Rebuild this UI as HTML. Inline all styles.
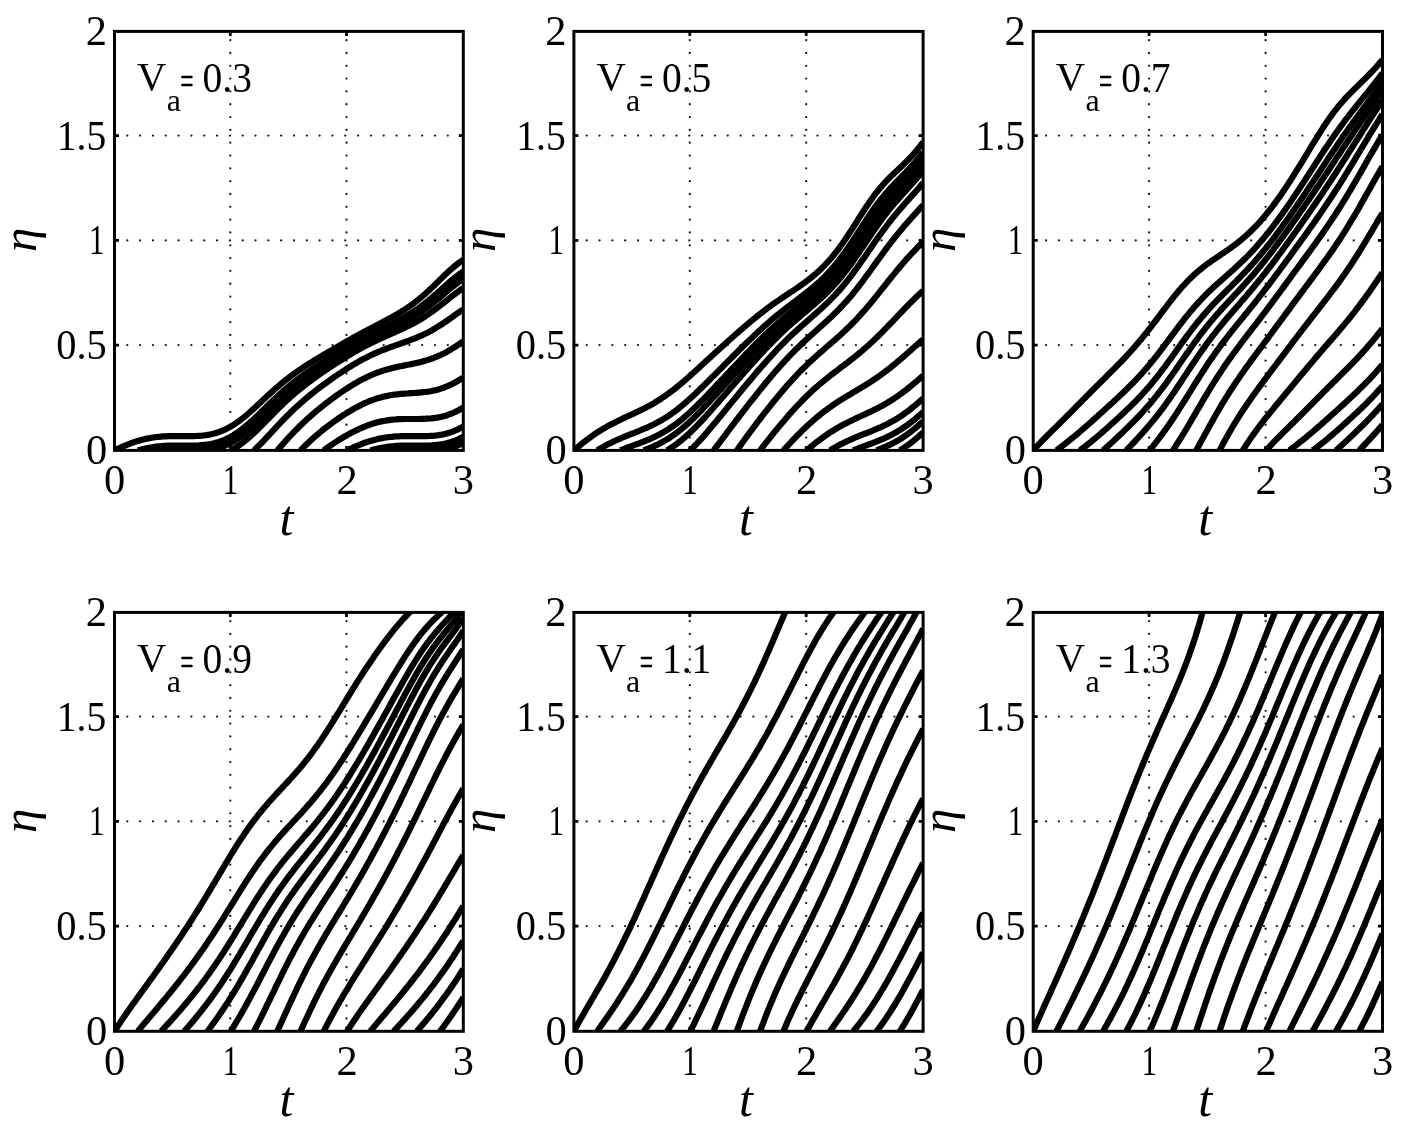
<!DOCTYPE html><html><head><meta charset="utf-8"><style>html,body{margin:0;padding:0;background:#fff;}svg{display:block;filter:grayscale(1)}text{font-family:"Liberation Serif",serif;fill:#000}</style></head><body>
<svg width="1402" height="1131" viewBox="0 0 1402 1131">
<rect width="1402" height="1131" fill="#fff"/>
<g stroke="#1a1a1a" stroke-width="2.3" stroke-linecap="round" stroke-dasharray="0 12.82"><line x1="230.3" y1="450.4" x2="230.3" y2="31.4"/><line x1="346.5" y1="450.4" x2="346.5" y2="31.4"/><line x1="114.5" y1="345.1" x2="463.3" y2="345.1"/><line x1="114.5" y1="240.4" x2="463.3" y2="240.4"/><line x1="114.5" y1="135.6" x2="463.3" y2="135.6"/></g>
<clipPath id="cp0"><rect x="114.5" y="31.4" width="348.8" height="419"/></clipPath>
<g clip-path="url(#cp0)" fill="none" stroke="#000" stroke-width="6.2" stroke-linejoin="round" stroke-linecap="butt"><path d="M114.5,450.4 L116.4,449.5 L118.2,448.6 L120.1,447.8 L121.9,446.9 L123.8,446.1 L125.7,445.4 L127.5,444.6 L129.4,443.9 L131.2,443.2 L133.1,442.5 L135,441.9 L136.8,441.3 L138.7,440.8 L140.5,440.2 L142.4,439.7 L144.3,439.3 L146.1,438.8 L148,438.4 L149.8,438.1 L151.7,437.7 L153.6,437.5 L155.4,437.2 L157.3,437 L159.1,436.8 L161,436.6 L162.9,436.4 L164.7,436.3 L166.6,436.3 L168.4,436.2 L170.3,436.1 L172.2,436.1 L174,436.1 L175.9,436.1 L177.7,436.1 L179.6,436.1 L181.5,436.1 L183.3,436.2 L185.2,436.2 L187.1,436.2 L188.9,436.2 L190.8,436.2 L192.6,436.2 L194.5,436.1 L196.4,436 L198.2,435.9 L200.1,435.8 L201.9,435.7 L203.8,435.5 L205.7,435.2 L207.5,434.9 L209.4,434.6 L211.2,434.2 L213.1,433.8 L215,433.3 L216.8,432.7 L218.7,432.1 L220.5,431.4 L222.4,430.7 L224.3,429.9 L226.1,429 L228,428 L229.8,427 L231.7,426 L233.6,424.8 L235.4,423.6 L237.3,422.3 L239.1,421 L241,419.6 L242.9,418.1 L244.7,416.6 L246.6,415.1 L248.4,413.5 L250.3,411.8 L252.2,410.2 L254,408.5 L255.9,406.8 L257.7,405 L259.6,403.3 L261.5,401.5 L263.3,399.8 L265.2,398.1 L267,396.3 L268.9,394.6 L270.8,392.9 L272.6,391.2 L274.5,389.5 L276.3,387.9 L278.2,386.3 L280.1,384.7 L281.9,383.2 L283.8,381.6 L285.6,380.1 L287.5,378.7 L289.4,377.2 L291.2,375.8 L293.1,374.5 L294.9,373.1 L296.8,371.8 L298.7,370.5 L300.5,369.3 L302.4,368 L304.2,366.8 L306.1,365.6 L308,364.4 L309.8,363.2 L311.7,362.1 L313.5,360.9 L315.4,359.8 L317.3,358.7 L319.1,357.5 L321,356.4 L322.8,355.3 L324.7,354.2 L326.6,353.1 L328.4,352 L330.3,350.9 L332.2,349.9 L334,348.8 L335.9,347.7 L337.7,346.6 L339.6,345.5 L341.5,344.5 L343.3,343.4 L345.2,342.3 L347,341.3 L348.9,340.2 L350.8,339.2 L352.6,338.1 L354.5,337.1 L356.3,336.1 L358.2,335.1 L360.1,334 L361.9,333 L363.8,332.1 L365.6,331 L367.5,330.1 L369.4,329.1 L371.2,328.1 L373.1,327.2 L374.9,326.2 L376.8,325.2 L378.7,324.2 L380.5,323.3 L382.4,322.3 L384.2,321.3 L386.1,320.3 L388,319.3 L389.8,318.3 L391.7,317.3 L393.5,316.3 L395.4,315.2 L397.3,314.1 L399.1,313 L401,311.9 L402.8,310.7 L404.7,309.6 L406.6,308.3 L408.4,307.1 L410.3,305.8 L412.1,304.4 L414,303 L415.9,301.6 L417.7,300.1 L419.6,298.6 L421.4,297.1 L423.3,295.5 L425.2,293.9 L427,292.2 L428.9,290.5 L430.7,288.7 L432.6,287 L434.5,285.2 L436.3,283.4 L438.2,281.6 L440,279.7 L441.9,277.9 L443.8,276.1 L445.6,274.3 L447.5,272.6 L449.3,270.8 L451.2,269.2 L453.1,267.5 L454.9,266 L456.8,264.5 L458.6,263 L460.5,261.7 L462.4,260.4 L463.3,259.9"/><path d="M137.8,450.4 L139.6,449.9 L141.5,449.4 L143.3,449 L145.2,448.6 L147.1,448.2 L148.9,447.8 L150.8,447.5 L152.6,447.2 L154.5,446.9 L156.4,446.6 L158.2,446.4 L160.1,446.3 L161.9,446.1 L163.8,445.9 L165.7,445.8 L167.5,445.7 L169.4,445.7 L171.2,445.6 L173.1,445.6 L175,445.6 L176.8,445.6 L178.7,445.6 L180.5,445.6 L182.4,445.6 L184.3,445.6 L186.1,445.6 L188,445.6 L189.8,445.6 L191.7,445.6 L193.6,445.6 L195.4,445.5 L197.3,445.5 L199.1,445.4 L201,445.2 L202.9,445.1 L204.7,444.9 L206.6,444.7 L208.4,444.4 L210.3,444.1 L212.2,443.7 L214,443.3 L215.9,442.8 L217.7,442.3 L219.6,441.7 L221.5,441 L223.3,440.3 L225.2,439.5 L227,438.6 L228.9,437.7 L230.8,436.7 L232.6,435.6 L234.5,434.5 L236.3,433.2 L238.2,432 L240.1,430.6 L241.9,429.2 L243.8,427.7 L245.6,426.2 L247.5,424.7 L249.4,423 L251.2,421.4 L253.1,419.7 L255,417.9 L256.8,416.2 L258.7,414.4 L260.5,412.6 L262.4,410.8 L264.3,409 L266.1,407.1 L268,405.3 L269.8,403.5 L271.7,401.8 L273.6,400 L275.4,398.2 L277.3,396.5 L279.1,394.8 L281,393.1 L282.9,391.4 L284.7,389.8 L286.6,388.2 L288.4,386.7 L290.3,385.1 L292.2,383.7 L294,382.2 L295.9,380.7 L297.7,379.3 L299.6,377.9 L301.5,376.6 L303.3,375.2 L305.2,373.9 L307,372.6 L308.9,371.3 L310.8,370.1 L312.6,368.8 L314.5,367.6 L316.3,366.4 L318.2,365.2 L320.1,364 L321.9,362.8 L323.8,361.6 L325.6,360.4 L327.5,359.3 L329.4,358.1 L331.2,357 L333.1,355.8 L334.9,354.7 L336.8,353.5 L338.7,352.4 L340.5,351.3 L342.4,350.2 L344.2,349.1 L346.1,348 L348,346.9 L349.8,345.8 L351.7,344.7 L353.5,343.7 L355.4,342.6 L357.3,341.6 L359.1,340.5 L361,339.5 L362.8,338.5 L364.7,337.5 L366.6,336.5 L368.4,335.6 L370.3,334.6 L372.1,333.6 L374,332.7 L375.9,331.8 L377.7,330.8 L379.6,329.9 L381.4,329 L383.3,328.1 L385.2,327.2 L387,326.2 L388.9,325.3 L390.7,324.4 L392.6,323.4 L394.5,322.5 L396.3,321.5 L398.2,320.5 L400.1,319.5 L401.9,318.5 L403.8,317.5 L405.6,316.4 L407.5,315.3 L409.4,314.2 L411.2,313 L413.1,311.8 L414.9,310.6 L416.8,309.3 L418.7,308 L420.5,306.7 L422.4,305.3 L424.2,303.9 L426.1,302.4 L428,300.9 L429.8,299.4 L431.7,297.8 L433.5,296.2 L435.4,294.6 L437.3,293 L439.1,291.3 L441,289.7 L442.8,288 L444.7,286.3 L446.6,284.7 L448.4,283.1 L450.3,281.4 L452.1,279.9 L454,278.3 L455.9,276.9 L457.7,275.4 L459.6,274 L461.4,272.7 L463.3,271.5"/><path d="M161,450.4 L162.9,450.3 L164.7,450.1 L166.6,450 L168.4,449.9 L170.3,449.8 L172.2,449.8 L174,449.8 L175.9,449.7 L177.7,449.7 L179.6,449.7 L181.5,449.7 L183.3,449.7 L185.2,449.7 L187.1,449.7 L188.9,449.7 L190.8,449.7 L192.6,449.7 L194.5,449.6 L196.4,449.6 L198.2,449.5 L200.1,449.4 L201.9,449.3 L203.8,449.1 L205.7,448.9 L207.5,448.7 L209.4,448.4 L211.2,448.1 L213.1,447.7 L215,447.3 L216.8,446.8 L218.7,446.2 L220.5,445.6 L222.4,445 L224.3,444.2 L226.1,443.4 L228,442.5 L229.8,441.6 L231.7,440.6 L233.6,439.5 L235.4,438.3 L237.3,437.1 L239.1,435.8 L241,434.4 L242.9,433 L244.7,431.5 L246.6,430 L248.4,428.4 L250.3,426.7 L252.2,425 L254,423.3 L255.9,421.5 L257.7,419.8 L259.6,417.9 L261.5,416.1 L263.3,414.3 L265.2,412.4 L267,410.6 L268.9,408.8 L270.8,406.9 L272.6,405.1 L274.5,403.3 L276.3,401.5 L278.2,399.7 L280.1,398 L281.9,396.3 L283.8,394.6 L285.6,393 L287.5,391.3 L289.4,389.7 L291.2,388.2 L293.1,386.6 L294.9,385.1 L296.8,383.7 L298.7,382.2 L300.5,380.8 L302.4,379.4 L304.2,378 L306.1,376.7 L308,375.4 L309.8,374.1 L311.7,372.8 L313.5,371.5 L315.4,370.2 L317.3,369 L319.1,367.7 L321,366.5 L322.8,365.3 L324.7,364.1 L326.6,362.9 L328.4,361.7 L330.3,360.5 L332.2,359.4 L334,358.2 L335.9,357 L337.7,355.9 L339.6,354.7 L341.5,353.6 L343.3,352.4 L345.2,351.3 L347,350.2 L348.9,349.1 L350.8,348 L352.6,346.9 L354.5,345.9 L356.3,344.8 L358.2,343.8 L360.1,342.7 L361.9,341.7 L363.8,340.7 L365.6,339.7 L367.5,338.8 L369.4,337.8 L371.2,336.9 L373.1,335.9 L374.9,335 L376.8,334.1 L378.7,333.2 L380.5,332.3 L382.4,331.4 L384.2,330.5 L386.1,329.6 L388,328.7 L389.8,327.8 L391.7,326.9 L393.5,326 L395.4,325.1 L397.3,324.2 L399.1,323.2 L401,322.2 L402.8,321.3 L404.7,320.3 L406.6,319.3 L408.4,318.2 L410.3,317.1 L412.1,316 L414,314.9 L415.9,313.7 L417.7,312.5 L419.6,311.3 L421.4,310 L423.3,308.6 L425.2,307.3 L427,305.9 L428.9,304.4 L430.7,303 L432.6,301.5 L434.5,300 L436.3,298.4 L438.2,296.8 L440,295.3 L441.9,293.7 L443.8,292.1 L445.6,290.5 L447.5,288.9 L449.3,287.3 L451.2,285.8 L453.1,284.2 L454.9,282.8 L456.8,281.3 L458.6,279.9 L460.5,278.6 L462.4,277.3 L463.3,276.7"/><path d="M184.3,450.4 L186.1,450.4 L188,450.4 L189.8,450.4 L191.7,450.4 L193.6,450.4 L195.4,450.3 L197.3,450.2 L199.1,450.1 L201,450 L202.9,449.9 L204.7,449.7 L206.6,449.5 L208.4,449.2 L210.3,448.9 L212.2,448.6 L214,448.2 L215.9,447.7 L217.7,447.2 L219.6,446.6 L221.5,446 L223.3,445.3 L225.2,444.5 L227,443.7 L228.9,442.8 L230.8,441.8 L232.6,440.7 L234.5,439.6 L236.3,438.4 L238.2,437.2 L240.1,435.8 L241.9,434.4 L243.8,433 L245.6,431.5 L247.5,429.9 L249.4,428.3 L251.2,426.6 L253.1,424.9 L255,423.1 L256.8,421.4 L258.7,419.6 L260.5,417.8 L262.4,415.9 L264.3,414.1 L266.1,412.2 L268,410.4 L269.8,408.5 L271.7,406.7 L273.6,404.9 L275.4,403.1 L277.3,401.3 L279.1,399.5 L281,397.8 L282.9,396.1 L284.7,394.4 L286.6,392.8 L288.4,391.2 L290.3,389.6 L292.2,388 L294,386.5 L295.9,385 L297.7,383.5 L299.6,382.1 L301.5,380.7 L303.3,379.3 L305.2,377.9 L307,376.6 L308.9,375.3 L310.8,374 L312.6,372.7 L314.5,371.4 L316.3,370.1 L318.2,368.9 L320.1,367.6 L321.9,366.4 L323.8,365.2 L325.6,364 L327.5,362.8 L329.4,361.6 L331.2,360.4 L333.1,359.2 L334.9,358.1 L336.8,356.9 L338.7,355.8 L340.5,354.6 L342.4,353.5 L344.2,352.4 L346.1,351.2 L348,350.1 L349.8,349 L351.7,347.9 L353.5,346.9 L355.4,345.8 L357.3,344.7 L359.1,343.7 L361,342.7 L362.8,341.7 L364.7,340.7 L366.6,339.7 L368.4,338.7 L370.3,337.8 L372.1,336.8 L374,335.9 L375.9,335 L377.7,334.1 L379.6,333.2 L381.4,332.3 L383.3,331.4 L385.2,330.5 L387,329.6 L388.9,328.7 L390.7,327.8 L392.6,326.9 L394.5,326 L396.3,325.1 L398.2,324.2 L400.1,323.3 L401.9,322.3 L403.8,321.3 L405.6,320.3 L407.5,319.3 L409.4,318.2 L411.2,317.2 L413.1,316.1 L414.9,314.9 L416.8,313.7 L418.7,312.5 L420.5,311.3 L422.4,310 L424.2,308.7 L426.1,307.3 L428,305.9 L429.8,304.4 L431.7,303 L433.5,301.5 L435.4,299.9 L437.3,298.4 L439.1,296.8 L441,295.3 L442.8,293.7 L444.7,292.1 L446.6,290.5 L448.4,288.9 L450.3,287.4 L452.1,285.8 L454,284.3 L455.9,282.9 L457.7,281.5 L459.6,280.1 L461.4,278.8 L463.3,277.5"/><path d="M207.5,450.4 L209.4,450.1 L211.2,449.8 L213.1,449.4 L215,449 L216.8,448.5 L218.7,448 L220.5,447.4 L222.4,446.7 L224.3,446 L226.1,445.2 L228,444.3 L229.8,443.4 L231.7,442.4 L233.6,441.3 L235.4,440.1 L237.3,438.9 L239.1,437.6 L241,436.3 L242.9,434.8 L244.7,433.3 L246.6,431.8 L248.4,430.2 L250.3,428.6 L252.2,426.9 L254,425.2 L255.9,423.4 L257.7,421.6 L259.6,419.8 L261.5,417.9 L263.3,416.1 L265.2,414.2 L267,412.4 L268.9,410.5 L270.8,408.7 L272.6,406.8 L274.5,405 L276.3,403.2 L278.2,401.5 L280.1,399.7 L281.9,398 L283.8,396.3 L285.6,394.6 L287.5,393 L289.4,391.3 L291.2,389.7 L293.1,388.2 L294.9,386.7 L296.8,385.2 L298.7,383.7 L300.5,382.3 L302.4,380.9 L304.2,379.5 L306.1,378.1 L308,376.8 L309.8,375.5 L311.7,374.1 L313.5,372.8 L315.4,371.6 L317.3,370.3 L319.1,369.1 L321,367.8 L322.8,366.6 L324.7,365.4 L326.6,364.2 L328.4,363 L330.3,361.8 L332.2,360.6 L334,359.4 L335.9,358.2 L337.7,357.1 L339.6,355.9 L341.5,354.8 L343.3,353.6 L345.2,352.5 L347,351.4 L348.9,350.3 L350.8,349.2 L352.6,348.1 L354.5,347 L356.3,346 L358.2,344.9 L360.1,343.9 L361.9,342.9 L363.8,341.9 L365.6,340.9 L367.5,339.9 L369.4,338.9 L371.2,338 L373.1,337.1 L374.9,336.2 L376.8,335.2 L378.7,334.3 L380.5,333.4 L382.4,332.6 L384.2,331.7 L386.1,330.8 L388,329.9 L389.8,329 L391.7,328.2 L393.5,327.3 L395.4,326.4 L397.3,325.5 L399.1,324.6 L401,323.6 L402.8,322.7 L404.7,321.7 L406.6,320.7 L408.4,319.7 L410.3,318.6 L412.1,317.5 L414,316.4 L415.9,315.3 L417.7,314.1 L419.6,312.9 L421.4,311.6 L423.3,310.3 L425.2,309 L427,307.6 L428.9,306.2 L430.7,304.8 L432.6,303.4 L434.5,301.9 L436.3,300.3 L438.2,298.8 L440,297.3 L441.9,295.7 L443.8,294.1 L445.6,292.5 L447.5,291 L449.3,289.4 L451.2,287.9 L453.1,286.4 L454.9,284.9 L456.8,283.5 L458.6,282.1 L460.5,280.7 L462.4,279.5 L463.3,278.9"/><path d="M230.8,450.4 L232.6,449.4 L234.5,448.3 L236.3,447.2 L238.2,445.9 L240.1,444.6 L241.9,443.3 L243.8,441.8 L245.6,440.3 L247.5,438.8 L249.4,437.2 L251.2,435.5 L253.1,433.8 L255,432 L256.8,430.2 L258.7,428.4 L260.5,426.5 L262.4,424.7 L264.3,422.8 L266.1,420.9 L268,419 L269.8,417.1 L271.7,415.2 L273.6,413.3 L275.4,411.4 L277.3,409.5 L279.1,407.7 L281,405.9 L282.9,404.1 L284.7,402.3 L286.6,400.6 L288.4,398.9 L290.3,397.2 L292.2,395.6 L294,394 L295.9,392.4 L297.7,390.8 L299.6,389.3 L301.5,387.8 L303.3,386.3 L305.2,384.9 L307,383.5 L308.9,382.1 L310.8,380.7 L312.6,379.3 L314.5,378 L316.3,376.6 L318.2,375.3 L320.1,374 L321.9,372.7 L323.8,371.5 L325.6,370.2 L327.5,368.9 L329.4,367.7 L331.2,366.5 L333.1,365.3 L334.9,364 L336.8,362.8 L338.7,361.6 L340.5,360.5 L342.4,359.3 L344.2,358.1 L346.1,357 L348,355.8 L349.8,354.7 L351.7,353.6 L353.5,352.5 L355.4,351.4 L357.3,350.4 L359.1,349.3 L361,348.3 L362.8,347.3 L364.7,346.3 L366.6,345.3 L368.4,344.4 L370.3,343.4 L372.1,342.5 L374,341.6 L375.9,340.7 L377.7,339.8 L379.6,339 L381.4,338.1 L383.3,337.3 L385.2,336.4 L387,335.6 L388.9,334.8 L390.7,334 L392.6,333.1 L394.5,332.3 L396.3,331.5 L398.2,330.7 L400.1,329.8 L401.9,329 L403.8,328.1 L405.6,327.2 L407.5,326.3 L409.4,325.4 L411.2,324.5 L413.1,323.5 L414.9,322.5 L416.8,321.5 L418.7,320.4 L420.5,319.3 L422.4,318.1 L424.2,317 L426.1,315.8 L428,314.5 L429.8,313.2 L431.7,311.9 L433.5,310.6 L435.4,309.2 L437.3,307.8 L439.1,306.4 L441,304.9 L442.8,303.5 L444.7,302 L446.6,300.5 L448.4,299.1 L450.3,297.6 L452.1,296.1 L454,294.7 L455.9,293.3 L457.7,291.9 L459.6,290.5 L461.4,289.2 L463.3,288"/><path d="M254,450.4 L255.9,448.6 L257.7,446.8 L259.6,444.9 L261.5,443 L263.3,441.1 L265.2,439.1 L267,437.1 L268.9,435.1 L270.8,433.1 L272.6,431.1 L274.5,429.1 L276.3,427.1 L278.2,425.1 L280.1,423.1 L281.9,421.2 L283.8,419.2 L285.6,417.4 L287.5,415.5 L289.4,413.6 L291.2,411.8 L293.1,410 L294.9,408.3 L296.8,406.6 L298.7,404.9 L300.5,403.2 L302.4,401.6 L304.2,400 L306.1,398.4 L308,396.8 L309.8,395.3 L311.7,393.8 L313.5,392.3 L315.4,390.9 L317.3,389.4 L319.1,388 L321,386.6 L322.8,385.2 L324.7,383.9 L326.6,382.5 L328.4,381.2 L330.3,379.9 L332.2,378.5 L334,377.2 L335.9,376 L337.7,374.7 L339.6,373.5 L341.5,372.2 L343.3,371 L345.2,369.8 L347,368.6 L348.9,367.4 L350.8,366.3 L352.6,365.2 L354.5,364 L356.3,363 L358.2,361.9 L360.1,360.8 L361.9,359.8 L363.8,358.8 L365.6,357.9 L367.5,356.9 L369.4,356 L371.2,355.1 L373.1,354.2 L374.9,353.4 L376.8,352.6 L378.7,351.8 L380.5,351 L382.4,350.2 L384.2,349.5 L386.1,348.8 L388,348.1 L389.8,347.4 L391.7,346.7 L393.5,346.1 L395.4,345.4 L397.3,344.8 L399.1,344.1 L401,343.5 L402.8,342.8 L404.7,342.2 L406.6,341.5 L408.4,340.8 L410.3,340.1 L412.1,339.4 L414,338.7 L415.9,338 L417.7,337.2 L419.6,336.4 L421.4,335.6 L423.3,334.7 L425.2,333.8 L427,332.9 L428.9,331.9 L430.7,330.9 L432.6,329.9 L434.5,328.8 L436.3,327.7 L438.2,326.5 L440,325.3 L441.9,324.2 L443.8,322.9 L445.6,321.7 L447.5,320.4 L449.3,319.1 L451.2,317.8 L453.1,316.4 L454.9,315.1 L456.8,313.8 L458.6,312.5 L460.5,311.2 L462.4,309.9 L463.3,309.2"/><path d="M277.3,450.4 L279.1,448.3 L281,446.2 L282.9,444.1 L284.7,442 L286.6,439.9 L288.4,437.9 L290.3,435.9 L292.2,433.9 L294,431.9 L295.9,430 L297.7,428.2 L299.6,426.3 L301.5,424.5 L303.3,422.7 L305.2,421 L307,419.2 L308.9,417.6 L310.8,415.9 L312.6,414.3 L314.5,412.7 L316.3,411.1 L318.2,409.6 L320.1,408 L321.9,406.6 L323.8,405.1 L325.6,403.6 L327.5,402.2 L329.4,400.8 L331.2,399.4 L333.1,398 L334.9,396.7 L336.8,395.3 L338.7,394 L340.5,392.7 L342.4,391.5 L344.2,390.2 L346.1,389 L348,387.8 L349.8,386.6 L351.7,385.5 L353.5,384.3 L355.4,383.2 L357.3,382.2 L359.1,381.1 L361,380.1 L362.8,379.1 L364.7,378.2 L366.6,377.3 L368.4,376.4 L370.3,375.5 L372.1,374.7 L374,374 L375.9,373.2 L377.7,372.5 L379.6,371.9 L381.4,371.2 L383.3,370.6 L385.2,370 L387,369.5 L388.9,369 L390.7,368.5 L392.6,368 L394.5,367.6 L396.3,367.1 L398.2,366.7 L400.1,366.3 L401.9,366 L403.8,365.6 L405.6,365.2 L407.5,364.8 L409.4,364.5 L411.2,364.1 L413.1,363.7 L414.9,363.3 L416.8,362.9 L418.7,362.5 L420.5,362 L422.4,361.5 L424.2,361 L426.1,360.5 L428,359.9 L429.8,359.3 L431.7,358.7 L433.5,358 L435.4,357.2 L437.3,356.5 L439.1,355.6 L441,354.8 L442.8,353.9 L444.7,352.9 L446.6,351.9 L448.4,350.9 L450.3,349.8 L452.1,348.7 L454,347.5 L455.9,346.4 L457.7,345.1 L459.6,343.9 L461.4,342.7 L463.3,341.4"/><path d="M300.5,450.4 L302.4,448.5 L304.2,446.6 L306.1,444.8 L308,443 L309.8,441.3 L311.7,439.6 L313.5,437.9 L315.4,436.2 L317.3,434.6 L319.1,433.1 L321,431.5 L322.8,430 L324.7,428.5 L326.6,427.1 L328.4,425.7 L330.3,424.3 L332.2,422.9 L334,421.5 L335.9,420.2 L337.7,418.9 L339.6,417.6 L341.5,416.4 L343.3,415.2 L345.2,414 L347,412.8 L348.9,411.7 L350.8,410.6 L352.6,409.5 L354.5,408.4 L356.3,407.4 L358.2,406.4 L360.1,405.4 L361.9,404.5 L363.8,403.6 L365.6,402.8 L367.5,402 L369.4,401.2 L371.2,400.5 L373.1,399.8 L374.9,399.1 L376.8,398.5 L378.7,397.9 L380.5,397.4 L382.4,396.9 L384.2,396.5 L386.1,396.1 L388,395.7 L389.8,395.3 L391.7,395 L393.5,394.7 L395.4,394.5 L397.3,394.3 L399.1,394.1 L401,393.9 L402.8,393.8 L404.7,393.6 L406.6,393.5 L408.4,393.4 L410.3,393.2 L412.1,393.1 L414,393 L415.9,392.9 L417.7,392.7 L419.6,392.6 L421.4,392.4 L423.3,392.2 L425.2,392 L427,391.8 L428.9,391.5 L430.7,391.2 L432.6,390.8 L434.5,390.4 L436.3,390 L438.2,389.5 L440,388.9 L441.9,388.3 L443.8,387.7 L445.6,386.9 L447.5,386.2 L449.3,385.4 L451.2,384.5 L453.1,383.5 L454.9,382.6 L456.8,381.5 L458.6,380.4 L460.5,379.3 L462.4,378.1 L463.3,377.5"/><path d="M323.8,450.4 L325.6,449 L327.5,447.6 L329.4,446.3 L331.2,445 L333.1,443.7 L334.9,442.5 L336.8,441.3 L338.7,440.1 L340.5,439 L342.4,437.9 L344.2,436.7 L346.1,435.7 L348,434.6 L349.8,433.6 L351.7,432.6 L353.5,431.7 L355.4,430.7 L357.3,429.9 L359.1,429 L361,428.2 L362.8,427.4 L364.7,426.6 L366.6,425.9 L368.4,425.2 L370.3,424.5 L372.1,423.9 L374,423.3 L375.9,422.8 L377.7,422.3 L379.6,421.8 L381.4,421.4 L383.3,421 L385.2,420.7 L387,420.4 L388.9,420.1 L390.7,419.9 L392.6,419.7 L394.5,419.5 L396.3,419.4 L398.2,419.2 L400.1,419.1 L401.9,419.1 L403.8,419 L405.6,419 L407.5,419 L409.4,419 L411.2,419 L413.1,419 L414.9,419 L416.8,419 L418.7,419 L420.5,418.9 L422.4,418.9 L424.2,418.8 L426.1,418.7 L428,418.6 L429.8,418.5 L431.7,418.3 L433.5,418.1 L435.4,417.9 L437.3,417.6 L439.1,417.2 L441,416.9 L442.8,416.4 L444.7,415.9 L446.6,415.4 L448.4,414.7 L450.3,414 L452.1,413.3 L454,412.5 L455.9,411.6 L457.7,410.7 L459.6,409.7 L461.4,408.6 L463.3,407.5"/><path d="M347,450.4 L348.9,449.5 L350.8,448.6 L352.6,447.8 L354.5,446.9 L356.3,446.1 L358.2,445.4 L360.1,444.6 L361.9,443.9 L363.8,443.2 L365.6,442.5 L367.5,441.9 L369.4,441.3 L371.2,440.8 L373.1,440.2 L374.9,439.7 L376.8,439.3 L378.7,438.8 L380.5,438.4 L382.4,438.1 L384.2,437.7 L386.1,437.5 L388,437.2 L389.8,437 L391.7,436.8 L393.5,436.6 L395.4,436.4 L397.3,436.3 L399.1,436.3 L401,436.2 L402.8,436.1 L404.7,436.1 L406.6,436.1 L408.4,436.1 L410.3,436.1 L412.1,436.1 L414,436.1 L415.9,436.2 L417.7,436.2 L419.6,436.2 L421.4,436.2 L423.3,436.2 L425.2,436.2 L427,436.1 L428.9,436 L430.7,435.9 L432.6,435.8 L434.5,435.7 L436.3,435.5 L438.2,435.2 L440,434.9 L441.9,434.6 L443.8,434.2 L445.6,433.8 L447.5,433.3 L449.3,432.7 L451.2,432.1 L453.1,431.4 L454.9,430.7 L456.8,429.9 L458.6,429 L460.5,428 L462.4,427 L463.3,426.5"/><path d="M370.3,450.4 L372.1,449.9 L374,449.4 L375.9,449 L377.7,448.6 L379.6,448.2 L381.4,447.8 L383.3,447.5 L385.2,447.2 L387,446.9 L388.9,446.6 L390.7,446.4 L392.6,446.3 L394.5,446.1 L396.3,445.9 L398.2,445.8 L400.1,445.7 L401.9,445.7 L403.8,445.6 L405.6,445.6 L407.5,445.6 L409.4,445.6 L411.2,445.6 L413.1,445.6 L414.9,445.6 L416.8,445.6 L418.7,445.6 L420.5,445.6 L422.4,445.6 L424.2,445.6 L426.1,445.6 L428,445.5 L429.8,445.5 L431.7,445.4 L433.5,445.2 L435.4,445.1 L437.3,444.9 L439.1,444.7 L441,444.4 L442.8,444.1 L444.7,443.7 L446.6,443.3 L448.4,442.8 L450.3,442.3 L452.1,441.7 L454,441 L455.9,440.3 L457.7,439.5 L459.6,438.6 L461.4,437.7 L463.3,436.7"/><path d="M393.5,450.4 L395.4,450.3 L397.3,450.1 L399.1,450 L401,449.9 L402.8,449.8 L404.7,449.8 L406.6,449.8 L408.4,449.7 L410.3,449.7 L412.1,449.7 L414,449.7 L415.9,449.7 L417.7,449.7 L419.6,449.7 L421.4,449.7 L423.3,449.7 L425.2,449.7 L427,449.6 L428.9,449.6 L430.7,449.5 L432.6,449.4 L434.5,449.3 L436.3,449.1 L438.2,448.9 L440,448.7 L441.9,448.4 L443.8,448.1 L445.6,447.7 L447.5,447.3 L449.3,446.8 L451.2,446.2 L453.1,445.6 L454.9,445 L456.8,444.2 L458.6,443.4 L460.5,442.5 L462.4,441.6 L463.3,441.1"/><path d="M416.8,450.4 L418.7,450.4 L420.5,450.4 L422.4,450.4 L424.2,450.4 L426.1,450.4 L428,450.3 L429.8,450.2 L431.7,450.1 L433.5,450 L435.4,449.9 L437.3,449.7 L439.1,449.5 L441,449.2 L442.8,448.9 L444.7,448.6 L446.6,448.2 L448.4,447.7 L450.3,447.2 L452.1,446.6 L454,446 L455.9,445.3 L457.7,444.5 L459.6,443.7 L461.4,442.8 L463.3,441.8"/><path d="M440,450.4 L441.9,450.1 L443.8,449.8 L445.6,449.4 L447.5,449 L449.3,448.5 L451.2,448 L453.1,447.4 L454.9,446.7 L456.8,446 L458.6,445.2 L460.5,444.3 L462.4,443.4 L463.3,442.9"/></g>
<path d="M230.3,450.4v-4.5M230.3,31.4v4.5M346.5,450.4v-4.5M346.5,31.4v4.5M114.5,345.1h4.5M463.3,345.1h-4.5M114.5,240.4h4.5M463.3,240.4h-4.5M114.5,135.6h4.5M463.3,135.6h-4.5" stroke="#000" stroke-width="2.8" fill="none"/>
<rect x="114.5" y="31.4" width="348.8" height="419" fill="none" stroke="#000" stroke-width="3"/>
<text x="107.3" y="463.8" font-size="42.5" text-anchor="end" textLength="21.25" lengthAdjust="spacingAndGlyphs">0</text>
<text x="106.8" y="359" font-size="42.5" text-anchor="end" textLength="50.5" lengthAdjust="spacingAndGlyphs">0.5</text>
<text x="104.5" y="254.3" font-size="42.5" text-anchor="end" textLength="15.5" lengthAdjust="spacingAndGlyphs">1</text>
<text x="106.3" y="149.5" font-size="42.5" text-anchor="end" textLength="49.5" lengthAdjust="spacingAndGlyphs">1.5</text>
<text x="107" y="44.8" font-size="42.5" text-anchor="end" textLength="21.25" lengthAdjust="spacingAndGlyphs">2</text>
<text x="114.5" y="494" font-size="42.5" text-anchor="middle" textLength="21.25" lengthAdjust="spacingAndGlyphs">0</text>
<text x="230.5" y="494" font-size="42.5" text-anchor="middle" textLength="15.5" lengthAdjust="spacingAndGlyphs">1</text>
<text x="347" y="494" font-size="42.5" text-anchor="middle" textLength="21.25" lengthAdjust="spacingAndGlyphs">2</text>
<text x="463.3" y="494" font-size="42.5" text-anchor="middle" textLength="21.25" lengthAdjust="spacingAndGlyphs">3</text>
<text x="286.4" y="535" font-size="50" font-style="italic" text-anchor="middle">t</text>
<text transform="translate(36,239.9) rotate(-90)" font-size="49" font-style="italic" text-anchor="middle">η</text>
<text x="137" y="90" font-size="40.5">V</text>
<text x="166.7" y="110.7" font-size="32">a</text>
<path d="M182.4,77h9.1M182.4,85h9.1" stroke="#000" stroke-width="2.5" stroke-linecap="round"/>
<text x="202.5" y="91.7" font-size="42.5" textLength="49.4" lengthAdjust="spacingAndGlyphs">0.3</text>
<g stroke="#1a1a1a" stroke-width="2.3" stroke-linecap="round" stroke-dasharray="0 12.82"><line x1="689.8" y1="450.4" x2="689.8" y2="31.4"/><line x1="806.2" y1="450.4" x2="806.2" y2="31.4"/><line x1="573.9" y1="345.1" x2="923.1" y2="345.1"/><line x1="573.9" y1="240.4" x2="923.1" y2="240.4"/><line x1="573.9" y1="135.6" x2="923.1" y2="135.6"/></g>
<clipPath id="cp1"><rect x="573.9" y="31.4" width="349.2" height="419"/></clipPath>
<g clip-path="url(#cp1)" fill="none" stroke="#000" stroke-width="6.2" stroke-linejoin="round" stroke-linecap="butt"><path d="M573.9,450.4 L575.8,448.8 L577.6,447.2 L579.5,445.7 L581.3,444.1 L583.2,442.6 L585.1,441.2 L586.9,439.8 L588.8,438.4 L590.7,437 L592.5,435.7 L594.4,434.4 L596.2,433.2 L598.1,431.9 L600,430.8 L601.8,429.6 L603.7,428.5 L605.6,427.4 L607.4,426.3 L609.3,425.3 L611.1,424.3 L613,423.4 L614.9,422.4 L616.7,421.5 L618.6,420.6 L620.5,419.7 L622.3,418.8 L624.2,417.9 L626,417 L627.9,416.2 L629.8,415.3 L631.6,414.5 L633.5,413.6 L635.4,412.7 L637.2,411.9 L639.1,411 L640.9,410.1 L642.8,409.1 L644.7,408.2 L646.5,407.2 L648.4,406.2 L650.3,405.2 L652.1,404.2 L654,403.1 L655.8,402 L657.7,400.8 L659.6,399.7 L661.4,398.4 L663.3,397.2 L665.2,395.9 L667,394.6 L668.9,393.2 L670.7,391.8 L672.6,390.4 L674.5,389 L676.3,387.5 L678.2,386 L680.1,384.4 L681.9,382.9 L683.8,381.3 L685.6,379.7 L687.5,378 L689.4,376.4 L691.2,374.7 L693.1,373 L695,371.4 L696.8,369.7 L698.7,368 L700.5,366.2 L702.4,364.5 L704.3,362.8 L706.1,361.1 L708,359.4 L709.9,357.7 L711.7,356 L713.6,354.3 L715.4,352.6 L717.3,350.9 L719.2,349.2 L721,347.5 L722.9,345.8 L724.8,344.2 L726.6,342.5 L728.5,340.8 L730.3,339.2 L732.2,337.5 L734.1,335.8 L735.9,334.2 L737.8,332.6 L739.7,330.9 L741.5,329.3 L743.4,327.7 L745.2,326.1 L747.1,324.5 L749,323 L750.8,321.4 L752.7,319.9 L754.6,318.3 L756.4,316.8 L758.3,315.3 L760.1,313.8 L762,312.4 L763.9,311 L765.7,309.6 L767.6,308.1 L769.5,306.8 L771.3,305.4 L773.2,304.1 L775,302.8 L776.9,301.5 L778.8,300.2 L780.6,298.9 L782.5,297.7 L784.4,296.4 L786.2,295.2 L788.1,293.9 L789.9,292.7 L791.8,291.5 L793.7,290.2 L795.5,289 L797.4,287.7 L799.3,286.4 L801.1,285.1 L803,283.8 L804.8,282.5 L806.7,281.1 L808.6,279.7 L810.4,278.2 L812.3,276.7 L814.1,275.2 L816,273.6 L817.9,271.9 L819.7,270.2 L821.6,268.4 L823.5,266.6 L825.3,264.7 L827.2,262.7 L829,260.6 L830.9,258.5 L832.8,256.3 L834.6,254 L836.5,251.6 L838.4,249.2 L840.2,246.6 L842.1,244 L843.9,241.4 L845.8,238.6 L847.7,235.8 L849.5,233 L851.4,230.1 L853.3,227.2 L855.1,224.3 L857,221.3 L858.8,218.4 L860.7,215.4 L862.6,212.5 L864.4,209.7 L866.3,206.8 L868.2,204.1 L870,201.4 L871.9,198.7 L873.7,196.2 L875.6,193.7 L877.5,191.3 L879.3,189 L881.2,186.8 L883.1,184.7 L884.9,182.6 L886.8,180.6 L888.6,178.7 L890.5,176.8 L892.4,175 L894.2,173.2 L896.1,171.5 L898,169.7 L899.8,168 L901.7,166.2 L903.5,164.4 L905.4,162.6 L907.3,160.7 L909.1,158.8 L911,156.9 L912.9,154.8 L914.7,152.7 L916.6,150.5 L918.4,148.2 L920.3,145.8 L922.2,143.3 L923.1,142.1"/><path d="M597.2,450.4 L599,449.3 L600.9,448.2 L602.8,447.1 L604.6,446.1 L606.5,445.1 L608.4,444.1 L610.2,443.2 L612.1,442.2 L613.9,441.3 L615.8,440.5 L617.7,439.6 L619.5,438.8 L621.4,438 L623.3,437.2 L625.1,436.5 L627,435.7 L628.8,435 L630.7,434.2 L632.6,433.5 L634.4,432.8 L636.3,432 L638.2,431.3 L640,430.5 L641.9,429.7 L643.7,429 L645.6,428.2 L647.5,427.4 L649.3,426.5 L651.2,425.6 L653.1,424.7 L654.9,423.8 L656.8,422.8 L658.6,421.8 L660.5,420.8 L662.4,419.7 L664.2,418.6 L666.1,417.4 L668,416.2 L669.8,414.9 L671.7,413.6 L673.5,412.3 L675.4,410.9 L677.3,409.5 L679.1,408 L681,406.5 L682.9,404.9 L684.7,403.3 L686.6,401.7 L688.4,400.1 L690.3,398.4 L692.2,396.7 L694,395 L695.9,393.2 L697.7,391.4 L699.6,389.6 L701.5,387.8 L703.3,386 L705.2,384.2 L707.1,382.3 L708.9,380.4 L710.8,378.6 L712.6,376.7 L714.5,374.9 L716.4,373 L718.2,371.1 L720.1,369.2 L722,367.4 L723.8,365.5 L725.7,363.6 L727.5,361.8 L729.4,359.9 L731.3,358.1 L733.1,356.2 L735,354.3 L736.9,352.5 L738.7,350.6 L740.6,348.8 L742.4,347 L744.3,345.1 L746.2,343.3 L748,341.5 L749.9,339.7 L751.8,337.9 L753.6,336.2 L755.5,334.4 L757.3,332.6 L759.2,330.9 L761.1,329.2 L762.9,327.5 L764.8,325.8 L766.7,324.2 L768.5,322.5 L770.4,320.9 L772.2,319.3 L774.1,317.8 L776,316.2 L777.8,314.7 L779.7,313.2 L781.6,311.7 L783.4,310.2 L785.3,308.8 L787.1,307.3 L789,305.9 L790.9,304.5 L792.7,303.1 L794.6,301.7 L796.5,300.3 L798.3,298.9 L800.2,297.5 L802,296 L803.9,294.6 L805.8,293.2 L807.6,291.7 L809.5,290.2 L811.4,288.7 L813.2,287.1 L815.1,285.5 L816.9,283.9 L818.8,282.2 L820.7,280.5 L822.5,278.7 L824.4,276.9 L826.3,275 L828.1,273 L830,271 L831.8,268.9 L833.7,266.8 L835.6,264.5 L837.4,262.2 L839.3,259.9 L841.2,257.4 L843,254.9 L844.9,252.3 L846.7,249.7 L848.6,247 L850.5,244.3 L852.3,241.5 L854.2,238.6 L856.1,235.8 L857.9,232.9 L859.8,230 L861.6,227.1 L863.5,224.2 L865.4,221.4 L867.2,218.5 L869.1,215.8 L871,213 L872.8,210.3 L874.7,207.7 L876.5,205.1 L878.4,202.6 L880.3,200.2 L882.1,197.9 L884,195.6 L885.9,193.4 L887.7,191.3 L889.6,189.2 L891.4,187.1 L893.3,185.2 L895.2,183.2 L897,181.3 L898.9,179.4 L900.8,177.5 L902.6,175.6 L904.5,173.7 L906.3,171.7 L908.2,169.8 L910.1,167.8 L911.9,165.8 L913.8,163.7 L915.7,161.5 L917.5,159.3 L919.4,157 L921.2,154.6 L923.1,152.2"/><path d="M620.5,450.4 L622.3,449.6 L624.2,448.9 L626,448.2 L627.9,447.4 L629.8,446.8 L631.6,446.1 L633.5,445.4 L635.4,444.7 L637.2,444 L639.1,443.3 L640.9,442.6 L642.8,441.9 L644.7,441.1 L646.5,440.4 L648.4,439.6 L650.3,438.8 L652.1,438 L654,437.1 L655.8,436.2 L657.7,435.3 L659.6,434.4 L661.4,433.3 L663.3,432.3 L665.2,431.2 L667,430.1 L668.9,428.9 L670.7,427.7 L672.6,426.4 L674.5,425.1 L676.3,423.7 L678.2,422.3 L680.1,420.8 L681.9,419.3 L683.8,417.7 L685.6,416.1 L687.5,414.5 L689.4,412.8 L691.2,411.1 L693.1,409.3 L695,407.5 L696.8,405.7 L698.7,403.8 L700.5,402 L702.4,400.1 L704.3,398.2 L706.1,396.3 L708,394.3 L709.9,392.4 L711.7,390.4 L713.6,388.5 L715.4,386.5 L717.3,384.5 L719.2,382.5 L721,380.6 L722.9,378.6 L724.8,376.6 L726.6,374.6 L728.5,372.6 L730.3,370.7 L732.2,368.7 L734.1,366.7 L735.9,364.8 L737.8,362.8 L739.7,360.8 L741.5,358.9 L743.4,356.9 L745.2,355 L747.1,353 L749,351.1 L750.8,349.2 L752.7,347.3 L754.6,345.4 L756.4,343.5 L758.3,341.6 L760.1,339.8 L762,338 L763.9,336.1 L765.7,334.3 L767.6,332.6 L769.5,330.8 L771.3,329.1 L773.2,327.4 L775,325.7 L776.9,324 L778.8,322.4 L780.6,320.7 L782.5,319.1 L784.4,317.6 L786.2,316 L788.1,314.5 L789.9,312.9 L791.8,311.4 L793.7,309.9 L795.5,308.4 L797.4,306.9 L799.3,305.5 L801.1,304 L803,302.5 L804.8,301 L806.7,299.5 L808.6,298 L810.4,296.4 L812.3,294.9 L814.1,293.3 L816,291.7 L817.9,290 L819.7,288.3 L821.6,286.6 L823.5,284.8 L825.3,283 L827.2,281.1 L829,279.1 L830.9,277.1 L832.8,275.1 L834.6,272.9 L836.5,270.7 L838.4,268.5 L840.2,266.1 L842.1,263.7 L843.9,261.3 L845.8,258.7 L847.7,256.2 L849.5,253.5 L851.4,250.8 L853.3,248.1 L855.1,245.3 L857,242.5 L858.8,239.6 L860.7,236.8 L862.6,233.9 L864.4,231.1 L866.3,228.3 L868.2,225.5 L870,222.7 L871.9,219.9 L873.7,217.2 L875.6,214.6 L877.5,212 L879.3,209.5 L881.2,207 L883.1,204.6 L884.9,202.3 L886.8,200 L888.6,197.8 L890.5,195.6 L892.4,193.5 L894.2,191.4 L896.1,189.4 L898,187.4 L899.8,185.4 L901.7,183.5 L903.5,181.5 L905.4,179.5 L907.3,177.5 L909.1,175.5 L911,173.5 L912.9,171.4 L914.7,169.3 L916.6,167.1 L918.4,164.9 L920.3,162.6 L922.2,160.2 L923.1,159"/><path d="M643.7,450.4 L645.6,449.7 L647.5,448.9 L649.3,448.2 L651.2,447.4 L653.1,446.6 L654.9,445.7 L656.8,444.9 L658.6,444 L660.5,443 L662.4,442 L664.2,441 L666.1,439.9 L668,438.8 L669.8,437.6 L671.7,436.3 L673.5,435.1 L675.4,433.7 L677.3,432.3 L679.1,430.9 L681,429.4 L682.9,427.9 L684.7,426.3 L686.6,424.7 L688.4,423 L690.3,421.3 L692.2,419.5 L694,417.7 L695.9,415.9 L697.7,414 L699.6,412.1 L701.5,410.2 L703.3,408.2 L705.2,406.2 L707.1,404.2 L708.9,402.3 L710.8,400.2 L712.6,398.2 L714.5,396.2 L716.4,394.1 L718.2,392.1 L720.1,390 L722,388 L723.8,385.9 L725.7,383.9 L727.5,381.8 L729.4,379.8 L731.3,377.7 L733.1,375.7 L735,373.6 L736.9,371.6 L738.7,369.5 L740.6,367.5 L742.4,365.4 L744.3,363.4 L746.2,361.4 L748,359.4 L749.9,357.4 L751.8,355.4 L753.6,353.4 L755.5,351.5 L757.3,349.5 L759.2,347.6 L761.1,345.6 L762.9,343.7 L764.8,341.8 L766.7,340 L768.5,338.1 L770.4,336.3 L772.2,334.5 L774.1,332.7 L776,330.9 L777.8,329.2 L779.7,327.5 L781.6,325.8 L783.4,324.1 L785.3,322.5 L787.1,320.8 L789,319.2 L790.9,317.6 L792.7,316.1 L794.6,314.5 L796.5,313 L798.3,311.4 L800.2,309.9 L802,308.4 L803.9,306.9 L805.8,305.3 L807.6,303.8 L809.5,302.2 L811.4,300.7 L813.2,299.1 L815.1,297.5 L816.9,295.8 L818.8,294.2 L820.7,292.4 L822.5,290.7 L824.4,288.9 L826.3,287.1 L828.1,285.2 L830,283.2 L831.8,281.2 L833.7,279.2 L835.6,277.1 L837.4,274.9 L839.3,272.6 L841.2,270.3 L843,267.9 L844.9,265.5 L846.7,263 L848.6,260.4 L850.5,257.8 L852.3,255.2 L854.2,252.5 L856.1,249.7 L857.9,246.9 L859.8,244.1 L861.6,241.3 L863.5,238.5 L865.4,235.7 L867.2,232.9 L869.1,230 L871,227.3 L872.8,224.5 L874.7,221.9 L876.5,219.2 L878.4,216.6 L880.3,214.1 L882.1,211.6 L884,209.2 L885.9,206.8 L887.7,204.5 L889.6,202.2 L891.4,200 L893.3,197.9 L895.2,195.8 L897,193.7 L898.9,191.7 L900.8,189.6 L902.6,187.6 L904.5,185.6 L906.3,183.6 L908.2,181.6 L910.1,179.5 L911.9,177.5 L913.8,175.3 L915.7,173.2 L917.5,171 L919.4,168.8 L921.2,166.5 L923.1,164.2"/><path d="M667,450.4 L668.9,449.3 L670.7,448.1 L672.6,446.8 L674.5,445.5 L676.3,444.2 L678.2,442.8 L680.1,441.3 L681.9,439.8 L683.8,438.2 L685.6,436.6 L687.5,434.9 L689.4,433.2 L691.2,431.4 L693.1,429.6 L695,427.8 L696.8,425.9 L698.7,423.9 L700.5,422 L702.4,420 L704.3,418 L706.1,415.9 L708,413.8 L709.9,411.8 L711.7,409.7 L713.6,407.6 L715.4,405.4 L717.3,403.3 L719.2,401.2 L721,399 L722.9,396.9 L724.8,394.7 L726.6,392.6 L728.5,390.5 L730.3,388.3 L732.2,386.2 L734.1,384 L735.9,381.9 L737.8,379.8 L739.7,377.6 L741.5,375.5 L743.4,373.4 L745.2,371.3 L747.1,369.2 L749,367.1 L750.8,365 L752.7,363 L754.6,360.9 L756.4,358.8 L758.3,356.8 L760.1,354.8 L762,352.8 L763.9,350.8 L765.7,348.8 L767.6,346.8 L769.5,344.9 L771.3,343 L773.2,341.1 L775,339.2 L776.9,337.4 L778.8,335.6 L780.6,333.8 L782.5,332 L784.4,330.3 L786.2,328.5 L788.1,326.8 L789.9,325.2 L791.8,323.5 L793.7,321.9 L795.5,320.3 L797.4,318.7 L799.3,317.1 L801.1,315.5 L803,313.9 L804.8,312.3 L806.7,310.8 L808.6,309.2 L810.4,307.6 L812.3,306 L814.1,304.4 L816,302.7 L817.9,301.1 L819.7,299.4 L821.6,297.7 L823.5,295.9 L825.3,294.2 L827.2,292.3 L829,290.4 L830.9,288.5 L832.8,286.5 L834.6,284.5 L836.5,282.4 L838.4,280.2 L840.2,278 L842.1,275.7 L843.9,273.4 L845.8,271 L847.7,268.6 L849.5,266 L851.4,263.5 L853.3,260.9 L855.1,258.2 L857,255.5 L858.8,252.8 L860.7,250 L862.6,247.2 L864.4,244.5 L866.3,241.7 L868.2,238.9 L870,236.1 L871.9,233.4 L873.7,230.6 L875.6,227.9 L877.5,225.3 L879.3,222.7 L881.2,220.1 L883.1,217.6 L884.9,215.2 L886.8,212.8 L888.6,210.4 L890.5,208.1 L892.4,205.9 L894.2,203.7 L896.1,201.5 L898,199.4 L899.8,197.3 L901.7,195.2 L903.5,193.2 L905.4,191.1 L907.3,189.1 L909.1,187 L911,184.9 L912.9,182.8 L914.7,180.7 L916.6,178.6 L918.4,176.4 L920.3,174.2 L922.2,171.9 L923.1,170.8"/><path d="M690.3,450.4 L692.2,448.6 L694,446.7 L695.9,444.7 L697.7,442.7 L699.6,440.7 L701.5,438.6 L703.3,436.6 L705.2,434.4 L707.1,432.2 L708.9,430.1 L710.8,427.8 L712.6,425.6 L714.5,423.4 L716.4,421.1 L718.2,418.8 L720.1,416.6 L722,414.3 L723.8,412 L725.7,409.7 L727.5,407.5 L729.4,405.2 L731.3,402.9 L733.1,400.6 L735,398.3 L736.9,396.1 L738.7,393.8 L740.6,391.6 L742.4,389.3 L744.3,387.1 L746.2,384.8 L748,382.6 L749.9,380.4 L751.8,378.2 L753.6,376 L755.5,373.8 L757.3,371.6 L759.2,369.4 L761.1,367.3 L762.9,365.2 L764.8,363.1 L766.7,361 L768.5,358.9 L770.4,356.8 L772.2,354.8 L774.1,352.8 L776,350.8 L777.8,348.8 L779.7,346.9 L781.6,344.9 L783.4,343.1 L785.3,341.2 L787.1,339.4 L789,337.5 L790.9,335.8 L792.7,334 L794.6,332.3 L796.5,330.6 L798.3,328.9 L800.2,327.2 L802,325.5 L803.9,323.9 L805.8,322.2 L807.6,320.6 L809.5,319 L811.4,317.3 L813.2,315.7 L815.1,314.1 L816.9,312.4 L818.8,310.8 L820.7,309.1 L822.5,307.4 L824.4,305.6 L826.3,303.9 L828.1,302.1 L830,300.2 L831.8,298.3 L833.7,296.4 L835.6,294.4 L837.4,292.4 L839.3,290.3 L841.2,288.2 L843,286 L844.9,283.8 L846.7,281.5 L848.6,279.1 L850.5,276.7 L852.3,274.3 L854.2,271.7 L856.1,269.2 L857.9,266.6 L859.8,264 L861.6,261.3 L863.5,258.6 L865.4,255.9 L867.2,253.2 L869.1,250.5 L871,247.7 L872.8,245 L874.7,242.3 L876.5,239.6 L878.4,237 L880.3,234.4 L882.1,231.8 L884,229.3 L885.9,226.8 L887.7,224.3 L889.6,221.9 L891.4,219.6 L893.3,217.2 L895.2,215 L897,212.7 L898.9,210.5 L900.8,208.4 L902.6,206.2 L904.5,204.1 L906.3,202 L908.2,199.9 L910.1,197.8 L911.9,195.7 L913.8,193.6 L915.7,191.5 L917.5,189.4 L919.4,187.2 L921.2,185.1 L923.1,182.9"/><path d="M713.6,450.4 L715.4,448 L717.3,445.5 L719.2,443.1 L721,440.6 L722.9,438.1 L724.8,435.7 L726.6,433.2 L728.5,430.7 L730.3,428.2 L732.2,425.7 L734.1,423.3 L735.9,420.8 L737.8,418.4 L739.7,416 L741.5,413.5 L743.4,411.1 L745.2,408.7 L747.1,406.3 L749,403.9 L750.8,401.5 L752.7,399.2 L754.6,396.8 L756.4,394.5 L758.3,392.2 L760.1,389.9 L762,387.5 L763.9,385.3 L765.7,383 L767.6,380.7 L769.5,378.5 L771.3,376.3 L773.2,374.1 L775,371.9 L776.9,369.8 L778.8,367.7 L780.6,365.6 L782.5,363.5 L784.4,361.5 L786.2,359.5 L788.1,357.5 L789.9,355.5 L791.8,353.6 L793.7,351.7 L795.5,349.8 L797.4,348 L799.3,346.2 L801.1,344.4 L803,342.6 L804.8,340.9 L806.7,339.2 L808.6,337.5 L810.4,335.8 L812.3,334.1 L814.1,332.4 L816,330.8 L817.9,329.1 L819.7,327.4 L821.6,325.7 L823.5,324.1 L825.3,322.4 L827.2,320.7 L829,318.9 L830.9,317.2 L832.8,315.4 L834.6,313.6 L836.5,311.8 L838.4,309.9 L840.2,307.9 L842.1,306 L843.9,304 L845.8,301.9 L847.7,299.8 L849.5,297.7 L851.4,295.5 L853.3,293.2 L855.1,290.9 L857,288.6 L858.8,286.2 L860.7,283.7 L862.6,281.3 L864.4,278.8 L866.3,276.2 L868.2,273.7 L870,271.1 L871.9,268.5 L873.7,265.9 L875.6,263.3 L877.5,260.7 L879.3,258.2 L881.2,255.6 L883.1,253 L884.9,250.5 L886.8,248 L888.6,245.5 L890.5,243.1 L892.4,240.7 L894.2,238.3 L896.1,236 L898,233.7 L899.8,231.4 L901.7,229.2 L903.5,227 L905.4,224.8 L907.3,222.7 L909.1,220.6 L911,218.5 L912.9,216.4 L914.7,214.3 L916.6,212.3 L918.4,210.2 L920.3,208.2 L922.2,206.1 L923.1,205.1"/><path d="M736.9,450.4 L738.7,447.8 L740.6,445.2 L742.4,442.6 L744.3,440 L746.2,437.4 L748,434.9 L749.9,432.4 L751.8,429.8 L753.6,427.4 L755.5,424.9 L757.3,422.4 L759.2,420 L761.1,417.5 L762.9,415.1 L764.8,412.7 L766.7,410.3 L768.5,408 L770.4,405.7 L772.2,403.3 L774.1,401 L776,398.7 L777.8,396.5 L779.7,394.2 L781.6,392 L783.4,389.8 L785.3,387.7 L787.1,385.5 L789,383.4 L790.9,381.3 L792.7,379.3 L794.6,377.3 L796.5,375.3 L798.3,373.3 L800.2,371.4 L802,369.5 L803.9,367.7 L805.8,365.9 L807.6,364.1 L809.5,362.3 L811.4,360.6 L813.2,358.8 L815.1,357.2 L816.9,355.5 L818.8,353.8 L820.7,352.2 L822.5,350.6 L824.4,349 L826.3,347.3 L828.1,345.7 L830,344.1 L831.8,342.5 L833.7,340.9 L835.6,339.3 L837.4,337.6 L839.3,336 L841.2,334.3 L843,332.5 L844.9,330.8 L846.7,329 L848.6,327.2 L850.5,325.4 L852.3,323.5 L854.2,321.6 L856.1,319.7 L857.9,317.7 L859.8,315.7 L861.6,313.6 L863.5,311.5 L865.4,309.4 L867.2,307.2 L869.1,305 L871,302.7 L872.8,300.5 L874.7,298.2 L876.5,295.9 L878.4,293.6 L880.3,291.2 L882.1,288.9 L884,286.5 L885.9,284.2 L887.7,281.8 L889.6,279.5 L891.4,277.2 L893.3,274.9 L895.2,272.6 L897,270.3 L898.9,268.1 L900.8,265.9 L902.6,263.7 L904.5,261.6 L906.3,259.4 L908.2,257.3 L910.1,255.3 L911.9,253.3 L913.8,251.3 L915.7,249.3 L917.5,247.4 L919.4,245.5 L921.2,243.6 L923.1,241.8"/><path d="M760.1,450.4 L762,447.9 L763.9,445.5 L765.7,443.1 L767.6,440.8 L769.5,438.4 L771.3,436 L773.2,433.7 L775,431.4 L776.9,429.2 L778.8,426.9 L780.6,424.7 L782.5,422.5 L784.4,420.3 L786.2,418.1 L788.1,416 L789.9,413.8 L791.8,411.7 L793.7,409.7 L795.5,407.6 L797.4,405.6 L799.3,403.7 L801.1,401.7 L803,399.8 L804.8,398 L806.7,396.1 L808.6,394.3 L810.4,392.6 L812.3,390.8 L814.1,389.1 L816,387.4 L817.9,385.8 L819.7,384.2 L821.6,382.6 L823.5,381.1 L825.3,379.6 L827.2,378.1 L829,376.6 L830.9,375.1 L832.8,373.7 L834.6,372.3 L836.5,370.9 L838.4,369.4 L840.2,368 L842.1,366.6 L843.9,365.2 L845.8,363.8 L847.7,362.4 L849.5,361 L851.4,359.5 L853.3,358.1 L855.1,356.6 L857,355.1 L858.8,353.5 L860.7,352 L862.6,350.4 L864.4,348.8 L866.3,347.2 L868.2,345.5 L870,343.8 L871.9,342.1 L873.7,340.4 L875.6,338.6 L877.5,336.8 L879.3,335 L881.2,333.1 L883.1,331.2 L884.9,329.3 L886.8,327.4 L888.6,325.5 L890.5,323.5 L892.4,321.6 L894.2,319.6 L896.1,317.7 L898,315.7 L899.8,313.7 L901.7,311.8 L903.5,309.9 L905.4,307.9 L907.3,306 L909.1,304.1 L911,302.3 L912.9,300.4 L914.7,298.6 L916.6,296.8 L918.4,295.1 L920.3,293.3 L922.2,291.6 L923.1,290.8"/><path d="M783.4,450.4 L785.3,448.3 L787.1,446.3 L789,444.3 L790.9,442.3 L792.7,440.3 L794.6,438.4 L796.5,436.4 L798.3,434.5 L800.2,432.7 L802,430.8 L803.9,429 L805.8,427.2 L807.6,425.5 L809.5,423.8 L811.4,422.1 L813.2,420.4 L815.1,418.8 L816.9,417.2 L818.8,415.7 L820.7,414.2 L822.5,412.7 L824.4,411.3 L826.3,409.9 L828.1,408.5 L830,407.2 L831.8,405.9 L833.7,404.6 L835.6,403.3 L837.4,402.1 L839.3,400.9 L841.2,399.7 L843,398.6 L844.9,397.4 L846.7,396.3 L848.6,395.2 L850.5,394.1 L852.3,393 L854.2,391.9 L856.1,390.8 L857.9,389.6 L859.8,388.5 L861.6,387.4 L863.5,386.3 L865.4,385.1 L867.2,384 L869.1,382.8 L871,381.6 L872.8,380.4 L874.7,379.1 L876.5,377.9 L878.4,376.6 L880.3,375.3 L882.1,373.9 L884,372.5 L885.9,371.1 L887.7,369.7 L889.6,368.3 L891.4,366.8 L893.3,365.3 L895.2,363.8 L897,362.2 L898.9,360.6 L900.8,359 L902.6,357.4 L904.5,355.8 L906.3,354.2 L908.2,352.5 L910.1,350.9 L911.9,349.2 L913.8,347.5 L915.7,345.9 L917.5,344.2 L919.4,342.6 L921.2,340.9 L923.1,339.3"/><path d="M806.7,450.4 L808.6,448.8 L810.4,447.2 L812.3,445.7 L814.1,444.1 L816,442.6 L817.9,441.2 L819.7,439.8 L821.6,438.4 L823.5,437 L825.3,435.7 L827.2,434.4 L829,433.2 L830.9,431.9 L832.8,430.8 L834.6,429.6 L836.5,428.5 L838.4,427.4 L840.2,426.3 L842.1,425.3 L843.9,424.3 L845.8,423.4 L847.7,422.4 L849.5,421.5 L851.4,420.6 L853.3,419.7 L855.1,418.8 L857,417.9 L858.8,417 L860.7,416.2 L862.6,415.3 L864.4,414.5 L866.3,413.6 L868.2,412.7 L870,411.9 L871.9,411 L873.7,410.1 L875.6,409.1 L877.5,408.2 L879.3,407.2 L881.2,406.2 L883.1,405.2 L884.9,404.2 L886.8,403.1 L888.6,402 L890.5,400.8 L892.4,399.7 L894.2,398.4 L896.1,397.2 L898,395.9 L899.8,394.6 L901.7,393.2 L903.5,391.8 L905.4,390.4 L907.3,389 L909.1,387.5 L911,386 L912.9,384.4 L914.7,382.9 L916.6,381.3 L918.4,379.7 L920.3,378 L922.2,376.4 L923.1,375.5"/><path d="M830,450.4 L831.8,449.3 L833.7,448.2 L835.6,447.1 L837.4,446.1 L839.3,445.1 L841.2,444.1 L843,443.2 L844.9,442.2 L846.7,441.3 L848.6,440.5 L850.5,439.6 L852.3,438.8 L854.2,438 L856.1,437.2 L857.9,436.5 L859.8,435.7 L861.6,435 L863.5,434.2 L865.4,433.5 L867.2,432.8 L869.1,432 L871,431.3 L872.8,430.5 L874.7,429.7 L876.5,429 L878.4,428.2 L880.3,427.4 L882.1,426.5 L884,425.6 L885.9,424.7 L887.7,423.8 L889.6,422.8 L891.4,421.8 L893.3,420.8 L895.2,419.7 L897,418.6 L898.9,417.4 L900.8,416.2 L902.6,414.9 L904.5,413.6 L906.3,412.3 L908.2,410.9 L910.1,409.5 L911.9,408 L913.8,406.5 L915.7,404.9 L917.5,403.3 L919.4,401.7 L921.2,400.1 L923.1,398.4"/><path d="M853.3,450.4 L855.1,449.6 L857,448.9 L858.8,448.2 L860.7,447.4 L862.6,446.8 L864.4,446.1 L866.3,445.4 L868.2,444.7 L870,444 L871.9,443.3 L873.7,442.6 L875.6,441.9 L877.5,441.1 L879.3,440.4 L881.2,439.6 L883.1,438.8 L884.9,438 L886.8,437.1 L888.6,436.2 L890.5,435.3 L892.4,434.4 L894.2,433.3 L896.1,432.3 L898,431.2 L899.8,430.1 L901.7,428.9 L903.5,427.7 L905.4,426.4 L907.3,425.1 L909.1,423.7 L911,422.3 L912.9,420.8 L914.7,419.3 L916.6,417.7 L918.4,416.1 L920.3,414.5 L922.2,412.8 L923.1,411.9"/><path d="M876.5,450.4 L878.4,449.7 L880.3,448.9 L882.1,448.2 L884,447.4 L885.9,446.6 L887.7,445.7 L889.6,444.9 L891.4,444 L893.3,443 L895.2,442 L897,441 L898.9,439.9 L900.8,438.8 L902.6,437.6 L904.5,436.3 L906.3,435.1 L908.2,433.7 L910.1,432.3 L911.9,430.9 L913.8,429.4 L915.7,427.9 L917.5,426.3 L919.4,424.7 L921.2,423 L923.1,421.3"/><path d="M899.8,450.4 L901.7,449.3 L903.5,448.1 L905.4,446.8 L907.3,445.5 L909.1,444.2 L911,442.8 L912.9,441.3 L914.7,439.8 L916.6,438.2 L918.4,436.6 L920.3,434.9 L922.2,433.2 L923.1,432.3"/></g>
<path d="M689.8,450.4v-4.5M689.8,31.4v4.5M806.2,450.4v-4.5M806.2,31.4v4.5M573.9,345.1h4.5M923.1,345.1h-4.5M573.9,240.4h4.5M923.1,240.4h-4.5M573.9,135.6h4.5M923.1,135.6h-4.5" stroke="#000" stroke-width="2.8" fill="none"/>
<rect x="573.9" y="31.4" width="349.2" height="419" fill="none" stroke="#000" stroke-width="3"/>
<text x="566.7" y="463.8" font-size="42.5" text-anchor="end" textLength="21.25" lengthAdjust="spacingAndGlyphs">0</text>
<text x="566.2" y="359" font-size="42.5" text-anchor="end" textLength="50.5" lengthAdjust="spacingAndGlyphs">0.5</text>
<text x="563.9" y="254.3" font-size="42.5" text-anchor="end" textLength="15.5" lengthAdjust="spacingAndGlyphs">1</text>
<text x="565.7" y="149.5" font-size="42.5" text-anchor="end" textLength="49.5" lengthAdjust="spacingAndGlyphs">1.5</text>
<text x="566.4" y="44.8" font-size="42.5" text-anchor="end" textLength="21.25" lengthAdjust="spacingAndGlyphs">2</text>
<text x="573.9" y="494" font-size="42.5" text-anchor="middle" textLength="21.25" lengthAdjust="spacingAndGlyphs">0</text>
<text x="690" y="494" font-size="42.5" text-anchor="middle" textLength="15.5" lengthAdjust="spacingAndGlyphs">1</text>
<text x="806.7" y="494" font-size="42.5" text-anchor="middle" textLength="21.25" lengthAdjust="spacingAndGlyphs">2</text>
<text x="923.1" y="494" font-size="42.5" text-anchor="middle" textLength="21.25" lengthAdjust="spacingAndGlyphs">3</text>
<text x="746" y="535" font-size="50" font-style="italic" text-anchor="middle">t</text>
<text transform="translate(495.4,239.9) rotate(-90)" font-size="49" font-style="italic" text-anchor="middle">η</text>
<text x="596.4" y="90" font-size="40.5">V</text>
<text x="626.1" y="110.7" font-size="32">a</text>
<path d="M641.8,77h9.1M641.8,85h9.1" stroke="#000" stroke-width="2.5" stroke-linecap="round"/>
<text x="661.9" y="91.7" font-size="42.5" textLength="49.4" lengthAdjust="spacingAndGlyphs">0.5</text>
<g stroke="#1a1a1a" stroke-width="2.3" stroke-linecap="round" stroke-dasharray="0 12.82"><line x1="1149.1" y1="450.4" x2="1149.1" y2="31.4"/><line x1="1265.6" y1="450.4" x2="1265.6" y2="31.4"/><line x1="1033.2" y1="345.1" x2="1382.5" y2="345.1"/><line x1="1033.2" y1="240.4" x2="1382.5" y2="240.4"/><line x1="1033.2" y1="135.6" x2="1382.5" y2="135.6"/></g>
<clipPath id="cp2"><rect x="1033.2" y="31.4" width="349.3" height="419"/></clipPath>
<g clip-path="url(#cp2)" fill="none" stroke="#000" stroke-width="6.2" stroke-linejoin="round" stroke-linecap="butt"><path d="M1033.2,450.4 L1035.1,448.3 L1036.9,446.3 L1038.8,444.3 L1040.7,442.4 L1042.5,440.4 L1044.4,438.5 L1046.2,436.7 L1048.1,434.8 L1050,432.9 L1051.8,431.1 L1053.7,429.3 L1055.6,427.4 L1057.4,425.6 L1059.3,423.7 L1061.1,421.9 L1063,420 L1064.9,418.2 L1066.7,416.3 L1068.6,414.5 L1070.5,412.6 L1072.3,410.7 L1074.2,408.8 L1076,406.9 L1077.9,405 L1079.8,403.2 L1081.6,401.3 L1083.5,399.4 L1085.4,397.5 L1087.2,395.6 L1089.1,393.7 L1091,391.8 L1092.8,390 L1094.7,388.1 L1096.5,386.3 L1098.4,384.4 L1100.3,382.5 L1102.1,380.7 L1104,378.9 L1105.9,377 L1107.7,375.1 L1109.6,373.3 L1111.4,371.4 L1113.3,369.6 L1115.2,367.7 L1117,365.8 L1118.9,363.9 L1120.8,362 L1122.6,360.1 L1124.5,358.1 L1126.3,356.1 L1128.2,354.1 L1130.1,352.1 L1131.9,350 L1133.8,347.9 L1135.7,345.7 L1137.5,343.6 L1139.4,341.3 L1141.3,339.1 L1143.1,336.8 L1145,334.5 L1146.8,332.1 L1148.7,329.8 L1150.6,327.4 L1152.4,324.9 L1154.3,322.5 L1156.2,320 L1158,317.6 L1159.9,315.1 L1161.7,312.6 L1163.6,310.1 L1165.5,307.7 L1167.3,305.2 L1169.2,302.8 L1171.1,300.4 L1172.9,298.1 L1174.8,295.7 L1176.6,293.5 L1178.5,291.2 L1180.4,289.1 L1182.2,286.9 L1184.1,284.9 L1186,282.9 L1187.8,280.9 L1189.7,279 L1191.5,277.2 L1193.4,275.4 L1195.3,273.7 L1197.1,272.1 L1199,270.5 L1200.9,269 L1202.7,267.5 L1204.6,266 L1206.5,264.6 L1208.3,263.3 L1210.2,261.9 L1212,260.6 L1213.9,259.3 L1215.8,258.1 L1217.6,256.8 L1219.5,255.6 L1221.4,254.3 L1223.2,253.1 L1225.1,251.8 L1226.9,250.5 L1228.8,249.2 L1230.7,247.9 L1232.5,246.6 L1234.4,245.2 L1236.3,243.8 L1238.1,242.3 L1240,240.8 L1241.8,239.3 L1243.7,237.7 L1245.6,236.1 L1247.4,234.4 L1249.3,232.6 L1251.2,230.9 L1253,229 L1254.9,227.1 L1256.8,225.2 L1258.6,223.2 L1260.5,221.1 L1262.3,219 L1264.2,216.8 L1266.1,214.5 L1267.9,212.2 L1269.8,209.9 L1271.7,207.5 L1273.5,205 L1275.4,202.5 L1277.2,200 L1279.1,197.4 L1281,194.7 L1282.8,192 L1284.7,189.2 L1286.6,186.5 L1288.4,183.6 L1290.3,180.8 L1292.1,177.8 L1294,174.9 L1295.9,171.9 L1297.7,168.9 L1299.6,165.9 L1301.5,162.8 L1303.3,159.8 L1305.2,156.7 L1307.1,153.6 L1308.9,150.5 L1310.8,147.4 L1312.6,144.4 L1314.5,141.3 L1316.4,138.3 L1318.2,135.3 L1320.1,132.3 L1322,129.4 L1323.8,126.5 L1325.7,123.7 L1327.5,121 L1329.4,118.3 L1331.3,115.7 L1333.1,113.1 L1335,110.7 L1336.9,108.3 L1338.7,106 L1340.6,103.8 L1342.4,101.6 L1344.3,99.5 L1346.2,97.5 L1348,95.5 L1349.9,93.6 L1351.8,91.7 L1353.6,89.9 L1355.5,88 L1357.4,86.2 L1359.2,84.4 L1361.1,82.6 L1362.9,80.8 L1364.8,79 L1366.7,77.1 L1368.5,75.2 L1370.4,73.3 L1372.3,71.4 L1374.1,69.4 L1376,67.4 L1377.8,65.3 L1379.7,63.1 L1381.6,60.9 L1382.5,59.8"/><path d="M1056.5,450.4 L1058.3,449 L1060.2,447.6 L1062.1,446.1 L1063.9,444.7 L1065.8,443.2 L1067.7,441.7 L1069.5,440.3 L1071.4,438.8 L1073.3,437.3 L1075.1,435.7 L1077,434.2 L1078.8,432.6 L1080.7,431 L1082.6,429.4 L1084.4,427.8 L1086.3,426.2 L1088.2,424.6 L1090,422.9 L1091.9,421.3 L1093.7,419.6 L1095.6,417.9 L1097.5,416.2 L1099.3,414.5 L1101.2,412.9 L1103.1,411.2 L1104.9,409.5 L1106.8,407.8 L1108.6,406.1 L1110.5,404.4 L1112.4,402.7 L1114.2,401 L1116.1,399.2 L1118,397.5 L1119.8,395.8 L1121.7,394 L1123.6,392.2 L1125.4,390.4 L1127.3,388.6 L1129.1,386.8 L1131,384.9 L1132.9,383 L1134.7,381.1 L1136.6,379.2 L1138.5,377.2 L1140.3,375.1 L1142.2,373.1 L1144,371 L1145.9,368.8 L1147.8,366.7 L1149.6,364.4 L1151.5,362.2 L1153.4,359.9 L1155.2,357.5 L1157.1,355.2 L1158.9,352.8 L1160.8,350.3 L1162.7,347.8 L1164.5,345.4 L1166.4,342.9 L1168.3,340.4 L1170.1,337.9 L1172,335.4 L1173.9,332.9 L1175.7,330.4 L1177.6,327.9 L1179.4,325.4 L1181.3,323 L1183.2,320.6 L1185,318.2 L1186.9,315.9 L1188.8,313.6 L1190.6,311.4 L1192.5,309.2 L1194.3,307 L1196.2,304.9 L1198.1,302.8 L1199.9,300.8 L1201.8,298.8 L1203.7,296.9 L1205.5,295 L1207.4,293.1 L1209.2,291.3 L1211.1,289.6 L1213,287.8 L1214.8,286.1 L1216.7,284.4 L1218.6,282.7 L1220.4,281.1 L1222.3,279.4 L1224.2,277.8 L1226,276.1 L1227.9,274.5 L1229.7,272.8 L1231.6,271.2 L1233.5,269.5 L1235.3,267.8 L1237.2,266.1 L1239.1,264.3 L1240.9,262.6 L1242.8,260.8 L1244.6,259 L1246.5,257.1 L1248.4,255.2 L1250.2,253.3 L1252.1,251.3 L1254,249.3 L1255.8,247.2 L1257.7,245.1 L1259.5,243 L1261.4,240.8 L1263.3,238.6 L1265.1,236.4 L1267,234 L1268.9,231.7 L1270.7,229.3 L1272.6,226.9 L1274.4,224.5 L1276.3,222 L1278.2,219.4 L1280,216.9 L1281.9,214.3 L1283.8,211.7 L1285.6,209 L1287.5,206.3 L1289.4,203.6 L1291.2,200.9 L1293.1,198.1 L1294.9,195.4 L1296.8,192.5 L1298.7,189.7 L1300.5,186.9 L1302.4,184.1 L1304.3,181.2 L1306.1,178.3 L1308,175.4 L1309.8,172.5 L1311.7,169.6 L1313.6,166.8 L1315.4,163.9 L1317.3,161 L1319.2,158.1 L1321,155.2 L1322.9,152.4 L1324.7,149.5 L1326.6,146.7 L1328.5,143.9 L1330.3,141.2 L1332.2,138.5 L1334.1,135.8 L1335.9,133.1 L1337.8,130.5 L1339.7,127.9 L1341.5,125.3 L1343.4,122.8 L1345.2,120.3 L1347.1,117.9 L1349,115.5 L1350.8,113.1 L1352.7,110.7 L1354.6,108.3 L1356.4,106 L1358.3,103.7 L1360.1,101.4 L1362,99.1 L1363.9,96.8 L1365.7,94.5 L1367.6,92.2 L1369.5,89.9 L1371.3,87.6 L1373.2,85.2 L1375,82.9 L1376.9,80.5 L1378.8,78.1 L1380.6,75.7 L1382.5,73.2"/><path d="M1079.8,450.4 L1081.6,449.1 L1083.5,447.7 L1085.4,446.3 L1087.2,444.8 L1089.1,443.3 L1091,441.9 L1092.8,440.3 L1094.7,438.8 L1096.5,437.2 L1098.4,435.6 L1100.3,434 L1102.1,432.4 L1104,430.7 L1105.9,429.1 L1107.7,427.5 L1109.6,425.8 L1111.4,424.1 L1113.3,422.4 L1115.2,420.7 L1117,419 L1118.9,417.3 L1120.8,415.6 L1122.6,413.8 L1124.5,412.1 L1126.3,410.3 L1128.2,408.5 L1130.1,406.7 L1131.9,404.9 L1133.8,403.1 L1135.7,401.2 L1137.5,399.2 L1139.4,397.3 L1141.3,395.3 L1143.1,393.3 L1145,391.2 L1146.8,389.1 L1148.7,387 L1150.6,384.8 L1152.4,382.5 L1154.3,380.3 L1156.2,378 L1158,375.6 L1159.9,373.2 L1161.7,370.7 L1163.6,368.3 L1165.5,365.8 L1167.3,363.2 L1169.2,360.7 L1171.1,358.1 L1172.9,355.5 L1174.8,352.9 L1176.6,350.3 L1178.5,347.7 L1180.4,345.1 L1182.2,342.5 L1184.1,340 L1186,337.4 L1187.8,334.9 L1189.7,332.4 L1191.5,330 L1193.4,327.5 L1195.3,325.2 L1197.1,322.8 L1199,320.6 L1200.9,318.3 L1202.7,316.1 L1204.6,313.9 L1206.5,311.8 L1208.3,309.7 L1210.2,307.6 L1212,305.6 L1213.9,303.6 L1215.8,301.7 L1217.6,299.7 L1219.5,297.8 L1221.4,296 L1223.2,294.1 L1225.1,292.2 L1226.9,290.4 L1228.8,288.5 L1230.7,286.7 L1232.5,284.8 L1234.4,283 L1236.3,281.1 L1238.1,279.2 L1240,277.3 L1241.8,275.4 L1243.7,273.5 L1245.6,271.5 L1247.4,269.5 L1249.3,267.5 L1251.2,265.5 L1253,263.4 L1254.9,261.3 L1256.8,259.1 L1258.6,256.9 L1260.5,254.7 L1262.3,252.5 L1264.2,250.2 L1266.1,247.9 L1267.9,245.6 L1269.8,243.2 L1271.7,240.8 L1273.5,238.3 L1275.4,235.9 L1277.2,233.4 L1279.1,230.9 L1281,228.3 L1282.8,225.7 L1284.7,223.2 L1286.6,220.5 L1288.4,217.9 L1290.3,215.2 L1292.1,212.6 L1294,209.9 L1295.9,207.2 L1297.7,204.4 L1299.6,201.7 L1301.5,198.9 L1303.3,196.2 L1305.2,193.4 L1307.1,190.6 L1308.9,187.8 L1310.8,185 L1312.6,182.2 L1314.5,179.4 L1316.4,176.6 L1318.2,173.7 L1320.1,170.9 L1322,168.1 L1323.8,165.3 L1325.7,162.4 L1327.5,159.6 L1329.4,156.8 L1331.3,154 L1333.1,151.3 L1335,148.5 L1336.9,145.7 L1338.7,143 L1340.6,140.3 L1342.4,137.6 L1344.3,134.9 L1346.2,132.2 L1348,129.6 L1349.9,126.9 L1351.8,124.3 L1353.6,121.7 L1355.5,119.2 L1357.4,116.6 L1359.2,114 L1361.1,111.5 L1362.9,108.9 L1364.8,106.4 L1366.7,103.8 L1368.5,101.3 L1370.4,98.8 L1372.3,96.2 L1374.1,93.7 L1376,91.1 L1377.8,88.6 L1379.7,86 L1381.6,83.4 L1382.5,82.1"/><path d="M1103.1,450.4 L1104.9,448.8 L1106.8,447.1 L1108.6,445.4 L1110.5,443.7 L1112.4,442 L1114.2,440.3 L1116.1,438.5 L1118,436.8 L1119.8,435 L1121.7,433.2 L1123.6,431.4 L1125.4,429.6 L1127.3,427.8 L1129.1,426 L1131,424.1 L1132.9,422.3 L1134.7,420.4 L1136.6,418.5 L1138.5,416.5 L1140.3,414.6 L1142.2,412.5 L1144,410.5 L1145.9,408.4 L1147.8,406.3 L1149.6,404.2 L1151.5,402 L1153.4,399.7 L1155.2,397.4 L1157.1,395.1 L1158.9,392.7 L1160.8,390.3 L1162.7,387.8 L1164.5,385.4 L1166.4,382.8 L1168.3,380.2 L1170.1,377.6 L1172,375 L1173.9,372.3 L1175.7,369.6 L1177.6,366.9 L1179.4,364.2 L1181.3,361.5 L1183.2,358.8 L1185,356.1 L1186.9,353.4 L1188.8,350.8 L1190.6,348.1 L1192.5,345.5 L1194.3,342.9 L1196.2,340.3 L1198.1,337.8 L1199.9,335.3 L1201.8,332.9 L1203.7,330.5 L1205.5,328.1 L1207.4,325.8 L1209.2,323.5 L1211.1,321.3 L1213,319.1 L1214.8,316.9 L1216.7,314.7 L1218.6,312.6 L1220.4,310.5 L1222.3,308.5 L1224.2,306.4 L1226,304.4 L1227.9,302.4 L1229.7,300.4 L1231.6,298.4 L1233.5,296.4 L1235.3,294.4 L1237.2,292.4 L1239.1,290.4 L1240.9,288.4 L1242.8,286.3 L1244.6,284.3 L1246.5,282.2 L1248.4,280.1 L1250.2,278 L1252.1,275.9 L1254,273.7 L1255.8,271.5 L1257.7,269.3 L1259.5,267.1 L1261.4,264.8 L1263.3,262.5 L1265.1,260.2 L1267,257.8 L1268.9,255.4 L1270.7,253 L1272.6,250.6 L1274.4,248.1 L1276.3,245.7 L1278.2,243.2 L1280,240.6 L1281.9,238.1 L1283.8,235.5 L1285.6,233 L1287.5,230.4 L1289.4,227.8 L1291.2,225.1 L1293.1,222.5 L1294.9,219.8 L1296.8,217.2 L1298.7,214.5 L1300.5,211.8 L1302.4,209.1 L1304.3,206.4 L1306.1,203.7 L1308,201 L1309.8,198.2 L1311.7,195.5 L1313.6,192.7 L1315.4,190 L1317.3,187.2 L1319.2,184.4 L1321,181.6 L1322.9,178.8 L1324.7,176 L1326.6,173.2 L1328.5,170.4 L1330.3,167.6 L1332.2,164.7 L1334.1,161.9 L1335.9,159.1 L1337.8,156.3 L1339.7,153.5 L1341.5,150.6 L1343.4,147.8 L1345.2,145 L1347.1,142.2 L1349,139.4 L1350.8,136.7 L1352.7,133.9 L1354.6,131.1 L1356.4,128.4 L1358.3,125.6 L1360.1,122.8 L1362,120.1 L1363.9,117.4 L1365.7,114.7 L1367.6,111.9 L1369.5,109.2 L1371.3,106.5 L1373.2,103.8 L1375,101.1 L1376.9,98.4 L1378.8,95.7 L1380.6,93 L1382.5,90.3"/><path d="M1126.3,450.4 L1128.2,448.4 L1130.1,446.5 L1131.9,444.5 L1133.8,442.5 L1135.7,440.5 L1137.5,438.5 L1139.4,436.4 L1141.3,434.4 L1143.1,432.3 L1145,430.2 L1146.8,428 L1148.7,425.9 L1150.6,423.6 L1152.4,421.4 L1154.3,419.1 L1156.2,416.8 L1158,414.4 L1159.9,412 L1161.7,409.6 L1163.6,407.1 L1165.5,404.5 L1167.3,401.9 L1169.2,399.3 L1171.1,396.6 L1172.9,393.9 L1174.8,391.2 L1176.6,388.4 L1178.5,385.6 L1180.4,382.8 L1182.2,379.9 L1184.1,377.1 L1186,374.3 L1187.8,371.4 L1189.7,368.6 L1191.5,365.8 L1193.4,363 L1195.3,360.2 L1197.1,357.4 L1199,354.7 L1200.9,352 L1202.7,349.4 L1204.6,346.8 L1206.5,344.2 L1208.3,341.7 L1210.2,339.2 L1212,336.7 L1213.9,334.3 L1215.8,331.9 L1217.6,329.6 L1219.5,327.3 L1221.4,325 L1223.2,322.8 L1225.1,320.5 L1226.9,318.3 L1228.8,316.2 L1230.7,314 L1232.5,311.8 L1234.4,309.7 L1236.3,307.5 L1238.1,305.4 L1240,303.2 L1241.8,301.1 L1243.7,298.9 L1245.6,296.8 L1247.4,294.6 L1249.3,292.4 L1251.2,290.2 L1253,288 L1254.9,285.7 L1256.8,283.4 L1258.6,281.2 L1260.5,278.9 L1262.3,276.5 L1264.2,274.2 L1266.1,271.8 L1267.9,269.4 L1269.8,267 L1271.7,264.6 L1273.5,262.1 L1275.4,259.6 L1277.2,257.1 L1279.1,254.6 L1281,252.1 L1282.8,249.6 L1284.7,247 L1286.6,244.4 L1288.4,241.9 L1290.3,239.3 L1292.1,236.7 L1294,234.1 L1295.9,231.5 L1297.7,228.9 L1299.6,226.2 L1301.5,223.6 L1303.3,221 L1305.2,218.3 L1307.1,215.6 L1308.9,213 L1310.8,210.3 L1312.6,207.6 L1314.5,204.9 L1316.4,202.1 L1318.2,199.4 L1320.1,196.7 L1322,193.9 L1323.8,191.1 L1325.7,188.3 L1327.5,185.6 L1329.4,182.7 L1331.3,179.9 L1333.1,177 L1335,174.2 L1336.9,171.3 L1338.7,168.4 L1340.6,165.5 L1342.4,162.6 L1344.3,159.7 L1346.2,156.8 L1348,153.9 L1349.9,150.9 L1351.8,148 L1353.6,145.1 L1355.5,142.1 L1357.4,139.2 L1359.2,136.3 L1361.1,133.3 L1362.9,130.4 L1364.8,127.5 L1366.7,124.6 L1368.5,121.7 L1370.4,118.8 L1372.3,115.9 L1374.1,113.1 L1376,110.2 L1377.8,107.4 L1379.7,104.5 L1381.6,101.7 L1382.5,100.3"/><path d="M1149.6,450.4 L1151.5,448.1 L1153.4,445.7 L1155.2,443.3 L1157.1,440.9 L1158.9,438.5 L1160.8,436 L1162.7,433.5 L1164.5,430.9 L1166.4,428.3 L1168.3,425.7 L1170.1,423 L1172,420.2 L1173.9,417.4 L1175.7,414.6 L1177.6,411.7 L1179.4,408.8 L1181.3,405.9 L1183.2,402.9 L1185,400 L1186.9,397 L1188.8,394 L1190.6,391 L1192.5,387.9 L1194.3,385 L1196.2,382 L1198.1,379 L1199.9,376.1 L1201.8,373.1 L1203.7,370.2 L1205.5,367.4 L1207.4,364.6 L1209.2,361.8 L1211.1,359.1 L1213,356.4 L1214.8,353.7 L1216.7,351.1 L1218.6,348.5 L1220.4,346 L1222.3,343.5 L1224.2,341 L1226,338.6 L1227.9,336.2 L1229.7,333.8 L1231.6,331.4 L1233.5,329.1 L1235.3,326.8 L1237.2,324.4 L1239.1,322.1 L1240.9,319.9 L1242.8,317.6 L1244.6,315.3 L1246.5,313 L1248.4,310.7 L1250.2,308.4 L1252.1,306.1 L1254,303.8 L1255.8,301.4 L1257.7,299.1 L1259.5,296.7 L1261.4,294.3 L1263.3,291.9 L1265.1,289.5 L1267,287.1 L1268.9,284.6 L1270.7,282.2 L1272.6,279.7 L1274.4,277.2 L1276.3,274.7 L1278.2,272.2 L1280,269.7 L1281.9,267.2 L1283.8,264.7 L1285.6,262.1 L1287.5,259.5 L1289.4,257 L1291.2,254.4 L1293.1,251.9 L1294.9,249.3 L1296.8,246.7 L1298.7,244.1 L1300.5,241.6 L1302.4,239 L1304.3,236.4 L1306.1,233.8 L1308,231.2 L1309.8,228.5 L1311.7,225.9 L1313.6,223.3 L1315.4,220.6 L1317.3,217.9 L1319.2,215.3 L1321,212.6 L1322.9,209.8 L1324.7,207.1 L1326.6,204.3 L1328.5,201.5 L1330.3,198.7 L1332.2,195.9 L1334.1,193 L1335.9,190.1 L1337.8,187.2 L1339.7,184.3 L1341.5,181.3 L1343.4,178.3 L1345.2,175.3 L1347.1,172.3 L1349,169.2 L1350.8,166.2 L1352.7,163.1 L1354.6,160 L1356.4,156.9 L1358.3,153.8 L1360.1,150.7 L1362,147.6 L1363.9,144.5 L1365.7,141.4 L1367.6,138.3 L1369.5,135.2 L1371.3,132.2 L1373.2,129.1 L1375,126.1 L1376.9,123.1 L1378.8,120.1 L1380.6,117.1 L1382.5,114.2"/><path d="M1172.9,450.4 L1174.8,447.6 L1176.6,444.7 L1178.5,441.7 L1180.4,438.8 L1182.2,435.7 L1184.1,432.7 L1186,429.6 L1187.8,426.4 L1189.7,423.3 L1191.5,420.1 L1193.4,416.9 L1195.3,413.7 L1197.1,410.5 L1199,407.3 L1200.9,404.1 L1202.7,400.9 L1204.6,397.7 L1206.5,394.6 L1208.3,391.5 L1210.2,388.4 L1212,385.4 L1213.9,382.4 L1215.8,379.5 L1217.6,376.6 L1219.5,373.7 L1221.4,370.9 L1223.2,368.1 L1225.1,365.4 L1226.9,362.7 L1228.8,360 L1230.7,357.4 L1232.5,354.8 L1234.4,352.3 L1236.3,349.8 L1238.1,347.3 L1240,344.8 L1241.8,342.3 L1243.7,339.9 L1245.6,337.4 L1247.4,335 L1249.3,332.6 L1251.2,330.1 L1253,327.7 L1254.9,325.3 L1256.8,322.9 L1258.6,320.4 L1260.5,318 L1262.3,315.5 L1264.2,313.1 L1266.1,310.6 L1267.9,308.1 L1269.8,305.6 L1271.7,303.1 L1273.5,300.6 L1275.4,298.1 L1277.2,295.6 L1279.1,293.1 L1281,290.5 L1282.8,288 L1284.7,285.5 L1286.6,282.9 L1288.4,280.4 L1290.3,277.8 L1292.1,275.3 L1294,272.7 L1295.9,270.2 L1297.7,267.7 L1299.6,265.1 L1301.5,262.6 L1303.3,260 L1305.2,257.5 L1307.1,254.9 L1308.9,252.4 L1310.8,249.8 L1312.6,247.2 L1314.5,244.7 L1316.4,242.1 L1318.2,239.4 L1320.1,236.8 L1322,234.2 L1323.8,231.5 L1325.7,228.8 L1327.5,226.1 L1329.4,223.3 L1331.3,220.5 L1333.1,217.7 L1335,214.9 L1336.9,212 L1338.7,209.1 L1340.6,206.1 L1342.4,203.1 L1344.3,200.1 L1346.2,197.1 L1348,194 L1349.9,190.9 L1351.8,187.7 L1353.6,184.5 L1355.5,181.3 L1357.4,178.1 L1359.2,174.9 L1361.1,171.6 L1362.9,168.4 L1364.8,165.1 L1366.7,161.8 L1368.5,158.6 L1370.4,155.3 L1372.3,152.1 L1374.1,148.9 L1376,145.7 L1377.8,142.5 L1379.7,139.4 L1381.6,136.3 L1382.5,134.8"/><path d="M1196.2,450.4 L1198.1,447 L1199.9,443.6 L1201.8,440.2 L1203.7,436.8 L1205.5,433.4 L1207.4,430 L1209.2,426.6 L1211.1,423.2 L1213,419.9 L1214.8,416.6 L1216.7,413.3 L1218.6,410.1 L1220.4,406.9 L1222.3,403.7 L1224.2,400.7 L1226,397.6 L1227.9,394.7 L1229.7,391.7 L1231.6,388.8 L1233.5,386 L1235.3,383.2 L1237.2,380.4 L1239.1,377.7 L1240.9,375 L1242.8,372.4 L1244.6,369.7 L1246.5,367.1 L1248.4,364.5 L1250.2,362 L1252.1,359.5 L1254,356.9 L1255.8,354.4 L1257.7,351.9 L1259.5,349.4 L1261.4,346.8 L1263.3,344.3 L1265.1,341.8 L1267,339.3 L1268.9,336.8 L1270.7,334.3 L1272.6,331.8 L1274.4,329.2 L1276.3,326.7 L1278.2,324.2 L1280,321.6 L1281.9,319.1 L1283.8,316.6 L1285.6,314 L1287.5,311.5 L1289.4,309 L1291.2,306.4 L1293.1,303.9 L1294.9,301.4 L1296.8,298.9 L1298.7,296.4 L1300.5,293.8 L1302.4,291.3 L1304.3,288.8 L1306.1,286.3 L1308,283.8 L1309.8,281.4 L1311.7,278.8 L1313.6,276.3 L1315.4,273.8 L1317.3,271.3 L1319.2,268.8 L1321,266.2 L1322.9,263.7 L1324.7,261.1 L1326.6,258.5 L1328.5,255.9 L1330.3,253.3 L1332.2,250.6 L1334.1,247.9 L1335.9,245.1 L1337.8,242.3 L1339.7,239.5 L1341.5,236.6 L1343.4,233.7 L1345.2,230.8 L1347.1,227.8 L1349,224.7 L1350.8,221.7 L1352.7,218.5 L1354.6,215.4 L1356.4,212.2 L1358.3,209 L1360.1,205.7 L1362,202.4 L1363.9,199.1 L1365.7,195.8 L1367.6,192.5 L1369.5,189.2 L1371.3,185.9 L1373.2,182.6 L1375,179.3 L1376.9,176 L1378.8,172.8 L1380.6,169.6 L1382.5,166.5"/><path d="M1219.5,450.4 L1221.4,446.9 L1223.2,443.4 L1225.1,440.1 L1226.9,436.7 L1228.8,433.4 L1230.7,430.2 L1232.5,427 L1234.4,423.9 L1236.3,420.8 L1238.1,417.8 L1240,414.9 L1241.8,412 L1243.7,409.2 L1245.6,406.4 L1247.4,403.7 L1249.3,401 L1251.2,398.3 L1253,395.7 L1254.9,393.1 L1256.8,390.5 L1258.6,387.9 L1260.5,385.4 L1262.3,382.9 L1264.2,380.4 L1266.1,377.9 L1267.9,375.4 L1269.8,372.9 L1271.7,370.4 L1273.5,367.9 L1275.4,365.5 L1277.2,363 L1279.1,360.5 L1281,358 L1282.8,355.6 L1284.7,353.1 L1286.6,350.6 L1288.4,348.1 L1290.3,345.7 L1292.1,343.2 L1294,340.7 L1295.9,338.3 L1297.7,335.8 L1299.6,333.4 L1301.5,330.9 L1303.3,328.5 L1305.2,326.1 L1307.1,323.7 L1308.9,321.3 L1310.8,318.9 L1312.6,316.5 L1314.5,314.1 L1316.4,311.7 L1318.2,309.3 L1320.1,306.9 L1322,304.5 L1323.8,302.1 L1325.7,299.7 L1327.5,297.3 L1329.4,294.9 L1331.3,292.4 L1333.1,290 L1335,287.5 L1336.9,285 L1338.7,282.4 L1340.6,279.8 L1342.4,277.2 L1344.3,274.6 L1346.2,271.9 L1348,269.1 L1349.9,266.4 L1351.8,263.6 L1353.6,260.7 L1355.5,257.8 L1357.4,254.9 L1359.2,251.9 L1361.1,248.9 L1362.9,245.8 L1364.8,242.8 L1366.7,239.7 L1368.5,236.5 L1370.4,233.4 L1372.3,230.3 L1374.1,227.1 L1376,224 L1377.8,220.9 L1379.7,217.7 L1381.6,214.7 L1382.5,213.1"/><path d="M1242.8,450.4 L1244.6,447.4 L1246.5,444.6 L1248.4,441.7 L1250.2,439 L1252.1,436.3 L1254,433.7 L1255.8,431.1 L1257.7,428.5 L1259.5,426.1 L1261.4,423.6 L1263.3,421.2 L1265.1,418.8 L1267,416.5 L1268.9,414.2 L1270.7,411.9 L1272.6,409.6 L1274.4,407.3 L1276.3,405 L1278.2,402.8 L1280,400.5 L1281.9,398.3 L1283.8,396 L1285.6,393.8 L1287.5,391.5 L1289.4,389.3 L1291.2,387 L1293.1,384.8 L1294.9,382.5 L1296.8,380.3 L1298.7,378 L1300.5,375.8 L1302.4,373.6 L1304.3,371.3 L1306.1,369.1 L1308,366.9 L1309.8,364.7 L1311.7,362.5 L1313.6,360.3 L1315.4,358.1 L1317.3,355.9 L1319.2,353.7 L1321,351.5 L1322.9,349.4 L1324.7,347.2 L1326.6,345.1 L1328.5,342.9 L1330.3,340.8 L1332.2,338.7 L1334.1,336.5 L1335.9,334.4 L1337.8,332.2 L1339.7,330 L1341.5,327.8 L1343.4,325.6 L1345.2,323.4 L1347.1,321.1 L1349,318.9 L1350.8,316.6 L1352.7,314.2 L1354.6,311.8 L1356.4,309.4 L1358.3,307 L1360.1,304.5 L1362,302 L1363.9,299.5 L1365.7,296.9 L1367.6,294.3 L1369.5,291.7 L1371.3,289 L1373.2,286.3 L1375,283.6 L1376.9,280.9 L1378.8,278.1 L1380.6,275.4 L1382.5,272.7"/><path d="M1266.1,450.4 L1267.9,448.3 L1269.8,446.3 L1271.7,444.3 L1273.5,442.4 L1275.4,440.4 L1277.2,438.5 L1279.1,436.7 L1281,434.8 L1282.8,432.9 L1284.7,431.1 L1286.6,429.3 L1288.4,427.4 L1290.3,425.6 L1292.1,423.7 L1294,421.9 L1295.9,420 L1297.7,418.2 L1299.6,416.3 L1301.5,414.5 L1303.3,412.6 L1305.2,410.7 L1307.1,408.8 L1308.9,406.9 L1310.8,405 L1312.6,403.2 L1314.5,401.3 L1316.4,399.4 L1318.2,397.5 L1320.1,395.6 L1322,393.7 L1323.8,391.8 L1325.7,390 L1327.5,388.1 L1329.4,386.3 L1331.3,384.4 L1333.1,382.5 L1335,380.7 L1336.9,378.9 L1338.7,377 L1340.6,375.1 L1342.4,373.3 L1344.3,371.4 L1346.2,369.6 L1348,367.7 L1349.9,365.8 L1351.8,363.9 L1353.6,362 L1355.5,360.1 L1357.4,358.1 L1359.2,356.1 L1361.1,354.1 L1362.9,352.1 L1364.8,350 L1366.7,347.9 L1368.5,345.7 L1370.4,343.6 L1372.3,341.3 L1374.1,339.1 L1376,336.8 L1377.8,334.5 L1379.7,332.1 L1381.6,329.8 L1382.5,328.6"/><path d="M1289.4,450.4 L1291.2,449 L1293.1,447.6 L1294.9,446.1 L1296.8,444.7 L1298.7,443.2 L1300.5,441.7 L1302.4,440.3 L1304.3,438.8 L1306.1,437.3 L1308,435.7 L1309.8,434.2 L1311.7,432.6 L1313.6,431 L1315.4,429.4 L1317.3,427.8 L1319.2,426.2 L1321,424.6 L1322.9,422.9 L1324.7,421.3 L1326.6,419.6 L1328.5,417.9 L1330.3,416.2 L1332.2,414.5 L1334.1,412.9 L1335.9,411.2 L1337.8,409.5 L1339.7,407.8 L1341.5,406.1 L1343.4,404.4 L1345.2,402.7 L1347.1,401 L1349,399.2 L1350.8,397.5 L1352.7,395.8 L1354.6,394 L1356.4,392.2 L1358.3,390.4 L1360.1,388.6 L1362,386.8 L1363.9,384.9 L1365.7,383 L1367.6,381.1 L1369.5,379.2 L1371.3,377.2 L1373.2,375.1 L1375,373.1 L1376.9,371 L1378.8,368.8 L1380.6,366.7 L1382.5,364.4"/><path d="M1312.6,450.4 L1314.5,449.1 L1316.4,447.7 L1318.2,446.3 L1320.1,444.8 L1322,443.3 L1323.8,441.9 L1325.7,440.3 L1327.5,438.8 L1329.4,437.2 L1331.3,435.6 L1333.1,434 L1335,432.4 L1336.9,430.7 L1338.7,429.1 L1340.6,427.5 L1342.4,425.8 L1344.3,424.1 L1346.2,422.4 L1348,420.7 L1349.9,419 L1351.8,417.3 L1353.6,415.6 L1355.5,413.8 L1357.4,412.1 L1359.2,410.3 L1361.1,408.5 L1362.9,406.7 L1364.8,404.9 L1366.7,403.1 L1368.5,401.2 L1370.4,399.2 L1372.3,397.3 L1374.1,395.3 L1376,393.3 L1377.8,391.2 L1379.7,389.1 L1381.6,387 L1382.5,385.9"/><path d="M1335.9,450.4 L1337.8,448.8 L1339.7,447.1 L1341.5,445.4 L1343.4,443.7 L1345.2,442 L1347.1,440.3 L1349,438.5 L1350.8,436.8 L1352.7,435 L1354.6,433.2 L1356.4,431.4 L1358.3,429.6 L1360.1,427.8 L1362,426 L1363.9,424.1 L1365.7,422.3 L1367.6,420.4 L1369.5,418.5 L1371.3,416.5 L1373.2,414.6 L1375,412.5 L1376.9,410.5 L1378.8,408.4 L1380.6,406.3 L1382.5,404.2"/><path d="M1359.2,450.4 L1361.1,448.4 L1362.9,446.5 L1364.8,444.5 L1366.7,442.5 L1368.5,440.5 L1370.4,438.5 L1372.3,436.4 L1374.1,434.4 L1376,432.3 L1377.8,430.2 L1379.7,428 L1381.6,425.9 L1382.5,424.8"/></g>
<path d="M1149.1,450.4v-4.5M1149.1,31.4v4.5M1265.6,450.4v-4.5M1265.6,31.4v4.5M1033.2,345.1h4.5M1382.5,345.1h-4.5M1033.2,240.4h4.5M1382.5,240.4h-4.5M1033.2,135.6h4.5M1382.5,135.6h-4.5" stroke="#000" stroke-width="2.8" fill="none"/>
<rect x="1033.2" y="31.4" width="349.3" height="419" fill="none" stroke="#000" stroke-width="3"/>
<text x="1026" y="463.8" font-size="42.5" text-anchor="end" textLength="21.25" lengthAdjust="spacingAndGlyphs">0</text>
<text x="1025.5" y="359" font-size="42.5" text-anchor="end" textLength="50.5" lengthAdjust="spacingAndGlyphs">0.5</text>
<text x="1023.2" y="254.3" font-size="42.5" text-anchor="end" textLength="15.5" lengthAdjust="spacingAndGlyphs">1</text>
<text x="1025" y="149.5" font-size="42.5" text-anchor="end" textLength="49.5" lengthAdjust="spacingAndGlyphs">1.5</text>
<text x="1025.7" y="44.8" font-size="42.5" text-anchor="end" textLength="21.25" lengthAdjust="spacingAndGlyphs">2</text>
<text x="1033.2" y="494" font-size="42.5" text-anchor="middle" textLength="21.25" lengthAdjust="spacingAndGlyphs">0</text>
<text x="1149.3" y="494" font-size="42.5" text-anchor="middle" textLength="15.5" lengthAdjust="spacingAndGlyphs">1</text>
<text x="1266.1" y="494" font-size="42.5" text-anchor="middle" textLength="21.25" lengthAdjust="spacingAndGlyphs">2</text>
<text x="1382.5" y="494" font-size="42.5" text-anchor="middle" textLength="21.25" lengthAdjust="spacingAndGlyphs">3</text>
<text x="1205.3" y="535" font-size="50" font-style="italic" text-anchor="middle">t</text>
<text transform="translate(954.7,239.9) rotate(-90)" font-size="49" font-style="italic" text-anchor="middle">η</text>
<text x="1055.7" y="90" font-size="40.5">V</text>
<text x="1085.4" y="110.7" font-size="32">a</text>
<path d="M1101.1,77h9.1M1101.1,85h9.1" stroke="#000" stroke-width="2.5" stroke-linecap="round"/>
<text x="1121.2" y="91.7" font-size="42.5" textLength="49.4" lengthAdjust="spacingAndGlyphs">0.7</text>
<g stroke="#1a1a1a" stroke-width="2.3" stroke-linecap="round" stroke-dasharray="0 12.82"><line x1="230.3" y1="1031.3" x2="230.3" y2="612.4"/><line x1="346.5" y1="1031.3" x2="346.5" y2="612.4"/><line x1="114.5" y1="926.1" x2="463.3" y2="926.1"/><line x1="114.5" y1="821.3" x2="463.3" y2="821.3"/><line x1="114.5" y1="716.6" x2="463.3" y2="716.6"/></g>
<clipPath id="cp3"><rect x="114.5" y="612.4" width="348.8" height="418.9"/></clipPath>
<g clip-path="url(#cp3)" fill="none" stroke="#000" stroke-width="6.2" stroke-linejoin="round" stroke-linecap="butt"><path d="M114.5,1031.3 L116.4,1028.4 L118.2,1025.5 L120.1,1022.7 L121.9,1019.9 L123.8,1017.2 L125.7,1014.5 L127.5,1011.8 L129.4,1009.1 L131.2,1006.5 L133.1,1003.9 L135,1001.3 L136.8,998.7 L138.7,996.1 L140.5,993.6 L142.4,991 L144.3,988.4 L146.1,985.8 L148,983.3 L149.8,980.7 L151.7,978.1 L153.6,975.6 L155.4,973 L157.3,970.4 L159.1,967.8 L161,965.2 L162.9,962.5 L164.7,959.9 L166.6,957.2 L168.4,954.6 L170.3,951.9 L172.2,949.2 L174,946.5 L175.9,943.7 L177.7,941 L179.6,938.2 L181.5,935.5 L183.3,932.7 L185.2,929.8 L187.1,927 L188.9,924.1 L190.8,921.3 L192.6,918.3 L194.5,915.4 L196.4,912.4 L198.2,909.5 L200.1,906.5 L201.9,903.4 L203.8,900.4 L205.7,897.3 L207.5,894.2 L209.4,891.1 L211.2,888 L213.1,884.9 L215,881.8 L216.8,878.6 L218.7,875.5 L220.5,872.3 L222.4,869.2 L224.3,866 L226.1,862.9 L228,859.8 L229.8,856.7 L231.7,853.7 L233.6,850.7 L235.4,847.7 L237.3,844.7 L239.1,841.8 L241,839 L242.9,836.2 L244.7,833.4 L246.6,830.7 L248.4,828 L250.3,825.4 L252.2,822.9 L254,820.4 L255.9,818 L257.7,815.6 L259.6,813.2 L261.5,811 L263.3,808.7 L265.2,806.5 L267,804.4 L268.9,802.2 L270.8,800.2 L272.6,798.1 L274.5,796 L276.3,794 L278.2,792 L280.1,790 L281.9,788 L283.8,786 L285.6,784 L287.5,782 L289.4,780 L291.2,778 L293.1,775.9 L294.9,773.8 L296.8,771.7 L298.7,769.6 L300.5,767.4 L302.4,765.2 L304.2,762.9 L306.1,760.5 L308,758.2 L309.8,755.8 L311.7,753.3 L313.5,750.8 L315.4,748.2 L317.3,745.6 L319.1,742.9 L321,740.2 L322.8,737.4 L324.7,734.6 L326.6,731.7 L328.4,728.8 L330.3,725.9 L332.2,722.9 L334,719.9 L335.9,716.9 L337.7,713.8 L339.6,710.8 L341.5,707.7 L343.3,704.6 L345.2,701.6 L347,698.5 L348.9,695.5 L350.8,692.4 L352.6,689.4 L354.5,686.4 L356.3,683.4 L358.2,680.5 L360.1,677.6 L361.9,674.7 L363.8,671.8 L365.6,669 L367.5,666.2 L369.4,663.4 L371.2,660.7 L373.1,658 L374.9,655.3 L376.8,652.7 L378.7,650.1 L380.5,647.5 L382.4,644.9 L384.2,642.4 L386.1,639.9 L388,637.5 L389.8,635.1 L391.7,632.7 L393.5,630.4 L395.4,628.1 L397.3,625.9 L399.1,623.7 L401,621.6 L402.8,619.5 L404.7,617.5 L406.6,615.5 L408.4,613.6 L410.3,611.8 L412.1,610.1 L414,608.4 L415.9,606.8 L416.8,606.1"/><path d="M137.8,1031.3 L139.6,1029.1 L141.5,1026.8 L143.3,1024.6 L145.2,1022.4 L147.1,1020.2 L148.9,1018 L150.8,1015.9 L152.6,1013.7 L154.5,1011.5 L156.4,1009.3 L158.2,1007 L160.1,1004.8 L161.9,1002.6 L163.8,1000.4 L165.7,998.1 L167.5,995.8 L169.4,993.6 L171.2,991.3 L173.1,989 L175,986.6 L176.8,984.3 L178.7,982 L180.5,979.6 L182.4,977.2 L184.3,974.8 L186.1,972.3 L188,969.9 L189.8,967.4 L191.7,964.9 L193.6,962.3 L195.4,959.8 L197.3,957.2 L199.1,954.6 L201,952 L202.9,949.3 L204.7,946.6 L206.6,943.9 L208.4,941.1 L210.3,938.3 L212.2,935.5 L214,932.7 L215.9,929.8 L217.7,926.9 L219.6,924 L221.5,921.1 L223.3,918.1 L225.2,915.1 L227,912.1 L228.9,909.1 L230.8,906.1 L232.6,903.1 L234.5,900.1 L236.3,897.1 L238.2,894.1 L240.1,891.1 L241.9,888.1 L243.8,885.2 L245.6,882.3 L247.5,879.4 L249.4,876.5 L251.2,873.7 L253.1,871 L255,868.2 L256.8,865.6 L258.7,862.9 L260.5,860.3 L262.4,857.8 L264.3,855.3 L266.1,852.9 L268,850.5 L269.8,848.2 L271.7,845.9 L273.6,843.6 L275.4,841.4 L277.3,839.2 L279.1,837.1 L281,835 L282.9,832.9 L284.7,830.9 L286.6,828.8 L288.4,826.8 L290.3,824.8 L292.2,822.8 L294,820.8 L295.9,818.8 L297.7,816.8 L299.6,814.8 L301.5,812.8 L303.3,810.7 L305.2,808.7 L307,806.6 L308.9,804.4 L310.8,802.3 L312.6,800.1 L314.5,797.9 L316.3,795.7 L318.2,793.4 L320.1,791 L321.9,788.7 L323.8,786.2 L325.6,783.8 L327.5,781.3 L329.4,778.7 L331.2,776.1 L333.1,773.5 L334.9,770.8 L336.8,768.1 L338.7,765.3 L340.5,762.5 L342.4,759.7 L344.2,756.8 L346.1,753.9 L348,750.9 L349.8,748 L351.7,745 L353.5,742 L355.4,738.9 L357.3,735.9 L359.1,732.8 L361,729.8 L362.8,726.7 L364.7,723.6 L366.6,720.4 L368.4,717.3 L370.3,714.2 L372.1,711.1 L374,707.9 L375.9,704.8 L377.7,701.6 L379.6,698.5 L381.4,695.4 L383.3,692.2 L385.2,689.1 L387,686 L388.9,682.8 L390.7,679.7 L392.6,676.6 L394.5,673.5 L396.3,670.5 L398.2,667.4 L400.1,664.4 L401.9,661.5 L403.8,658.5 L405.6,655.6 L407.5,652.8 L409.4,650 L411.2,647.3 L413.1,644.6 L414.9,642 L416.8,639.5 L418.7,637 L420.5,634.6 L422.4,632.3 L424.2,630.1 L426.1,627.9 L428,625.8 L429.8,623.8 L431.7,621.9 L433.5,620 L435.4,618.2 L437.3,616.4 L439.1,614.6 L441,612.9 L442.8,611.2 L444.7,609.5 L446.6,607.8 L448.4,606"/><path d="M161,1031.3 L162.9,1029.3 L164.7,1027.4 L166.6,1025.4 L168.4,1023.4 L170.3,1021.3 L172.2,1019.3 L174,1017.2 L175.9,1015.1 L177.7,1013 L179.6,1010.9 L181.5,1008.7 L183.3,1006.6 L185.2,1004.3 L187.1,1002.1 L188.9,999.9 L190.8,997.6 L192.6,995.3 L194.5,992.9 L196.4,990.6 L198.2,988.2 L200.1,985.8 L201.9,983.3 L203.8,980.8 L205.7,978.3 L207.5,975.8 L209.4,973.2 L211.2,970.5 L213.1,967.9 L215,965.2 L216.8,962.4 L218.7,959.7 L220.5,956.9 L222.4,954 L224.3,951.1 L226.1,948.2 L228,945.3 L229.8,942.3 L231.7,939.3 L233.6,936.3 L235.4,933.3 L237.3,930.2 L239.1,927.2 L241,924.1 L242.9,921 L244.7,918 L246.6,914.9 L248.4,911.9 L250.3,908.9 L252.2,905.8 L254,902.9 L255.9,899.9 L257.7,897 L259.6,894.1 L261.5,891.3 L263.3,888.5 L265.2,885.7 L267,883 L268.9,880.3 L270.8,877.7 L272.6,875.2 L274.5,872.6 L276.3,870.1 L278.2,867.7 L280.1,865.3 L281.9,862.9 L283.8,860.6 L285.6,858.4 L287.5,856.1 L289.4,853.9 L291.2,851.7 L293.1,849.5 L294.9,847.3 L296.8,845.2 L298.7,843 L300.5,840.9 L302.4,838.7 L304.2,836.6 L306.1,834.4 L308,832.3 L309.8,830.1 L311.7,827.9 L313.5,825.7 L315.4,823.4 L317.3,821.1 L319.1,818.8 L321,816.5 L322.8,814.1 L324.7,811.7 L326.6,809.2 L328.4,806.7 L330.3,804.2 L332.2,801.6 L334,799 L335.9,796.3 L337.7,793.6 L339.6,790.9 L341.5,788.1 L343.3,785.2 L345.2,782.4 L347,779.5 L348.9,776.5 L350.8,773.5 L352.6,770.5 L354.5,767.5 L356.3,764.4 L358.2,761.3 L360.1,758.1 L361.9,755 L363.8,751.8 L365.6,748.6 L367.5,745.4 L369.4,742.1 L371.2,738.8 L373.1,735.6 L374.9,732.2 L376.8,728.9 L378.7,725.6 L380.5,722.3 L382.4,718.9 L384.2,715.6 L386.1,712.2 L388,708.9 L389.8,705.5 L391.7,702.1 L393.5,698.7 L395.4,695.4 L397.3,692 L399.1,688.7 L401,685.4 L402.8,682.1 L404.7,678.8 L406.6,675.6 L408.4,672.4 L410.3,669.2 L412.1,666.1 L414,663.1 L415.9,660.1 L417.7,657.1 L419.6,654.3 L421.4,651.5 L423.3,648.8 L425.2,646.1 L427,643.5 L428.9,641.1 L430.7,638.6 L432.6,636.3 L434.5,634 L436.3,631.8 L438.2,629.6 L440,627.5 L441.9,625.4 L443.8,623.4 L445.6,621.3 L447.5,619.3 L449.3,617.3 L451.2,615.2 L453.1,613.1 L454.9,610.9 L456.8,608.6 L458.6,606.2 L458.9,605.9"/><path d="M184.3,1031.3 L186.1,1029.2 L188,1027.1 L189.8,1024.9 L191.7,1022.8 L193.6,1020.5 L195.4,1018.3 L197.3,1016 L199.1,1013.7 L201,1011.4 L202.9,1009 L204.7,1006.6 L206.6,1004.1 L208.4,1001.7 L210.3,999.1 L212.2,996.6 L214,994 L215.9,991.4 L217.7,988.7 L219.6,986 L221.5,983.2 L223.3,980.4 L225.2,977.6 L227,974.7 L228.9,971.8 L230.8,968.8 L232.6,965.8 L234.5,962.7 L236.3,959.7 L238.2,956.6 L240.1,953.5 L241.9,950.3 L243.8,947.2 L245.6,944 L247.5,940.8 L249.4,937.6 L251.2,934.4 L253.1,931.2 L255,928.1 L256.8,924.9 L258.7,921.8 L260.5,918.7 L262.4,915.6 L264.3,912.6 L266.1,909.5 L268,906.6 L269.8,903.7 L271.7,900.8 L273.6,897.9 L275.4,895.2 L277.3,892.4 L279.1,889.7 L281,887.1 L282.9,884.5 L284.7,881.9 L286.6,879.4 L288.4,876.9 L290.3,874.4 L292.2,872 L294,869.6 L295.9,867.2 L297.7,864.9 L299.6,862.6 L301.5,860.3 L303.3,858 L305.2,855.7 L307,853.4 L308.9,851.1 L310.8,848.8 L312.6,846.5 L314.5,844.1 L316.3,841.8 L318.2,839.4 L320.1,837.1 L321.9,834.6 L323.8,832.2 L325.6,829.7 L327.5,827.2 L329.4,824.7 L331.2,822.1 L333.1,819.5 L334.9,816.8 L336.8,814.1 L338.7,811.4 L340.5,808.6 L342.4,805.8 L344.2,802.9 L346.1,800 L348,797.1 L349.8,794.1 L351.7,791.1 L353.5,788 L355.4,784.9 L357.3,781.8 L359.1,778.7 L361,775.5 L362.8,772.3 L364.7,769 L366.6,765.7 L368.4,762.4 L370.3,759.1 L372.1,755.8 L374,752.4 L375.9,749 L377.7,745.6 L379.6,742.2 L381.4,738.7 L383.3,735.2 L385.2,731.8 L387,728.3 L388.9,724.8 L390.7,721.3 L392.6,717.7 L394.5,714.2 L396.3,710.7 L398.2,707.2 L400.1,703.7 L401.9,700.2 L403.8,696.7 L405.6,693.2 L407.5,689.8 L409.4,686.4 L411.2,683 L413.1,679.7 L414.9,676.4 L416.8,673.2 L418.7,670 L420.5,666.9 L422.4,663.8 L424.2,660.9 L426.1,658 L428,655.1 L429.8,652.4 L431.7,649.7 L433.5,647.1 L435.4,644.6 L437.3,642.1 L439.1,639.7 L441,637.3 L442.8,635 L444.7,632.7 L446.6,630.4 L448.4,628.2 L450.3,625.9 L452.1,623.6 L454,621.3 L455.9,619 L457.7,616.5 L459.6,614 L461.4,611.4 L463.3,608.5"/><path d="M207.5,1031.3 L209.4,1028.8 L211.2,1026.3 L213.1,1023.7 L215,1021.2 L216.8,1018.5 L218.7,1015.9 L220.5,1013.1 L222.4,1010.4 L224.3,1007.6 L226.1,1004.7 L228,1001.9 L229.8,998.9 L231.7,995.9 L233.6,992.9 L235.4,989.8 L237.3,986.7 L239.1,983.6 L241,980.4 L242.9,977.2 L244.7,973.9 L246.6,970.6 L248.4,967.3 L250.3,964 L252.2,960.7 L254,957.3 L255.9,954 L257.7,950.6 L259.6,947.2 L261.5,943.9 L263.3,940.6 L265.2,937.3 L267,934 L268.9,930.7 L270.8,927.5 L272.6,924.4 L274.5,921.2 L276.3,918.2 L278.2,915.1 L280.1,912.1 L281.9,909.2 L283.8,906.3 L285.6,903.4 L287.5,900.6 L289.4,897.9 L291.2,895.1 L293.1,892.5 L294.9,889.8 L296.8,887.2 L298.7,884.6 L300.5,882.1 L302.4,879.6 L304.2,877.1 L306.1,874.6 L308,872.1 L309.8,869.6 L311.7,867.2 L313.5,864.7 L315.4,862.3 L317.3,859.8 L319.1,857.3 L321,854.8 L322.8,852.3 L324.7,849.8 L326.6,847.2 L328.4,844.6 L330.3,842 L332.2,839.4 L334,836.7 L335.9,834 L337.7,831.2 L339.6,828.4 L341.5,825.6 L343.3,822.7 L345.2,819.8 L347,816.9 L348.9,813.9 L350.8,810.9 L352.6,807.8 L354.5,804.7 L356.3,801.6 L358.2,798.5 L360.1,795.2 L361.9,792 L363.8,788.7 L365.6,785.4 L367.5,782.1 L369.4,778.8 L371.2,775.4 L373.1,772 L374.9,768.5 L376.8,765 L378.7,761.6 L380.5,758.1 L382.4,754.5 L384.2,751 L386.1,747.4 L388,743.8 L389.8,740.2 L391.7,736.6 L393.5,732.9 L395.4,729.3 L397.3,725.6 L399.1,722 L401,718.4 L402.8,714.7 L404.7,711.1 L406.6,707.4 L408.4,703.8 L410.3,700.3 L412.1,696.7 L414,693.2 L415.9,689.7 L417.7,686.3 L419.6,682.9 L421.4,679.6 L423.3,676.3 L425.2,673.2 L427,670 L428.9,667 L430.7,664 L432.6,661.1 L434.5,658.2 L436.3,655.5 L438.2,652.8 L440,650.1 L441.9,647.5 L443.8,645 L445.6,642.5 L447.5,640 L449.3,637.6 L451.2,635.1 L453.1,632.6 L454.9,630.1 L456.8,627.6 L458.6,625 L460.5,622.4 L462.4,619.6 L463.3,618.2"/><path d="M230.8,1031.3 L232.6,1028.3 L234.5,1025.2 L236.3,1022.1 L238.2,1019 L240.1,1015.8 L241.9,1012.5 L243.8,1009.2 L245.6,1005.9 L247.5,1002.5 L249.4,999.1 L251.2,995.6 L253.1,992.1 L255,988.6 L256.8,985.1 L258.7,981.5 L260.5,977.9 L262.4,974.3 L264.3,970.7 L266.1,967.1 L268,963.6 L269.8,960 L271.7,956.5 L273.6,952.9 L275.4,949.5 L277.3,946 L279.1,942.6 L281,939.3 L282.9,936 L284.7,932.7 L286.6,929.5 L288.4,926.3 L290.3,923.2 L292.2,920.1 L294,917.1 L295.9,914.1 L297.7,911.2 L299.6,908.3 L301.5,905.5 L303.3,902.7 L305.2,899.9 L307,897.1 L308.9,894.4 L310.8,891.7 L312.6,889 L314.5,886.4 L316.3,883.7 L318.2,881 L320.1,878.4 L321.9,875.7 L323.8,873.1 L325.6,870.4 L327.5,867.7 L329.4,865 L331.2,862.3 L333.1,859.6 L334.9,856.8 L336.8,854 L338.7,851.2 L340.5,848.3 L342.4,845.4 L344.2,842.5 L346.1,839.5 L348,836.6 L349.8,833.5 L351.7,830.5 L353.5,827.4 L355.4,824.2 L357.3,821.1 L359.1,817.9 L361,814.6 L362.8,811.4 L364.7,808 L366.6,804.7 L368.4,801.3 L370.3,797.9 L372.1,794.5 L374,791 L375.9,787.5 L377.7,784 L379.6,780.5 L381.4,776.9 L383.3,773.3 L385.2,769.7 L387,766 L388.9,762.3 L390.7,758.6 L392.6,754.9 L394.5,751.2 L396.3,747.5 L398.2,743.7 L400.1,739.9 L401.9,736.2 L403.8,732.4 L405.6,728.6 L407.5,724.9 L409.4,721.1 L411.2,717.4 L413.1,713.6 L414.9,709.9 L416.8,706.3 L418.7,702.7 L420.5,699.1 L422.4,695.5 L424.2,692.1 L426.1,688.6 L428,685.3 L429.8,682 L431.7,678.7 L433.5,675.6 L435.4,672.5 L437.3,669.5 L439.1,666.5 L441,663.6 L442.8,660.8 L444.7,658 L446.6,655.2 L448.4,652.5 L450.3,649.9 L452.1,647.2 L454,644.6 L455.9,641.9 L457.7,639.2 L459.6,636.4 L461.4,633.6 L463.3,630.7"/><path d="M254,1031.3 L255.9,1027.7 L257.7,1024 L259.6,1020.3 L261.5,1016.6 L263.3,1012.8 L265.2,1009 L267,1005.2 L268.9,1001.3 L270.8,997.5 L272.6,993.6 L274.5,989.8 L276.3,985.9 L278.2,982.1 L280.1,978.3 L281.9,974.5 L283.8,970.7 L285.6,967 L287.5,963.4 L289.4,959.7 L291.2,956.2 L293.1,952.7 L294.9,949.2 L296.8,945.8 L298.7,942.4 L300.5,939.1 L302.4,935.9 L304.2,932.6 L306.1,929.5 L308,926.4 L309.8,923.3 L311.7,920.3 L313.5,917.3 L315.4,914.3 L317.3,911.4 L319.1,908.5 L321,905.6 L322.8,902.7 L324.7,899.8 L326.6,896.9 L328.4,894.1 L330.3,891.2 L332.2,888.3 L334,885.5 L335.9,882.6 L337.7,879.7 L339.6,876.7 L341.5,873.8 L343.3,870.8 L345.2,867.8 L347,864.8 L348.9,861.8 L350.8,858.7 L352.6,855.6 L354.5,852.4 L356.3,849.3 L358.2,846.1 L360.1,842.8 L361.9,839.5 L363.8,836.3 L365.6,832.9 L367.5,829.6 L369.4,826.2 L371.2,822.7 L373.1,819.3 L374.9,815.8 L376.8,812.3 L378.7,808.7 L380.5,805.1 L382.4,801.5 L384.2,797.9 L386.1,794.2 L388,790.5 L389.8,786.8 L391.7,783.1 L393.5,779.3 L395.4,775.5 L397.3,771.7 L399.1,767.9 L401,764 L402.8,760.2 L404.7,756.3 L406.6,752.4 L408.4,748.5 L410.3,744.7 L412.1,740.8 L414,736.9 L415.9,733 L417.7,729.2 L419.6,725.4 L421.4,721.6 L423.3,717.9 L425.2,714.2 L427,710.5 L428.9,706.9 L430.7,703.3 L432.6,699.8 L434.5,696.4 L436.3,693 L438.2,689.7 L440,686.4 L441.9,683.3 L443.8,680.1 L445.6,677.1 L447.5,674.1 L449.3,671.1 L451.2,668.2 L453.1,665.3 L454.9,662.4 L456.8,659.5 L458.6,656.7 L460.5,653.7 L462.4,650.8 L463.3,649.3"/><path d="M277.3,1031.3 L279.1,1027.2 L281,1023.1 L282.9,1019 L284.7,1014.9 L286.6,1010.9 L288.4,1006.8 L290.3,1002.7 L292.2,998.7 L294,994.7 L295.9,990.8 L297.7,986.9 L299.6,983 L301.5,979.2 L303.3,975.5 L305.2,971.8 L307,968.2 L308.9,964.6 L310.8,961.1 L312.6,957.7 L314.5,954.2 L316.3,950.9 L318.2,947.6 L320.1,944.3 L321.9,941.1 L323.8,937.9 L325.6,934.7 L327.5,931.6 L329.4,928.5 L331.2,925.4 L333.1,922.3 L334.9,919.3 L336.8,916.2 L338.7,913.2 L340.5,910.1 L342.4,907.1 L344.2,904 L346.1,900.9 L348,897.9 L349.8,894.8 L351.7,891.6 L353.5,888.5 L355.4,885.4 L357.3,882.2 L359.1,879 L361,875.7 L362.8,872.5 L364.7,869.2 L366.6,865.9 L368.4,862.5 L370.3,859.2 L372.1,855.8 L374,852.3 L375.9,848.9 L377.7,845.4 L379.6,841.9 L381.4,838.4 L383.3,834.8 L385.2,831.2 L387,827.6 L388.9,823.9 L390.7,820.3 L392.6,816.6 L394.5,812.8 L396.3,809.1 L398.2,805.3 L400.1,801.5 L401.9,797.6 L403.8,793.8 L405.6,789.9 L407.5,786 L409.4,782.1 L411.2,778.2 L413.1,774.2 L414.9,770.3 L416.8,766.4 L418.7,762.4 L420.5,758.5 L422.4,754.6 L424.2,750.7 L426.1,746.8 L428,742.9 L429.8,739.1 L431.7,735.3 L433.5,731.6 L435.4,727.9 L437.3,724.2 L439.1,720.6 L441,717.1 L442.8,713.6 L444.7,710.2 L446.6,706.9 L448.4,703.6 L450.3,700.3 L452.1,697.1 L454,694 L455.9,690.9 L457.7,687.8 L459.6,684.7 L461.4,681.7 L463.3,678.7"/><path d="M300.5,1031.3 L302.4,1027.2 L304.2,1023.1 L306.1,1019 L308,1015 L309.8,1011 L311.7,1007.1 L313.5,1003.3 L315.4,999.4 L317.3,995.7 L319.1,992 L321,988.4 L322.8,984.8 L324.7,981.3 L326.6,977.9 L328.4,974.5 L330.3,971.1 L332.2,967.8 L334,964.5 L335.9,961.3 L337.7,958.1 L339.6,954.9 L341.5,951.7 L343.3,948.6 L345.2,945.4 L347,942.3 L348.9,939.2 L350.8,936.1 L352.6,933 L354.5,929.9 L356.3,926.7 L358.2,923.6 L360.1,920.5 L361.9,917.3 L363.8,914.2 L365.6,911 L367.5,907.8 L369.4,904.6 L371.2,901.4 L373.1,898.1 L374.9,894.8 L376.8,891.6 L378.7,888.2 L380.5,884.9 L382.4,881.5 L384.2,878.2 L386.1,874.8 L388,871.3 L389.8,867.9 L391.7,864.4 L393.5,860.9 L395.4,857.4 L397.3,853.8 L399.1,850.2 L401,846.6 L402.8,843 L404.7,839.3 L406.6,835.6 L408.4,831.9 L410.3,828.2 L412.1,824.4 L414,820.6 L415.9,816.8 L417.7,813 L419.6,809.2 L421.4,805.4 L423.3,801.5 L425.2,797.7 L427,793.8 L428.9,790 L430.7,786.1 L432.6,782.3 L434.5,778.5 L436.3,774.7 L438.2,771 L440,767.3 L441.9,763.6 L443.8,759.9 L445.6,756.4 L447.5,752.8 L449.3,749.3 L451.2,745.9 L453.1,742.5 L454.9,739.2 L456.8,735.9 L458.6,732.7 L460.5,729.5 L462.4,726.4 L463.3,724.8"/><path d="M323.8,1031.3 L325.6,1027.6 L327.5,1024 L329.4,1020.4 L331.2,1016.9 L333.1,1013.5 L334.9,1010.1 L336.8,1006.8 L338.7,1003.5 L340.5,1000.3 L342.4,997.1 L344.2,993.9 L346.1,990.8 L348,987.8 L349.8,984.7 L351.7,981.7 L353.5,978.7 L355.4,975.7 L357.3,972.7 L359.1,969.8 L361,966.9 L362.8,963.9 L364.7,961 L366.6,958 L368.4,955.1 L370.3,952.1 L372.1,949.2 L374,946.2 L375.9,943.3 L377.7,940.3 L379.6,937.3 L381.4,934.3 L383.3,931.3 L385.2,928.3 L387,925.3 L388.9,922.2 L390.7,919.1 L392.6,916 L394.5,912.9 L396.3,909.8 L398.2,906.7 L400.1,903.5 L401.9,900.3 L403.8,897.1 L405.6,893.9 L407.5,890.6 L409.4,887.3 L411.2,884.1 L413.1,880.7 L414.9,877.4 L416.8,874 L418.7,870.7 L420.5,867.2 L422.4,863.8 L424.2,860.4 L426.1,856.9 L428,853.4 L429.8,849.9 L431.7,846.4 L433.5,842.9 L435.4,839.4 L437.3,835.8 L439.1,832.3 L441,828.8 L442.8,825.3 L444.7,821.8 L446.6,818.3 L448.4,814.9 L450.3,811.4 L452.1,808 L454,804.7 L455.9,801.4 L457.7,798.1 L459.6,794.9 L461.4,791.7 L463.3,788.6"/><path d="M347,1031.3 L348.9,1028.4 L350.8,1025.5 L352.6,1022.7 L354.5,1019.9 L356.3,1017.2 L358.2,1014.5 L360.1,1011.8 L361.9,1009.1 L363.8,1006.5 L365.6,1003.9 L367.5,1001.3 L369.4,998.7 L371.2,996.1 L373.1,993.6 L374.9,991 L376.8,988.4 L378.7,985.8 L380.5,983.3 L382.4,980.7 L384.2,978.1 L386.1,975.6 L388,973 L389.8,970.4 L391.7,967.8 L393.5,965.2 L395.4,962.5 L397.3,959.9 L399.1,957.2 L401,954.6 L402.8,951.9 L404.7,949.2 L406.6,946.5 L408.4,943.7 L410.3,941 L412.1,938.2 L414,935.5 L415.9,932.7 L417.7,929.8 L419.6,927 L421.4,924.1 L423.3,921.3 L425.2,918.3 L427,915.4 L428.9,912.4 L430.7,909.5 L432.6,906.5 L434.5,903.4 L436.3,900.4 L438.2,897.3 L440,894.2 L441.9,891.1 L443.8,888 L445.6,884.9 L447.5,881.8 L449.3,878.6 L451.2,875.5 L453.1,872.3 L454.9,869.2 L456.8,866 L458.6,862.9 L460.5,859.8 L462.4,856.7 L463.3,855.2"/><path d="M370.3,1031.3 L372.1,1029.1 L374,1026.8 L375.9,1024.6 L377.7,1022.4 L379.6,1020.2 L381.4,1018 L383.3,1015.9 L385.2,1013.7 L387,1011.5 L388.9,1009.3 L390.7,1007 L392.6,1004.8 L394.5,1002.6 L396.3,1000.4 L398.2,998.1 L400.1,995.8 L401.9,993.6 L403.8,991.3 L405.6,989 L407.5,986.6 L409.4,984.3 L411.2,982 L413.1,979.6 L414.9,977.2 L416.8,974.8 L418.7,972.3 L420.5,969.9 L422.4,967.4 L424.2,964.9 L426.1,962.3 L428,959.8 L429.8,957.2 L431.7,954.6 L433.5,952 L435.4,949.3 L437.3,946.6 L439.1,943.9 L441,941.1 L442.8,938.3 L444.7,935.5 L446.6,932.7 L448.4,929.8 L450.3,926.9 L452.1,924 L454,921.1 L455.9,918.1 L457.7,915.1 L459.6,912.1 L461.4,909.1 L463.3,906.1"/><path d="M393.5,1031.3 L395.4,1029.3 L397.3,1027.4 L399.1,1025.4 L401,1023.4 L402.8,1021.3 L404.7,1019.3 L406.6,1017.2 L408.4,1015.1 L410.3,1013 L412.1,1010.9 L414,1008.7 L415.9,1006.6 L417.7,1004.3 L419.6,1002.1 L421.4,999.9 L423.3,997.6 L425.2,995.3 L427,992.9 L428.9,990.6 L430.7,988.2 L432.6,985.8 L434.5,983.3 L436.3,980.8 L438.2,978.3 L440,975.8 L441.9,973.2 L443.8,970.5 L445.6,967.9 L447.5,965.2 L449.3,962.4 L451.2,959.7 L453.1,956.9 L454.9,954 L456.8,951.1 L458.6,948.2 L460.5,945.3 L462.4,942.3 L463.3,940.8"/><path d="M416.8,1031.3 L418.7,1029.2 L420.5,1027.1 L422.4,1024.9 L424.2,1022.8 L426.1,1020.5 L428,1018.3 L429.8,1016 L431.7,1013.7 L433.5,1011.4 L435.4,1009 L437.3,1006.6 L439.1,1004.1 L441,1001.7 L442.8,999.1 L444.7,996.6 L446.6,994 L448.4,991.4 L450.3,988.7 L452.1,986 L454,983.2 L455.9,980.4 L457.7,977.6 L459.6,974.7 L461.4,971.8 L463.3,968.8"/><path d="M440,1031.3 L441.9,1028.8 L443.8,1026.3 L445.6,1023.7 L447.5,1021.2 L449.3,1018.5 L451.2,1015.9 L453.1,1013.1 L454.9,1010.4 L456.8,1007.6 L458.6,1004.7 L460.5,1001.9 L462.4,998.9 L463.3,997.5"/></g>
<path d="M230.3,1031.3v-4.5M230.3,612.4v4.5M346.5,1031.3v-4.5M346.5,612.4v4.5M114.5,926.1h4.5M463.3,926.1h-4.5M114.5,821.3h4.5M463.3,821.3h-4.5M114.5,716.6h4.5M463.3,716.6h-4.5" stroke="#000" stroke-width="2.8" fill="none"/>
<rect x="114.5" y="612.4" width="348.8" height="418.9" fill="none" stroke="#000" stroke-width="3"/>
<text x="107.3" y="1044.7" font-size="42.5" text-anchor="end" textLength="21.25" lengthAdjust="spacingAndGlyphs">0</text>
<text x="106.8" y="940" font-size="42.5" text-anchor="end" textLength="50.5" lengthAdjust="spacingAndGlyphs">0.5</text>
<text x="104.5" y="835.2" font-size="42.5" text-anchor="end" textLength="15.5" lengthAdjust="spacingAndGlyphs">1</text>
<text x="106.3" y="730.5" font-size="42.5" text-anchor="end" textLength="49.5" lengthAdjust="spacingAndGlyphs">1.5</text>
<text x="107" y="625.8" font-size="42.5" text-anchor="end" textLength="21.25" lengthAdjust="spacingAndGlyphs">2</text>
<text x="114.5" y="1074.9" font-size="42.5" text-anchor="middle" textLength="21.25" lengthAdjust="spacingAndGlyphs">0</text>
<text x="230.5" y="1074.9" font-size="42.5" text-anchor="middle" textLength="15.5" lengthAdjust="spacingAndGlyphs">1</text>
<text x="347" y="1074.9" font-size="42.5" text-anchor="middle" textLength="21.25" lengthAdjust="spacingAndGlyphs">2</text>
<text x="463.3" y="1074.9" font-size="42.5" text-anchor="middle" textLength="21.25" lengthAdjust="spacingAndGlyphs">3</text>
<text x="286.4" y="1115.9" font-size="50" font-style="italic" text-anchor="middle">t</text>
<text transform="translate(36,820.8) rotate(-90)" font-size="49" font-style="italic" text-anchor="middle">η</text>
<text x="137" y="671" font-size="40.5">V</text>
<text x="166.7" y="691.7" font-size="32">a</text>
<path d="M182.4,658h9.1M182.4,666h9.1" stroke="#000" stroke-width="2.5" stroke-linecap="round"/>
<text x="202.5" y="672.7" font-size="42.5" textLength="49.4" lengthAdjust="spacingAndGlyphs">0.9</text>
<g stroke="#1a1a1a" stroke-width="2.3" stroke-linecap="round" stroke-dasharray="0 12.82"><line x1="689.8" y1="1031.3" x2="689.8" y2="612.4"/><line x1="806.2" y1="1031.3" x2="806.2" y2="612.4"/><line x1="573.9" y1="926.1" x2="923.1" y2="926.1"/><line x1="573.9" y1="821.3" x2="923.1" y2="821.3"/><line x1="573.9" y1="716.6" x2="923.1" y2="716.6"/></g>
<clipPath id="cp4"><rect x="573.9" y="612.4" width="349.2" height="418.9"/></clipPath>
<g clip-path="url(#cp4)" fill="none" stroke="#000" stroke-width="6.2" stroke-linejoin="round" stroke-linecap="butt"><path d="M573.9,1031.3 L575.8,1027.8 L577.6,1024.5 L579.5,1021.1 L581.3,1017.8 L583.2,1014.6 L585.1,1011.3 L586.9,1008.1 L588.8,1004.9 L590.7,1001.7 L592.5,998.5 L594.4,995.3 L596.2,992.1 L598.1,988.9 L600,985.7 L601.8,982.4 L603.7,979.1 L605.6,975.7 L607.4,972.3 L609.3,968.9 L611.1,965.5 L613,962 L614.9,958.4 L616.7,954.8 L618.6,951.2 L620.5,947.5 L622.3,943.7 L624.2,939.9 L626,936.1 L627.9,932.2 L629.8,928.3 L631.6,924.3 L633.5,920.3 L635.4,916.3 L637.2,912.2 L639.1,908.1 L640.9,904 L642.8,899.9 L644.7,895.7 L646.5,891.6 L648.4,887.4 L650.3,883.2 L652.1,879.1 L654,874.9 L655.8,870.7 L657.7,866.6 L659.6,862.4 L661.4,858.3 L663.3,854.2 L665.2,850.1 L667,846.1 L668.9,842.1 L670.7,838.1 L672.6,834.1 L674.5,830.2 L676.3,826.4 L678.2,822.5 L680.1,818.7 L681.9,815 L683.8,811.3 L685.6,807.6 L687.5,804 L689.4,800.4 L691.2,796.8 L693.1,793.3 L695,789.8 L696.8,786.4 L698.7,783 L700.5,779.7 L702.4,776.3 L704.3,773 L706.1,769.7 L708,766.5 L709.9,763.2 L711.7,760 L713.6,756.8 L715.4,753.6 L717.3,750.4 L719.2,747.2 L721,744 L722.9,740.8 L724.8,737.6 L726.6,734.4 L728.5,731.1 L730.3,727.9 L732.2,724.6 L734.1,721.3 L735.9,717.9 L737.8,714.5 L739.7,711.1 L741.5,707.6 L743.4,704.1 L745.2,700.5 L747.1,696.9 L749,693.2 L750.8,689.5 L752.7,685.7 L754.6,681.9 L756.4,678 L758.3,674 L760.1,670 L762,665.9 L763.9,661.8 L765.7,657.6 L767.6,653.3 L769.5,649.1 L771.3,644.7 L773.2,640.4 L775,636 L776.9,631.6 L778.8,627.2 L780.6,622.8 L782.5,618.4 L784.4,614 L786.2,609.6 L787.8,605.8"/><path d="M597.2,1031.3 L599,1028.7 L600.9,1026 L602.8,1023.4 L604.6,1020.8 L606.5,1018.1 L608.4,1015.4 L610.2,1012.7 L612.1,1010 L613.9,1007.2 L615.8,1004.4 L617.7,1001.6 L619.5,998.6 L621.4,995.7 L623.3,992.7 L625.1,989.7 L627,986.6 L628.8,983.5 L630.7,980.3 L632.6,977 L634.4,973.7 L636.3,970.4 L638.2,967 L640,963.5 L641.9,960 L643.7,956.5 L645.6,952.9 L647.5,949.3 L649.3,945.6 L651.2,941.9 L653.1,938.2 L654.9,934.4 L656.8,930.7 L658.6,926.9 L660.5,923.1 L662.4,919.2 L664.2,915.4 L666.1,911.6 L668,907.8 L669.8,903.9 L671.7,900.1 L673.5,896.3 L675.4,892.5 L677.3,888.7 L679.1,885 L681,881.3 L682.9,877.5 L684.7,873.9 L686.6,870.2 L688.4,866.6 L690.3,863 L692.2,859.5 L694,856 L695.9,852.5 L697.7,849.1 L699.6,845.7 L701.5,842.3 L703.3,839 L705.2,835.7 L707.1,832.4 L708.9,829.2 L710.8,826 L712.6,822.9 L714.5,819.8 L716.4,816.7 L718.2,813.6 L720.1,810.5 L722,807.5 L723.8,804.5 L725.7,801.5 L727.5,798.6 L729.4,795.6 L731.3,792.6 L733.1,789.7 L735,786.7 L736.9,783.8 L738.7,780.8 L740.6,777.9 L742.4,774.9 L744.3,771.9 L746.2,768.9 L748,765.9 L749.9,762.9 L751.8,759.8 L753.6,756.8 L755.5,753.6 L757.3,750.5 L759.2,747.3 L761.1,744.1 L762.9,740.8 L764.8,737.5 L766.7,734.2 L768.5,730.9 L770.4,727.5 L772.2,724 L774.1,720.5 L776,717 L777.8,713.5 L779.7,709.9 L781.6,706.3 L783.4,702.7 L785.3,699 L787.1,695.3 L789,691.6 L790.9,687.9 L792.7,684.2 L794.6,680.5 L796.5,676.8 L798.3,673.1 L800.2,669.4 L802,665.8 L803.9,662.1 L805.8,658.6 L807.6,655 L809.5,651.5 L811.4,648.1 L813.2,644.7 L815.1,641.3 L816.9,638.1 L818.8,634.9 L820.7,631.8 L822.5,628.7 L824.4,625.8 L826.3,622.9 L828.1,620.1 L830,617.3 L831.8,614.7 L833.7,612.1 L835.6,609.6 L837.4,607.2 L838.4,606"/><path d="M620.5,1031.3 L622.3,1029 L624.2,1026.7 L626,1024.3 L627.9,1021.9 L629.8,1019.4 L631.6,1016.9 L633.5,1014.3 L635.4,1011.7 L637.2,1009 L639.1,1006.2 L640.9,1003.4 L642.8,1000.5 L644.7,997.6 L646.5,994.6 L648.4,991.5 L650.3,988.4 L652.1,985.2 L654,982 L655.8,978.7 L657.7,975.4 L659.6,972 L661.4,968.5 L663.3,965.1 L665.2,961.6 L667,958.1 L668.9,954.5 L670.7,951 L672.6,947.4 L674.5,943.7 L676.3,940.1 L678.2,936.5 L680.1,932.8 L681.9,929.2 L683.8,925.6 L685.6,921.9 L687.5,918.3 L689.4,914.7 L691.2,911.1 L693.1,907.6 L695,904 L696.8,900.5 L698.7,897 L700.5,893.5 L702.4,890.1 L704.3,886.7 L706.1,883.3 L708,879.9 L709.9,876.6 L711.7,873.3 L713.6,870.1 L715.4,866.9 L717.3,863.7 L719.2,860.6 L721,857.4 L722.9,854.4 L724.8,851.3 L726.6,848.3 L728.5,845.3 L730.3,842.3 L732.2,839.3 L734.1,836.4 L735.9,833.5 L737.8,830.5 L739.7,827.6 L741.5,824.7 L743.4,821.8 L745.2,819 L747.1,816.1 L749,813.2 L750.8,810.3 L752.7,807.4 L754.6,804.5 L756.4,801.6 L758.3,798.6 L760.1,795.6 L762,792.7 L763.9,789.7 L765.7,786.6 L767.6,783.5 L769.5,780.4 L771.3,777.3 L773.2,774.1 L775,770.9 L776.9,767.7 L778.8,764.4 L780.6,761.1 L782.5,757.7 L784.4,754.3 L786.2,750.9 L788.1,747.5 L789.9,744 L791.8,740.4 L793.7,736.9 L795.5,733.3 L797.4,729.7 L799.3,726 L801.1,722.4 L803,718.7 L804.8,715 L806.7,711.3 L808.6,707.6 L810.4,704 L812.3,700.3 L814.1,696.6 L816,693 L817.9,689.3 L819.7,685.7 L821.6,682.1 L823.5,678.6 L825.3,675.1 L827.2,671.7 L829,668.2 L830.9,664.8 L832.8,661.5 L834.6,658.2 L836.5,655 L838.4,651.8 L840.2,648.7 L842.1,645.7 L843.9,642.7 L845.8,639.7 L847.7,636.8 L849.5,634 L851.4,631.1 L853.3,628.4 L855.1,625.7 L857,623 L858.8,620.4 L860.7,617.8 L862.6,615.3 L864.4,612.8 L866.3,610.3 L868.2,607.9 L869.6,606.1"/><path d="M643.7,1031.3 L645.6,1028.9 L647.5,1026.4 L649.3,1023.9 L651.2,1021.2 L653.1,1018.5 L654.9,1015.8 L656.8,1012.9 L658.6,1010 L660.5,1007 L662.4,1004 L664.2,1000.9 L666.1,997.7 L668,994.5 L669.8,991.2 L671.7,987.8 L673.5,984.5 L675.4,981 L677.3,977.6 L679.1,974.1 L681,970.5 L682.9,967 L684.7,963.4 L686.6,959.8 L688.4,956.2 L690.3,952.6 L692.2,949 L694,945.4 L695.9,941.7 L697.7,938.1 L699.6,934.5 L701.5,931 L703.3,927.4 L705.2,923.9 L707.1,920.3 L708.9,916.8 L710.8,913.4 L712.6,909.9 L714.5,906.5 L716.4,903.1 L718.2,899.8 L720.1,896.5 L722,893.2 L723.8,889.9 L725.7,886.7 L727.5,883.5 L729.4,880.4 L731.3,877.2 L733.1,874.1 L735,871.1 L736.9,868 L738.7,865 L740.6,862 L742.4,859 L744.3,856 L746.2,853.1 L748,850.1 L749.9,847.2 L751.8,844.2 L753.6,841.3 L755.5,838.4 L757.3,835.4 L759.2,832.5 L761.1,829.5 L762.9,826.6 L764.8,823.6 L766.7,820.6 L768.5,817.5 L770.4,814.5 L772.2,811.4 L774.1,808.3 L776,805.1 L777.8,802 L779.7,798.7 L781.6,795.5 L783.4,792.2 L785.3,788.9 L787.1,785.5 L789,782.1 L790.9,778.7 L792.7,775.2 L794.6,771.6 L796.5,768.1 L798.3,764.5 L800.2,760.9 L802,757.2 L803.9,753.5 L805.8,749.8 L807.6,746 L809.5,742.2 L811.4,738.4 L813.2,734.6 L815.1,730.8 L816.9,727 L818.8,723.2 L820.7,719.3 L822.5,715.5 L824.4,711.7 L826.3,707.9 L828.1,704.2 L830,700.4 L831.8,696.7 L833.7,693 L835.6,689.3 L837.4,685.7 L839.3,682.1 L841.2,678.5 L843,675 L844.9,671.6 L846.7,668.2 L848.6,664.8 L850.5,661.5 L852.3,658.2 L854.2,654.9 L856.1,651.8 L857.9,648.6 L859.8,645.5 L861.6,642.5 L863.5,639.5 L865.4,636.5 L867.2,633.6 L869.1,630.7 L871,627.8 L872.8,625 L874.7,622.2 L876.5,619.4 L878.4,616.7 L880.3,613.9 L882.1,611.2 L884,608.5 L885.9,605.8"/><path d="M667,1031.3 L668.9,1028.4 L670.7,1025.4 L672.6,1022.3 L674.5,1019.1 L676.3,1015.9 L678.2,1012.6 L680.1,1009.2 L681.9,1005.8 L683.8,1002.3 L685.6,998.8 L687.5,995.2 L689.4,991.6 L691.2,987.9 L693.1,984.3 L695,980.6 L696.8,976.8 L698.7,973.1 L700.5,969.4 L702.4,965.6 L704.3,961.9 L706.1,958.2 L708,954.4 L709.9,950.7 L711.7,947 L713.6,943.4 L715.4,939.7 L717.3,936.1 L719.2,932.5 L721,929 L722.9,925.4 L724.8,921.9 L726.6,918.5 L728.5,915.1 L730.3,911.7 L732.2,908.3 L734.1,905 L735.9,901.7 L737.8,898.4 L739.7,895.2 L741.5,892 L743.4,888.9 L745.2,885.7 L747.1,882.6 L749,879.5 L750.8,876.4 L752.7,873.3 L754.6,870.3 L756.4,867.2 L758.3,864.2 L760.1,861.1 L762,858.1 L763.9,855 L765.7,852 L767.6,848.9 L769.5,845.9 L771.3,842.8 L773.2,839.6 L775,836.5 L776.9,833.3 L778.8,830.1 L780.6,826.9 L782.5,823.7 L784.4,820.4 L786.2,817.1 L788.1,813.7 L789.9,810.3 L791.8,806.9 L793.7,803.4 L795.5,799.8 L797.4,796.3 L799.3,792.7 L801.1,789 L803,785.3 L804.8,781.6 L806.7,777.8 L808.6,774 L810.4,770.2 L812.3,766.3 L814.1,762.4 L816,758.5 L817.9,754.5 L819.7,750.6 L821.6,746.6 L823.5,742.6 L825.3,738.6 L827.2,734.6 L829,730.7 L830.9,726.7 L832.8,722.7 L834.6,718.8 L836.5,714.8 L838.4,710.9 L840.2,707.1 L842.1,703.2 L843.9,699.4 L845.8,695.6 L847.7,691.8 L849.5,688.1 L851.4,684.5 L853.3,680.8 L855.1,677.3 L857,673.7 L858.8,670.2 L860.7,666.8 L862.6,663.4 L864.4,660 L866.3,656.7 L868.2,653.4 L870,650.2 L871.9,647 L873.7,643.9 L875.6,640.7 L877.5,637.7 L879.3,634.6 L881.2,631.6 L883.1,628.6 L884.9,625.6 L886.8,622.6 L888.6,619.7 L890.5,616.8 L892.4,613.8 L894.2,610.9 L896.1,608 L897.5,605.8"/><path d="M690.3,1031.3 L692.2,1027.6 L694,1023.8 L695.9,1019.9 L697.7,1016.1 L699.6,1012.1 L701.5,1008.2 L703.3,1004.2 L705.2,1000.2 L707.1,996.2 L708.9,992.1 L710.8,988.1 L712.6,984.1 L714.5,980 L716.4,976 L718.2,972.1 L720.1,968.1 L722,964.2 L723.8,960.3 L725.7,956.4 L727.5,952.6 L729.4,948.8 L731.3,945.1 L733.1,941.4 L735,937.7 L736.9,934.1 L738.7,930.5 L740.6,927 L742.4,923.5 L744.3,920 L746.2,916.6 L748,913.2 L749.9,909.8 L751.8,906.5 L753.6,903.2 L755.5,899.9 L757.3,896.6 L759.2,893.4 L761.1,890.2 L762.9,887 L764.8,883.8 L766.7,880.6 L768.5,877.4 L770.4,874.2 L772.2,871 L774.1,867.8 L776,864.6 L777.8,861.4 L779.7,858.1 L781.6,854.8 L783.4,851.5 L785.3,848.2 L787.1,844.8 L789,841.4 L790.9,838 L792.7,834.5 L794.6,831 L796.5,827.5 L798.3,823.9 L800.2,820.2 L802,816.6 L803.9,812.8 L805.8,809.1 L807.6,805.2 L809.5,801.4 L811.4,797.5 L813.2,793.6 L815.1,789.6 L816.9,785.6 L818.8,781.6 L820.7,777.5 L822.5,773.4 L824.4,769.3 L826.3,765.2 L828.1,761.1 L830,756.9 L831.8,752.8 L833.7,748.6 L835.6,744.5 L837.4,740.3 L839.3,736.2 L841.2,732.1 L843,728 L844.9,723.9 L846.7,719.8 L848.6,715.8 L850.5,711.8 L852.3,707.8 L854.2,703.9 L856.1,700.1 L857.9,696.2 L859.8,692.4 L861.6,688.6 L863.5,684.9 L865.4,681.3 L867.2,677.6 L869.1,674 L871,670.5 L872.8,667 L874.7,663.5 L876.5,660.1 L878.4,656.8 L880.3,653.4 L882.1,650.1 L884,646.9 L885.9,643.6 L887.7,640.4 L889.6,637.2 L891.4,634.1 L893.3,630.9 L895.2,627.8 L897,624.7 L898.9,621.5 L900.8,618.4 L902.6,615.3 L904.5,612.1 L906.3,609 L908.2,605.8"/><path d="M713.6,1031.3 L715.4,1026.7 L717.3,1022.1 L719.2,1017.5 L721,1012.9 L722.9,1008.4 L724.8,1003.9 L726.6,999.4 L728.5,995 L730.3,990.6 L732.2,986.2 L734.1,981.9 L735.9,977.7 L737.8,973.5 L739.7,969.4 L741.5,965.3 L743.4,961.3 L745.2,957.4 L747.1,953.5 L749,949.6 L750.8,945.8 L752.7,942.1 L754.6,938.4 L756.4,934.7 L758.3,931.1 L760.1,927.6 L762,924.1 L763.9,920.6 L765.7,917.1 L767.6,913.7 L769.5,910.2 L771.3,906.8 L773.2,903.4 L775,900 L776.9,896.7 L778.8,893.3 L780.6,889.9 L782.5,886.5 L784.4,883.1 L786.2,879.7 L788.1,876.2 L789.9,872.8 L791.8,869.3 L793.7,865.8 L795.5,862.2 L797.4,858.6 L799.3,855 L801.1,851.3 L803,847.6 L804.8,843.9 L806.7,840.1 L808.6,836.2 L810.4,832.3 L812.3,828.4 L814.1,824.4 L816,820.4 L817.9,816.4 L819.7,812.3 L821.6,808.2 L823.5,804 L825.3,799.8 L827.2,795.6 L829,791.3 L830.9,787.1 L832.8,782.8 L834.6,778.5 L836.5,774.1 L838.4,769.8 L840.2,765.5 L842.1,761.2 L843.9,756.8 L845.8,752.5 L847.7,748.2 L849.5,744 L851.4,739.7 L853.3,735.5 L855.1,731.3 L857,727.1 L858.8,722.9 L860.7,718.9 L862.6,714.8 L864.4,710.8 L866.3,706.8 L868.2,702.8 L870,699 L871.9,695.1 L873.7,691.3 L875.6,687.5 L877.5,683.8 L879.3,680.2 L881.2,676.5 L883.1,672.9 L884.9,669.4 L886.8,665.9 L888.6,662.4 L890.5,658.9 L892.4,655.5 L894.2,652.1 L896.1,648.8 L898,645.4 L899.8,642.1 L901.7,638.8 L903.5,635.5 L905.4,632.2 L907.3,628.9 L909.1,625.6 L911,622.2 L912.9,618.9 L914.7,615.5 L916.6,612.1 L918.4,608.7 L919.8,606.1"/><path d="M736.9,1031.3 L738.7,1026.1 L740.6,1021 L742.4,1016 L744.3,1011.1 L746.2,1006.3 L748,1001.5 L749.9,996.9 L751.8,992.3 L753.6,987.9 L755.5,983.5 L757.3,979.2 L759.2,975 L761.1,970.9 L762.9,966.8 L764.8,962.8 L766.7,958.8 L768.5,955 L770.4,951.1 L772.2,947.3 L774.1,943.6 L776,939.9 L777.8,936.2 L779.7,932.6 L781.6,929 L783.4,925.4 L785.3,921.8 L787.1,918.2 L789,914.6 L790.9,911 L792.7,907.4 L794.6,903.8 L796.5,900.2 L798.3,896.6 L800.2,892.9 L802,889.2 L803.9,885.5 L805.8,881.7 L807.6,877.9 L809.5,874.1 L811.4,870.2 L813.2,866.3 L815.1,862.3 L816.9,858.3 L818.8,854.3 L820.7,850.2 L822.5,846 L824.4,841.9 L826.3,837.6 L828.1,833.4 L830,829.1 L831.8,824.7 L833.7,820.4 L835.6,816 L837.4,811.6 L839.3,807.1 L841.2,802.7 L843,798.2 L844.9,793.7 L846.7,789.2 L848.6,784.7 L850.5,780.3 L852.3,775.8 L854.2,771.3 L856.1,766.8 L857.9,762.4 L859.8,758 L861.6,753.6 L863.5,749.3 L865.4,745 L867.2,740.7 L869.1,736.4 L871,732.2 L872.8,728.1 L874.7,723.9 L876.5,719.8 L878.4,715.8 L880.3,711.8 L882.1,707.9 L884,704 L885.9,700.1 L887.7,696.3 L889.6,692.5 L891.4,688.8 L893.3,685.1 L895.2,681.5 L897,677.9 L898.9,674.3 L900.8,670.7 L902.6,667.2 L904.5,663.7 L906.3,660.2 L908.2,656.7 L910.1,653.2 L911.9,649.8 L913.8,646.3 L915.7,642.8 L917.5,639.3 L919.4,635.8 L921.2,632.3 L923.1,628.8"/><path d="M760.1,1031.3 L762,1026.2 L763.9,1021.2 L765.7,1016.3 L767.6,1011.5 L769.5,1006.9 L771.3,1002.4 L773.2,998 L775,993.6 L776.9,989.4 L778.8,985.2 L780.6,981.2 L782.5,977.2 L784.4,973.2 L786.2,969.3 L788.1,965.5 L789.9,961.7 L791.8,957.9 L793.7,954.1 L795.5,950.4 L797.4,946.7 L799.3,943 L801.1,939.3 L803,935.6 L804.8,931.9 L806.7,928.1 L808.6,924.4 L810.4,920.6 L812.3,916.8 L814.1,913 L816,909.1 L817.9,905.2 L819.7,901.3 L821.6,897.3 L823.5,893.3 L825.3,889.2 L827.2,885.1 L829,881 L830.9,876.7 L832.8,872.5 L834.6,868.2 L836.5,863.9 L838.4,859.6 L840.2,855.2 L842.1,850.7 L843.9,846.3 L845.8,841.8 L847.7,837.3 L849.5,832.7 L851.4,828.2 L853.3,823.6 L855.1,819 L857,814.5 L858.8,809.9 L860.7,805.3 L862.6,800.8 L864.4,796.2 L866.3,791.7 L868.2,787.2 L870,782.7 L871.9,778.2 L873.7,773.8 L875.6,769.4 L877.5,765 L879.3,760.7 L881.2,756.4 L883.1,752.2 L884.9,748 L886.8,743.9 L888.6,739.8 L890.5,735.7 L892.4,731.7 L894.2,727.7 L896.1,723.8 L898,719.9 L899.8,716.1 L901.7,712.3 L903.5,708.5 L905.4,704.8 L907.3,701.1 L909.1,697.5 L911,693.8 L912.9,690.2 L914.7,686.6 L916.6,683 L918.4,679.5 L920.3,675.9 L922.2,672.4 L923.1,670.6"/><path d="M783.4,1031.3 L785.3,1026.9 L787.1,1022.5 L789,1018.3 L790.9,1014.2 L792.7,1010.2 L794.6,1006.2 L796.5,1002.3 L798.3,998.5 L800.2,994.8 L802,991 L803.9,987.3 L805.8,983.7 L807.6,980.1 L809.5,976.4 L811.4,972.8 L813.2,969.2 L815.1,965.6 L816.9,962 L818.8,958.4 L820.7,954.8 L822.5,951.1 L824.4,947.4 L826.3,943.7 L828.1,939.9 L830,936.1 L831.8,932.3 L833.7,928.4 L835.6,924.5 L837.4,920.5 L839.3,916.5 L841.2,912.4 L843,908.3 L844.9,904.2 L846.7,900 L848.6,895.7 L850.5,891.5 L852.3,887.2 L854.2,882.8 L856.1,878.4 L857.9,874 L859.8,869.6 L861.6,865.2 L863.5,860.7 L865.4,856.2 L867.2,851.7 L869.1,847.3 L871,842.8 L872.8,838.3 L874.7,833.8 L876.5,829.4 L878.4,824.9 L880.3,820.5 L882.1,816.1 L884,811.8 L885.9,807.4 L887.7,803.1 L889.6,798.8 L891.4,794.6 L893.3,790.4 L895.2,786.3 L897,782.1 L898.9,778.1 L900.8,774.1 L902.6,770.1 L904.5,766.2 L906.3,762.3 L908.2,758.4 L910.1,754.6 L911.9,750.8 L913.8,747.1 L915.7,743.5 L917.5,739.8 L919.4,736.2 L921.2,732.6 L923.1,729"/><path d="M806.7,1031.3 L808.6,1027.8 L810.4,1024.5 L812.3,1021.1 L814.1,1017.8 L816,1014.6 L817.9,1011.3 L819.7,1008.1 L821.6,1004.9 L823.5,1001.7 L825.3,998.5 L827.2,995.3 L829,992.1 L830.9,988.9 L832.8,985.7 L834.6,982.4 L836.5,979.1 L838.4,975.7 L840.2,972.3 L842.1,968.9 L843.9,965.5 L845.8,962 L847.7,958.4 L849.5,954.8 L851.4,951.2 L853.3,947.5 L855.1,943.7 L857,939.9 L858.8,936.1 L860.7,932.2 L862.6,928.3 L864.4,924.3 L866.3,920.3 L868.2,916.3 L870,912.2 L871.9,908.1 L873.7,904 L875.6,899.9 L877.5,895.7 L879.3,891.6 L881.2,887.4 L883.1,883.2 L884.9,879.1 L886.8,874.9 L888.6,870.7 L890.5,866.6 L892.4,862.4 L894.2,858.3 L896.1,854.2 L898,850.1 L899.8,846.1 L901.7,842.1 L903.5,838.1 L905.4,834.1 L907.3,830.2 L909.1,826.4 L911,822.5 L912.9,818.7 L914.7,815 L916.6,811.3 L918.4,807.6 L920.3,804 L922.2,800.4 L923.1,798.6"/><path d="M830,1031.3 L831.8,1028.7 L833.7,1026 L835.6,1023.4 L837.4,1020.8 L839.3,1018.1 L841.2,1015.4 L843,1012.7 L844.9,1010 L846.7,1007.2 L848.6,1004.4 L850.5,1001.6 L852.3,998.6 L854.2,995.7 L856.1,992.7 L857.9,989.7 L859.8,986.6 L861.6,983.5 L863.5,980.3 L865.4,977 L867.2,973.7 L869.1,970.4 L871,967 L872.8,963.5 L874.7,960 L876.5,956.5 L878.4,952.9 L880.3,949.3 L882.1,945.6 L884,941.9 L885.9,938.2 L887.7,934.4 L889.6,930.7 L891.4,926.9 L893.3,923.1 L895.2,919.2 L897,915.4 L898.9,911.6 L900.8,907.8 L902.6,903.9 L904.5,900.1 L906.3,896.3 L908.2,892.5 L910.1,888.7 L911.9,885 L913.8,881.3 L915.7,877.5 L917.5,873.9 L919.4,870.2 L921.2,866.6 L923.1,863"/><path d="M853.3,1031.3 L855.1,1029 L857,1026.7 L858.8,1024.3 L860.7,1021.9 L862.6,1019.4 L864.4,1016.9 L866.3,1014.3 L868.2,1011.7 L870,1009 L871.9,1006.2 L873.7,1003.4 L875.6,1000.5 L877.5,997.6 L879.3,994.6 L881.2,991.5 L883.1,988.4 L884.9,985.2 L886.8,982 L888.6,978.7 L890.5,975.4 L892.4,972 L894.2,968.5 L896.1,965.1 L898,961.6 L899.8,958.1 L901.7,954.5 L903.5,951 L905.4,947.4 L907.3,943.7 L909.1,940.1 L911,936.5 L912.9,932.8 L914.7,929.2 L916.6,925.6 L918.4,921.9 L920.3,918.3 L922.2,914.7 L923.1,912.9"/><path d="M876.5,1031.3 L878.4,1028.9 L880.3,1026.4 L882.1,1023.9 L884,1021.2 L885.9,1018.5 L887.7,1015.8 L889.6,1012.9 L891.4,1010 L893.3,1007 L895.2,1004 L897,1000.9 L898.9,997.7 L900.8,994.5 L902.6,991.2 L904.5,987.8 L906.3,984.5 L908.2,981 L910.1,977.6 L911.9,974.1 L913.8,970.5 L915.7,967 L917.5,963.4 L919.4,959.8 L921.2,956.2 L923.1,952.6"/><path d="M899.8,1031.3 L901.7,1028.4 L903.5,1025.4 L905.4,1022.3 L907.3,1019.1 L909.1,1015.9 L911,1012.6 L912.9,1009.2 L914.7,1005.8 L916.6,1002.3 L918.4,998.8 L920.3,995.2 L922.2,991.6 L923.1,989.8"/></g>
<path d="M689.8,1031.3v-4.5M689.8,612.4v4.5M806.2,1031.3v-4.5M806.2,612.4v4.5M573.9,926.1h4.5M923.1,926.1h-4.5M573.9,821.3h4.5M923.1,821.3h-4.5M573.9,716.6h4.5M923.1,716.6h-4.5" stroke="#000" stroke-width="2.8" fill="none"/>
<rect x="573.9" y="612.4" width="349.2" height="418.9" fill="none" stroke="#000" stroke-width="3"/>
<text x="566.7" y="1044.7" font-size="42.5" text-anchor="end" textLength="21.25" lengthAdjust="spacingAndGlyphs">0</text>
<text x="566.2" y="940" font-size="42.5" text-anchor="end" textLength="50.5" lengthAdjust="spacingAndGlyphs">0.5</text>
<text x="563.9" y="835.2" font-size="42.5" text-anchor="end" textLength="15.5" lengthAdjust="spacingAndGlyphs">1</text>
<text x="565.7" y="730.5" font-size="42.5" text-anchor="end" textLength="49.5" lengthAdjust="spacingAndGlyphs">1.5</text>
<text x="566.4" y="625.8" font-size="42.5" text-anchor="end" textLength="21.25" lengthAdjust="spacingAndGlyphs">2</text>
<text x="573.9" y="1074.9" font-size="42.5" text-anchor="middle" textLength="21.25" lengthAdjust="spacingAndGlyphs">0</text>
<text x="690" y="1074.9" font-size="42.5" text-anchor="middle" textLength="15.5" lengthAdjust="spacingAndGlyphs">1</text>
<text x="806.7" y="1074.9" font-size="42.5" text-anchor="middle" textLength="21.25" lengthAdjust="spacingAndGlyphs">2</text>
<text x="923.1" y="1074.9" font-size="42.5" text-anchor="middle" textLength="21.25" lengthAdjust="spacingAndGlyphs">3</text>
<text x="746" y="1115.9" font-size="50" font-style="italic" text-anchor="middle">t</text>
<text transform="translate(495.4,820.8) rotate(-90)" font-size="49" font-style="italic" text-anchor="middle">η</text>
<text x="596.4" y="671" font-size="40.5">V</text>
<text x="626.1" y="691.7" font-size="32">a</text>
<path d="M641.8,658h9.1M641.8,666h9.1" stroke="#000" stroke-width="2.5" stroke-linecap="round"/>
<text x="661.9" y="672.7" font-size="42.5" textLength="49.4" lengthAdjust="spacingAndGlyphs">1.1</text>
<g stroke="#1a1a1a" stroke-width="2.3" stroke-linecap="round" stroke-dasharray="0 12.82"><line x1="1149.1" y1="1031.3" x2="1149.1" y2="612.4"/><line x1="1265.6" y1="1031.3" x2="1265.6" y2="612.4"/><line x1="1033.2" y1="926.1" x2="1382.5" y2="926.1"/><line x1="1033.2" y1="821.3" x2="1382.5" y2="821.3"/><line x1="1033.2" y1="716.6" x2="1382.5" y2="716.6"/></g>
<clipPath id="cp5"><rect x="1033.2" y="612.4" width="349.3" height="418.9"/></clipPath>
<g clip-path="url(#cp5)" fill="none" stroke="#000" stroke-width="6.2" stroke-linejoin="round" stroke-linecap="butt"><path d="M1033.2,1031.3 L1035.1,1027 L1036.9,1022.7 L1038.8,1018.5 L1040.7,1014.3 L1042.5,1010.1 L1044.4,1005.9 L1046.2,1001.8 L1048.1,997.6 L1050,993.5 L1051.8,989.3 L1053.7,985.2 L1055.6,981 L1057.4,976.9 L1059.3,972.7 L1061.1,968.5 L1063,964.3 L1064.9,960.1 L1066.7,955.8 L1068.6,951.5 L1070.5,947.2 L1072.3,942.9 L1074.2,938.6 L1076,934.2 L1077.9,929.8 L1079.8,925.3 L1081.6,920.9 L1083.5,916.4 L1085.4,911.8 L1087.2,907.2 L1089.1,902.6 L1091,898 L1092.8,893.3 L1094.7,888.6 L1096.5,883.9 L1098.4,879.1 L1100.3,874.3 L1102.1,869.5 L1104,864.7 L1105.9,859.8 L1107.7,854.9 L1109.6,850 L1111.4,845.1 L1113.3,840.2 L1115.2,835.3 L1117,830.3 L1118.9,825.4 L1120.8,820.5 L1122.6,815.5 L1124.5,810.7 L1126.3,805.8 L1128.2,800.9 L1130.1,796.1 L1131.9,791.4 L1133.8,786.6 L1135.7,781.9 L1137.5,777.2 L1139.4,772.6 L1141.3,768.1 L1143.1,763.5 L1145,759.1 L1146.8,754.6 L1148.7,750.3 L1150.6,745.9 L1152.4,741.6 L1154.3,737.4 L1156.2,733.1 L1158,728.9 L1159.9,724.7 L1161.7,720.6 L1163.6,716.4 L1165.5,712.3 L1167.3,708.1 L1169.2,703.9 L1171.1,699.7 L1172.9,695.5 L1174.8,691.2 L1176.6,686.8 L1178.5,682.4 L1180.4,677.9 L1182.2,673.3 L1184.1,668.6 L1186,663.7 L1187.8,658.7 L1189.7,653.6 L1191.5,648.3 L1193.4,642.7 L1195.3,637 L1197.1,631 L1199,624.8 L1200.9,618.2 L1202.7,611.4 L1204.1,606"/><path d="M1056.5,1031.3 L1058.3,1027.6 L1060.2,1023.9 L1062.1,1020.3 L1063.9,1016.6 L1065.8,1012.9 L1067.7,1009.2 L1069.5,1005.4 L1071.4,1001.7 L1073.3,997.9 L1075.1,994.1 L1077,990.3 L1078.8,986.5 L1080.7,982.6 L1082.6,978.7 L1084.4,974.8 L1086.3,970.8 L1088.2,966.8 L1090,962.8 L1091.9,958.7 L1093.7,954.7 L1095.6,950.5 L1097.5,946.3 L1099.3,942.1 L1101.2,937.9 L1103.1,933.6 L1104.9,929.3 L1106.8,924.9 L1108.6,920.5 L1110.5,916 L1112.4,911.5 L1114.2,907 L1116.1,902.4 L1118,897.9 L1119.8,893.3 L1121.7,888.6 L1123.6,884 L1125.4,879.3 L1127.3,874.6 L1129.1,869.9 L1131,865.2 L1132.9,860.5 L1134.7,855.8 L1136.6,851.2 L1138.5,846.5 L1140.3,841.9 L1142.2,837.3 L1144,832.7 L1145.9,828.2 L1147.8,823.7 L1149.6,819.3 L1151.5,814.9 L1153.4,810.6 L1155.2,806.4 L1157.1,802.1 L1158.9,798 L1160.8,793.9 L1162.7,789.9 L1164.5,785.9 L1166.4,782 L1168.3,778.1 L1170.1,774.3 L1172,770.5 L1173.9,766.8 L1175.7,763.1 L1177.6,759.4 L1179.4,755.8 L1181.3,752.2 L1183.2,748.6 L1185,745 L1186.9,741.4 L1188.8,737.9 L1190.6,734.3 L1192.5,730.7 L1194.3,727 L1196.2,723.3 L1198.1,719.6 L1199.9,715.9 L1201.8,712.1 L1203.7,708.2 L1205.5,704.3 L1207.4,700.3 L1209.2,696.2 L1211.1,692 L1213,687.8 L1214.8,683.4 L1216.7,678.9 L1218.6,674.4 L1220.4,669.7 L1222.3,664.8 L1224.2,659.9 L1226,654.8 L1227.9,649.6 L1229.7,644.3 L1231.6,638.9 L1233.5,633.3 L1235.3,627.6 L1237.2,621.8 L1239.1,615.8 L1240.9,609.7 L1242.1,605.9"/><path d="M1079.8,1031.3 L1081.6,1028 L1083.5,1024.6 L1085.4,1021.3 L1087.2,1017.9 L1089.1,1014.4 L1091,1011 L1092.8,1007.5 L1094.7,1003.9 L1096.5,1000.3 L1098.4,996.7 L1100.3,993.1 L1102.1,989.4 L1104,985.7 L1105.9,981.9 L1107.7,978.1 L1109.6,974.2 L1111.4,970.2 L1113.3,966.3 L1115.2,962.2 L1117,958.2 L1118.9,954 L1120.8,949.9 L1122.6,945.6 L1124.5,941.4 L1126.3,937 L1128.2,932.7 L1130.1,928.3 L1131.9,923.9 L1133.8,919.4 L1135.7,914.9 L1137.5,910.4 L1139.4,905.8 L1141.3,901.3 L1143.1,896.7 L1145,892.2 L1146.8,887.7 L1148.7,883.2 L1150.6,878.7 L1152.4,874.2 L1154.3,869.7 L1156.2,865.3 L1158,861 L1159.9,856.7 L1161.7,852.4 L1163.6,848.2 L1165.5,844 L1167.3,839.9 L1169.2,835.9 L1171.1,831.9 L1172.9,828 L1174.8,824.2 L1176.6,820.4 L1178.5,816.7 L1180.4,813.1 L1182.2,809.4 L1184.1,805.9 L1186,802.4 L1187.8,798.9 L1189.7,795.5 L1191.5,792.1 L1193.4,788.7 L1195.3,785.4 L1197.1,782.1 L1199,778.8 L1200.9,775.5 L1202.7,772.2 L1204.6,768.9 L1206.5,765.5 L1208.3,762.2 L1210.2,758.9 L1212,755.5 L1213.9,752.1 L1215.8,748.7 L1217.6,745.2 L1219.5,741.7 L1221.4,738.1 L1223.2,734.5 L1225.1,730.8 L1226.9,727.1 L1228.8,723.3 L1230.7,719.4 L1232.5,715.5 L1234.4,711.5 L1236.3,707.4 L1238.1,703.3 L1240,699.1 L1241.8,694.8 L1243.7,690.4 L1245.6,686 L1247.4,681.6 L1249.3,677 L1251.2,672.4 L1253,667.8 L1254.9,663.1 L1256.8,658.4 L1258.6,653.7 L1260.5,648.9 L1262.3,644.2 L1264.2,639.4 L1266.1,634.6 L1267.9,629.9 L1269.8,625.1 L1271.7,620.4 L1273.5,615.8 L1275.4,611.2 L1277.2,606.7 L1277.7,605.6"/><path d="M1103.1,1031.3 L1104.9,1028.1 L1106.8,1024.8 L1108.6,1021.4 L1110.5,1018.1 L1112.4,1014.6 L1114.2,1011.1 L1116.1,1007.6 L1118,1004 L1119.8,1000.3 L1121.7,996.6 L1123.6,992.8 L1125.4,988.9 L1127.3,985 L1129.1,981 L1131,977 L1132.9,972.9 L1134.7,968.7 L1136.6,964.5 L1138.5,960.2 L1140.3,955.9 L1142.2,951.5 L1144,947.1 L1145.9,942.6 L1147.8,938.1 L1149.6,933.6 L1151.5,929.1 L1153.4,924.5 L1155.2,920 L1157.1,915.5 L1158.9,910.9 L1160.8,906.4 L1162.7,902 L1164.5,897.5 L1166.4,893.1 L1168.3,888.7 L1170.1,884.4 L1172,880.2 L1173.9,876 L1175.7,871.8 L1177.6,867.7 L1179.4,863.7 L1181.3,859.7 L1183.2,855.8 L1185,852 L1186.9,848.2 L1188.8,844.5 L1190.6,840.8 L1192.5,837.2 L1194.3,833.6 L1196.2,830.1 L1198.1,826.6 L1199.9,823.2 L1201.8,819.8 L1203.7,816.4 L1205.5,813.1 L1207.4,809.8 L1209.2,806.4 L1211.1,803.1 L1213,799.8 L1214.8,796.5 L1216.7,793.2 L1218.6,789.8 L1220.4,786.5 L1222.3,783.1 L1224.2,779.7 L1226,776.3 L1227.9,772.8 L1229.7,769.3 L1231.6,765.7 L1233.5,762.1 L1235.3,758.5 L1237.2,754.8 L1239.1,751 L1240.9,747.2 L1242.8,743.3 L1244.6,739.4 L1246.5,735.5 L1248.4,731.4 L1250.2,727.3 L1252.1,723.2 L1254,719 L1255.8,714.8 L1257.7,710.5 L1259.5,706.2 L1261.4,701.8 L1263.3,697.4 L1265.1,693 L1267,688.6 L1268.9,684.1 L1270.7,679.6 L1272.6,675.1 L1274.4,670.7 L1276.3,666.2 L1278.2,661.8 L1280,657.3 L1281.9,653 L1283.8,648.6 L1285.6,644.3 L1287.5,640.1 L1289.4,635.9 L1291.2,631.8 L1293.1,627.8 L1294.9,623.9 L1296.8,620.1 L1298.7,616.4 L1300.5,612.8 L1302.4,609.3 L1304.3,605.9"/><path d="M1126.3,1031.3 L1128.2,1027.8 L1130.1,1024.2 L1131.9,1020.6 L1133.8,1016.9 L1135.7,1013.1 L1137.5,1009.2 L1139.4,1005.2 L1141.3,1001.1 L1143.1,997 L1145,992.8 L1146.8,988.5 L1148.7,984.2 L1150.6,979.8 L1152.4,975.3 L1154.3,970.8 L1156.2,966.2 L1158,961.6 L1159.9,957 L1161.7,952.4 L1163.6,947.7 L1165.5,943.1 L1167.3,938.4 L1169.2,933.8 L1171.1,929.2 L1172.9,924.6 L1174.8,920 L1176.6,915.5 L1178.5,911 L1180.4,906.6 L1182.2,902.3 L1184.1,897.9 L1186,893.7 L1187.8,889.5 L1189.7,885.4 L1191.5,881.4 L1193.4,877.4 L1195.3,873.4 L1197.1,869.6 L1199,865.8 L1200.9,862 L1202.7,858.3 L1204.6,854.6 L1206.5,851 L1208.3,847.4 L1210.2,843.9 L1212,840.4 L1213.9,836.8 L1215.8,833.4 L1217.6,829.9 L1219.5,826.4 L1221.4,823 L1223.2,819.5 L1225.1,816 L1226.9,812.6 L1228.8,809 L1230.7,805.5 L1232.5,802 L1234.4,798.4 L1236.3,794.7 L1238.1,791.1 L1240,787.4 L1241.8,783.7 L1243.7,779.9 L1245.6,776.1 L1247.4,772.2 L1249.3,768.3 L1251.2,764.3 L1253,760.3 L1254.9,756.2 L1256.8,752.1 L1258.6,747.9 L1260.5,743.7 L1262.3,739.5 L1264.2,735.2 L1266.1,730.9 L1267.9,726.5 L1269.8,722.1 L1271.7,717.7 L1273.5,713.3 L1275.4,708.8 L1277.2,704.3 L1279.1,699.9 L1281,695.4 L1282.8,690.9 L1284.7,686.5 L1286.6,682.1 L1288.4,677.7 L1290.3,673.3 L1292.1,669 L1294,664.7 L1295.9,660.4 L1297.7,656.2 L1299.6,652.1 L1301.5,648.1 L1303.3,644.1 L1305.2,640.2 L1307.1,636.4 L1308.9,632.7 L1310.8,629.1 L1312.6,625.5 L1314.5,622.1 L1316.4,618.7 L1318.2,615.5 L1320.1,612.3 L1322,609.3 L1323.8,606.3 L1324.1,605.9"/><path d="M1149.6,1031.3 L1151.5,1027.2 L1153.4,1022.9 L1155.2,1018.6 L1157.1,1014.1 L1158.9,1009.6 L1160.8,1005 L1162.7,1000.4 L1164.5,995.6 L1166.4,990.9 L1168.3,986 L1170.1,981.2 L1172,976.3 L1173.9,971.4 L1175.7,966.5 L1177.6,961.6 L1179.4,956.8 L1181.3,951.9 L1183.2,947.1 L1185,942.4 L1186.9,937.7 L1188.8,933 L1190.6,928.4 L1192.5,923.8 L1194.3,919.3 L1196.2,914.9 L1198.1,910.6 L1199.9,906.3 L1201.8,902 L1203.7,897.9 L1205.5,893.8 L1207.4,889.7 L1209.2,885.7 L1211.1,881.8 L1213,877.9 L1214.8,874 L1216.7,870.2 L1218.6,866.5 L1220.4,862.7 L1222.3,859 L1224.2,855.3 L1226,851.6 L1227.9,847.9 L1229.7,844.2 L1231.6,840.5 L1233.5,836.8 L1235.3,833.1 L1237.2,829.3 L1239.1,825.6 L1240.9,821.8 L1242.8,818 L1244.6,814.2 L1246.5,810.3 L1248.4,806.4 L1250.2,802.5 L1252.1,798.5 L1254,794.5 L1255.8,790.4 L1257.7,786.3 L1259.5,782.1 L1261.4,777.9 L1263.3,773.7 L1265.1,769.4 L1267,765.1 L1268.9,760.8 L1270.7,756.4 L1272.6,751.9 L1274.4,747.5 L1276.3,743 L1278.2,738.5 L1280,734 L1281.9,729.4 L1283.8,724.9 L1285.6,720.3 L1287.5,715.8 L1289.4,711.2 L1291.2,706.7 L1293.1,702.1 L1294.9,697.6 L1296.8,693.1 L1298.7,688.7 L1300.5,684.2 L1302.4,679.9 L1304.3,675.5 L1306.1,671.3 L1308,667.1 L1309.8,662.9 L1311.7,658.8 L1313.6,654.8 L1315.4,650.9 L1317.3,647 L1319.2,643.2 L1321,639.5 L1322.9,635.9 L1324.7,632.3 L1326.6,628.8 L1328.5,625.4 L1330.3,622.1 L1332.2,618.9 L1334.1,615.7 L1335.9,612.5 L1337.8,609.4 L1339.7,606.4 L1339.9,606"/><path d="M1172.9,1031.3 L1174.8,1026.3 L1176.6,1021.2 L1178.5,1016 L1180.4,1010.8 L1182.2,1005.6 L1184.1,1000.4 L1186,995.1 L1187.8,989.9 L1189.7,984.7 L1191.5,979.5 L1193.4,974.4 L1195.3,969.3 L1197.1,964.3 L1199,959.3 L1200.9,954.3 L1202.7,949.5 L1204.6,944.7 L1206.5,940 L1208.3,935.3 L1210.2,930.8 L1212,926.2 L1213.9,921.8 L1215.8,917.4 L1217.6,913.1 L1219.5,908.9 L1221.4,904.6 L1223.2,900.5 L1225.1,896.4 L1226.9,892.3 L1228.8,888.2 L1230.7,884.2 L1232.5,880.2 L1234.4,876.2 L1236.3,872.2 L1238.1,868.3 L1240,864.3 L1241.8,860.3 L1243.7,856.3 L1245.6,852.3 L1247.4,848.3 L1249.3,844.3 L1251.2,840.2 L1253,836.2 L1254.9,832 L1256.8,827.9 L1258.6,823.7 L1260.5,819.5 L1262.3,815.3 L1264.2,811 L1266.1,806.6 L1267.9,802.3 L1269.8,797.9 L1271.7,793.4 L1273.5,789 L1275.4,784.5 L1277.2,779.9 L1279.1,775.4 L1281,770.8 L1282.8,766.2 L1284.7,761.5 L1286.6,756.9 L1288.4,752.2 L1290.3,747.5 L1292.1,742.8 L1294,738.1 L1295.9,733.4 L1297.7,728.7 L1299.6,724 L1301.5,719.3 L1303.3,714.7 L1305.2,710 L1307.1,705.4 L1308.9,700.9 L1310.8,696.3 L1312.6,691.8 L1314.5,687.4 L1316.4,683 L1318.2,678.6 L1320.1,674.4 L1322,670.1 L1323.8,666 L1325.7,661.9 L1327.5,657.9 L1329.4,653.9 L1331.3,650 L1333.1,646.2 L1335,642.4 L1336.9,638.7 L1338.7,635 L1340.6,631.4 L1342.4,627.9 L1344.3,624.3 L1346.2,620.8 L1348,617.4 L1349.9,613.9 L1351.8,610.5 L1353.6,607 L1354.1,606.1"/><path d="M1196.2,1031.3 L1198.1,1025.6 L1199.9,1020 L1201.8,1014.4 L1203.7,1008.8 L1205.5,1003.3 L1207.4,997.8 L1209.2,992.4 L1211.1,987.1 L1213,981.9 L1214.8,976.7 L1216.7,971.6 L1218.6,966.6 L1220.4,961.7 L1222.3,956.8 L1224.2,952 L1226,947.3 L1227.9,942.6 L1229.7,938 L1231.6,933.5 L1233.5,929 L1235.3,924.6 L1237.2,920.2 L1239.1,915.8 L1240.9,911.5 L1242.8,907.2 L1244.6,902.9 L1246.5,898.6 L1248.4,894.4 L1250.2,890.1 L1252.1,885.8 L1254,881.6 L1255.8,877.3 L1257.7,873 L1259.5,868.7 L1261.4,864.3 L1263.3,860 L1265.1,855.6 L1267,851.2 L1268.9,846.8 L1270.7,842.3 L1272.6,837.8 L1274.4,833.3 L1276.3,828.7 L1278.2,824.1 L1280,819.5 L1281.9,814.9 L1283.8,810.2 L1285.6,805.5 L1287.5,800.7 L1289.4,795.9 L1291.2,791.2 L1293.1,786.3 L1294.9,781.5 L1296.8,776.7 L1298.7,771.8 L1300.5,767 L1302.4,762.1 L1304.3,757.2 L1306.1,752.3 L1308,747.4 L1309.8,742.6 L1311.7,737.7 L1313.6,732.9 L1315.4,728.1 L1317.3,723.3 L1319.2,718.5 L1321,713.8 L1322.9,709.1 L1324.7,704.5 L1326.6,699.8 L1328.5,695.3 L1330.3,690.8 L1332.2,686.3 L1334.1,681.9 L1335.9,677.6 L1337.8,673.3 L1339.7,669 L1341.5,664.8 L1343.4,660.7 L1345.2,656.6 L1347.1,652.6 L1349,648.5 L1350.8,644.5 L1352.7,640.6 L1354.6,636.6 L1356.4,632.7 L1358.3,628.7 L1360.1,624.7 L1362,620.7 L1363.9,616.7 L1365.7,612.6 L1367.6,608.4 L1368.8,605.7"/><path d="M1219.5,1031.3 L1221.4,1025.6 L1223.2,1020.1 L1225.1,1014.5 L1226.9,1009.1 L1228.8,1003.8 L1230.7,998.6 L1232.5,993.4 L1234.4,988.3 L1236.3,983.3 L1238.1,978.4 L1240,973.6 L1241.8,968.8 L1243.7,964 L1245.6,959.3 L1247.4,954.7 L1249.3,950.1 L1251.2,945.5 L1253,941 L1254.9,936.5 L1256.8,932 L1258.6,927.5 L1260.5,923 L1262.3,918.6 L1264.2,914.1 L1266.1,909.6 L1267.9,905.1 L1269.8,900.6 L1271.7,896.1 L1273.5,891.6 L1275.4,887 L1277.2,882.5 L1279.1,877.9 L1281,873.2 L1282.8,868.6 L1284.7,863.9 L1286.6,859.2 L1288.4,854.5 L1290.3,849.7 L1292.1,844.9 L1294,840.1 L1295.9,835.3 L1297.7,830.4 L1299.6,825.5 L1301.5,820.6 L1303.3,815.7 L1305.2,810.7 L1307.1,805.7 L1308.9,800.7 L1310.8,795.7 L1312.6,790.7 L1314.5,785.6 L1316.4,780.6 L1318.2,775.6 L1320.1,770.5 L1322,765.5 L1323.8,760.5 L1325.7,755.5 L1327.5,750.5 L1329.4,745.5 L1331.3,740.6 L1333.1,735.6 L1335,730.8 L1336.9,725.9 L1338.7,721.1 L1340.6,716.3 L1342.4,711.6 L1344.3,706.9 L1346.2,702.3 L1348,697.7 L1349.9,693.1 L1351.8,688.6 L1353.6,684.1 L1355.5,679.7 L1357.4,675.2 L1359.2,670.9 L1361.1,666.5 L1362.9,662.1 L1364.8,657.8 L1366.7,653.4 L1368.5,649 L1370.4,644.6 L1372.3,640.2 L1374.1,635.6 L1376,631.1 L1377.8,626.4 L1379.7,621.6 L1381.6,616.7 L1382.5,614.1"/><path d="M1242.8,1031.3 L1244.6,1026.2 L1246.5,1021.2 L1248.4,1016.3 L1250.2,1011.4 L1252.1,1006.6 L1254,1001.9 L1255.8,997.2 L1257.7,992.6 L1259.5,988 L1261.4,983.4 L1263.3,978.9 L1265.1,974.4 L1267,969.9 L1268.9,965.4 L1270.7,961 L1272.6,956.5 L1274.4,952.1 L1276.3,947.6 L1278.2,943.1 L1280,938.7 L1281.9,934.2 L1283.8,929.7 L1285.6,925.2 L1287.5,920.7 L1289.4,916.1 L1291.2,911.5 L1293.1,906.9 L1294.9,902.3 L1296.8,897.7 L1298.7,893 L1300.5,888.3 L1302.4,883.6 L1304.3,878.8 L1306.1,874 L1308,869.2 L1309.8,864.3 L1311.7,859.4 L1313.6,854.5 L1315.4,849.6 L1317.3,844.6 L1319.2,839.7 L1321,834.7 L1322.9,829.6 L1324.7,824.6 L1326.6,819.5 L1328.5,814.5 L1330.3,809.4 L1332.2,804.3 L1334.1,799.3 L1335.9,794.2 L1337.8,789.1 L1339.7,784 L1341.5,779 L1343.4,774 L1345.2,768.9 L1347.1,764 L1349,759 L1350.8,754.1 L1352.7,749.2 L1354.6,744.4 L1356.4,739.5 L1358.3,734.8 L1360.1,730 L1362,725.3 L1363.9,720.7 L1365.7,716 L1367.6,711.4 L1369.5,706.9 L1371.3,702.4 L1373.2,697.9 L1375,693.4 L1376.9,688.9 L1378.8,684.4 L1380.6,679.9 L1382.5,675.3"/><path d="M1266.1,1031.3 L1267.9,1027 L1269.8,1022.7 L1271.7,1018.5 L1273.5,1014.3 L1275.4,1010.1 L1277.2,1005.9 L1279.1,1001.8 L1281,997.6 L1282.8,993.5 L1284.7,989.3 L1286.6,985.2 L1288.4,981 L1290.3,976.9 L1292.1,972.7 L1294,968.5 L1295.9,964.3 L1297.7,960.1 L1299.6,955.8 L1301.5,951.5 L1303.3,947.2 L1305.2,942.9 L1307.1,938.6 L1308.9,934.2 L1310.8,929.8 L1312.6,925.3 L1314.5,920.9 L1316.4,916.4 L1318.2,911.8 L1320.1,907.2 L1322,902.6 L1323.8,898 L1325.7,893.3 L1327.5,888.6 L1329.4,883.9 L1331.3,879.1 L1333.1,874.3 L1335,869.5 L1336.9,864.7 L1338.7,859.8 L1340.6,854.9 L1342.4,850 L1344.3,845.1 L1346.2,840.2 L1348,835.3 L1349.9,830.3 L1351.8,825.4 L1353.6,820.5 L1355.5,815.5 L1357.4,810.7 L1359.2,805.8 L1361.1,800.9 L1362.9,796.1 L1364.8,791.4 L1366.7,786.6 L1368.5,781.9 L1370.4,777.2 L1372.3,772.6 L1374.1,768.1 L1376,763.5 L1377.8,759.1 L1379.7,754.6 L1381.6,750.3 L1382.5,748.1"/><path d="M1289.4,1031.3 L1291.2,1027.6 L1293.1,1023.9 L1294.9,1020.3 L1296.8,1016.6 L1298.7,1012.9 L1300.5,1009.2 L1302.4,1005.4 L1304.3,1001.7 L1306.1,997.9 L1308,994.1 L1309.8,990.3 L1311.7,986.5 L1313.6,982.6 L1315.4,978.7 L1317.3,974.8 L1319.2,970.8 L1321,966.8 L1322.9,962.8 L1324.7,958.7 L1326.6,954.7 L1328.5,950.5 L1330.3,946.3 L1332.2,942.1 L1334.1,937.9 L1335.9,933.6 L1337.8,929.3 L1339.7,924.9 L1341.5,920.5 L1343.4,916 L1345.2,911.5 L1347.1,907 L1349,902.4 L1350.8,897.9 L1352.7,893.3 L1354.6,888.6 L1356.4,884 L1358.3,879.3 L1360.1,874.6 L1362,869.9 L1363.9,865.2 L1365.7,860.5 L1367.6,855.8 L1369.5,851.2 L1371.3,846.5 L1373.2,841.9 L1375,837.3 L1376.9,832.7 L1378.8,828.2 L1380.6,823.7 L1382.5,819.3"/><path d="M1312.6,1031.3 L1314.5,1028 L1316.4,1024.6 L1318.2,1021.3 L1320.1,1017.9 L1322,1014.4 L1323.8,1011 L1325.7,1007.5 L1327.5,1003.9 L1329.4,1000.3 L1331.3,996.7 L1333.1,993.1 L1335,989.4 L1336.9,985.7 L1338.7,981.9 L1340.6,978.1 L1342.4,974.2 L1344.3,970.2 L1346.2,966.3 L1348,962.2 L1349.9,958.2 L1351.8,954 L1353.6,949.9 L1355.5,945.6 L1357.4,941.4 L1359.2,937 L1361.1,932.7 L1362.9,928.3 L1364.8,923.9 L1366.7,919.4 L1368.5,914.9 L1370.4,910.4 L1372.3,905.8 L1374.1,901.3 L1376,896.7 L1377.8,892.2 L1379.7,887.7 L1381.6,883.2 L1382.5,880.9"/><path d="M1335.9,1031.3 L1337.8,1028.1 L1339.7,1024.8 L1341.5,1021.4 L1343.4,1018.1 L1345.2,1014.6 L1347.1,1011.1 L1349,1007.6 L1350.8,1004 L1352.7,1000.3 L1354.6,996.6 L1356.4,992.8 L1358.3,988.9 L1360.1,985 L1362,981 L1363.9,977 L1365.7,972.9 L1367.6,968.7 L1369.5,964.5 L1371.3,960.2 L1373.2,955.9 L1375,951.5 L1376.9,947.1 L1378.8,942.6 L1380.6,938.1 L1382.5,933.6"/><path d="M1359.2,1031.3 L1361.1,1027.8 L1362.9,1024.2 L1364.8,1020.6 L1366.7,1016.9 L1368.5,1013.1 L1370.4,1009.2 L1372.3,1005.2 L1374.1,1001.1 L1376,997 L1377.8,992.8 L1379.7,988.5 L1381.6,984.2 L1382.5,982"/></g>
<path d="M1149.1,1031.3v-4.5M1149.1,612.4v4.5M1265.6,1031.3v-4.5M1265.6,612.4v4.5M1033.2,926.1h4.5M1382.5,926.1h-4.5M1033.2,821.3h4.5M1382.5,821.3h-4.5M1033.2,716.6h4.5M1382.5,716.6h-4.5" stroke="#000" stroke-width="2.8" fill="none"/>
<rect x="1033.2" y="612.4" width="349.3" height="418.9" fill="none" stroke="#000" stroke-width="3"/>
<text x="1026" y="1044.7" font-size="42.5" text-anchor="end" textLength="21.25" lengthAdjust="spacingAndGlyphs">0</text>
<text x="1025.5" y="940" font-size="42.5" text-anchor="end" textLength="50.5" lengthAdjust="spacingAndGlyphs">0.5</text>
<text x="1023.2" y="835.2" font-size="42.5" text-anchor="end" textLength="15.5" lengthAdjust="spacingAndGlyphs">1</text>
<text x="1025" y="730.5" font-size="42.5" text-anchor="end" textLength="49.5" lengthAdjust="spacingAndGlyphs">1.5</text>
<text x="1025.7" y="625.8" font-size="42.5" text-anchor="end" textLength="21.25" lengthAdjust="spacingAndGlyphs">2</text>
<text x="1033.2" y="1074.9" font-size="42.5" text-anchor="middle" textLength="21.25" lengthAdjust="spacingAndGlyphs">0</text>
<text x="1149.3" y="1074.9" font-size="42.5" text-anchor="middle" textLength="15.5" lengthAdjust="spacingAndGlyphs">1</text>
<text x="1266.1" y="1074.9" font-size="42.5" text-anchor="middle" textLength="21.25" lengthAdjust="spacingAndGlyphs">2</text>
<text x="1382.5" y="1074.9" font-size="42.5" text-anchor="middle" textLength="21.25" lengthAdjust="spacingAndGlyphs">3</text>
<text x="1205.3" y="1115.9" font-size="50" font-style="italic" text-anchor="middle">t</text>
<text transform="translate(954.7,820.8) rotate(-90)" font-size="49" font-style="italic" text-anchor="middle">η</text>
<text x="1055.7" y="671" font-size="40.5">V</text>
<text x="1085.4" y="691.7" font-size="32">a</text>
<path d="M1101.1,658h9.1M1101.1,666h9.1" stroke="#000" stroke-width="2.5" stroke-linecap="round"/>
<text x="1121.2" y="672.7" font-size="42.5" textLength="49.4" lengthAdjust="spacingAndGlyphs">1.3</text>
</svg></body></html>
